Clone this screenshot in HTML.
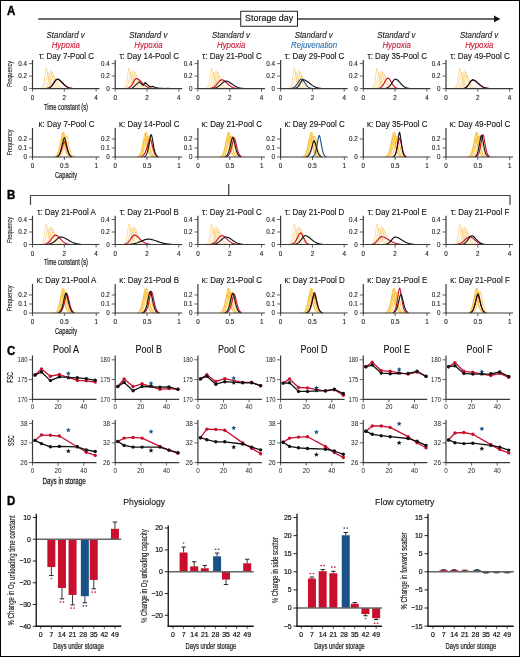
<!DOCTYPE html>
<html><head><meta charset="utf-8"><style>
html,body{margin:0;padding:0;background:#fff;width:520px;height:657px;overflow:hidden}
svg{display:block;will-change:transform}
text{font-family:"Liberation Sans",sans-serif}
</style></head><body>
<svg width="520" height="657" viewBox="0 0 520 657">
<rect x="0.5" y="0.5" width="519" height="656" fill="#fff" stroke="#000" stroke-width="1"/>
<text transform="translate(6.9,15) scale(1,1.1)" font-size="11.5" text-anchor="start" fill="#000" font-weight="bold" font-style="normal" stroke="#000" stroke-width="0.35" >A</text>
<text transform="translate(6.9,199) scale(1,1.1)" font-size="11.5" text-anchor="start" fill="#000" font-weight="bold" font-style="normal" stroke="#000" stroke-width="0.35" >B</text>
<text transform="translate(6.9,354.5) scale(1,1.1)" font-size="11.5" text-anchor="start" fill="#000" font-weight="bold" font-style="normal" stroke="#000" stroke-width="0.35" >C</text>
<text transform="translate(6.9,505) scale(1,1.1)" font-size="11.5" text-anchor="start" fill="#000" font-weight="bold" font-style="normal" stroke="#000" stroke-width="0.35" >D</text>
<line x1="38.25" y1="18.95" x2="495" y2="18.95" stroke="#3a3a3a" stroke-width="1.6"/>
<polygon points="494,15.6 500.4,18.9 494,22.2" fill="#111"/>
<rect x="240.75" y="11.25" width="56.75" height="15" fill="#fff" stroke="#222" stroke-width="1"/>
<text transform="translate(269.1,21.2) scale(1,1.08)" font-size="9" text-anchor="middle" fill="#111" font-weight="normal" font-style="normal" textLength="48" lengthAdjust="spacingAndGlyphs" stroke="#111" stroke-width="0.15" >Storage day</text>
<text transform="translate(65.6,37.5) scale(1,1.2)" font-size="8" text-anchor="middle" fill="#1a1a1a" font-weight="normal" font-style="italic" textLength="38.1" lengthAdjust="spacingAndGlyphs" stroke="#1a1a1a" stroke-width="0.1" >Standard v</text>
<text transform="translate(65.8,47.8) scale(1,1.2)" font-size="8" text-anchor="middle" fill="#c8102e" font-weight="normal" font-style="italic" textLength="28.3" lengthAdjust="spacingAndGlyphs" stroke="#c8102e" stroke-width="0.1" >Hypoxia</text>
<text transform="translate(66.5,59) scale(1,1.2)" font-size="8" text-anchor="middle" fill="#111" font-weight="normal" font-style="normal" stroke="#111" stroke-width="0.1" >τ: Day 7-Pool C</text>
<polyline points="40.45,88.43 41.09,88.22 41.72,87.82 42.36,87.07 42.99,85.74 43.63,83.59 44.27,80.37 44.9,76.09 45.54,71.32 46.17,67.97 46.81,69.87 47.45,72.89 48.08,76.09 48.72,79.05 49.35,81.57 49.99,83.59 50.63,85.13 51.26,86.26 51.9,87.07 52.53,87.62 53.17,87.98 53.81,88.22 54.44,88.37" fill="none" stroke="#f9bd4c" stroke-width="0.5" stroke-linejoin="round" />
<polyline points="41.72,88.45 42.36,88.3 42.99,88.03 43.63,87.55 44.27,86.76 44.9,85.5 45.54,83.63 46.17,81.07 46.81,77.91 47.45,74.59 48.08,72.35 48.72,73.68 49.35,75.83 49.99,78.17 50.63,80.39 51.26,82.34 51.9,83.96 52.53,85.25 53.17,86.24 53.81,86.98 54.44,87.51 55.08,87.88 55.71,88.13 56.35,88.3 56.99,88.41" fill="none" stroke="#f9bd4c" stroke-width="0.5" stroke-linejoin="round" />
<polyline points="44.27,88.44 44.9,88.27 45.54,87.98 46.17,87.45 46.81,86.58 47.45,85.2 48.08,83.15 48.72,80.35 49.35,76.88 49.99,73.24 50.63,70.79 51.26,72.24 51.9,74.61 52.53,77.17 53.17,79.6 53.81,81.74 54.44,83.52 55.08,84.93 55.71,86.02 56.35,86.82 56.99,87.4 57.62,87.81 58.26,88.09 58.89,88.27 59.53,88.4" fill="none" stroke="#f9bd4c" stroke-width="0.5" stroke-linejoin="round" />
<polyline points="45.54,88.37 46.17,88.18 46.81,87.87 47.45,87.34 48.08,86.53 48.72,85.3 49.35,83.56 49.99,81.23 50.63,78.36 51.26,75.22 51.9,72.46 52.53,72.17 53.17,73.93 53.81,76.12 54.44,78.36 55.08,80.46 55.71,82.3 56.35,83.84 56.99,85.08 57.62,86.06 58.26,86.8 58.89,87.34 59.53,87.74 60.17,88.02 60.8,88.22 61.44,88.35" fill="none" stroke="#f9bd4c" stroke-width="0.5" stroke-linejoin="round" />
<polyline points="46.17,88.42 46.81,88.29 47.45,88.07 48.08,87.73 48.72,87.22 49.35,86.47 49.99,85.41 50.63,83.99 51.26,82.2 51.9,80.09 52.53,77.87 53.17,75.97 53.81,75.76 54.44,76.9 55.08,78.35 55.71,79.88 56.35,81.37 56.99,82.74 57.62,83.94 58.26,84.96 58.89,85.81 59.53,86.49 60.17,87.03 60.8,87.45 61.44,87.77 62.07,88.01 62.71,88.18 63.35,88.31 63.98,88.4" fill="none" stroke="#f9bd4c" stroke-width="0.5" stroke-linejoin="round" />
<polyline points="46.81,88.41 47.61,88.28 48.4,88.06 49.2,87.73 49.99,87.26 50.79,86.62 51.58,85.8 52.38,84.79 53.17,83.64 53.97,82.42 54.76,81.24 55.56,80.22 56.35,79.5 57.15,79.22 57.94,79.36 58.74,79.73 59.53,80.27 60.33,80.96 61.12,81.74 61.92,82.58 62.71,83.42 63.51,84.23 64.3,84.99 65.1,85.68 65.89,86.29 66.69,86.8 67.48,87.23 68.28,87.57 69.07,87.85 69.86,88.06 70.66,88.22 71.45,88.34 72.25,88.42" fill="none" stroke="#c8102e" stroke-width="1.15" stroke-linejoin="round" />
<polyline points="46.81,88.45 47.61,88.34 48.4,88.15 49.2,87.87 49.99,87.45 50.79,86.88 51.58,86.12 52.38,85.17 53.17,84.06 53.97,82.84 54.76,81.61 55.56,80.49 56.35,79.62 57.15,79.15 57.94,79.15 58.74,79.43 59.53,79.92 60.33,80.57 61.12,81.33 61.92,82.15 62.71,83.01 63.51,83.85 64.3,84.65 65.1,85.37 65.89,86.02 66.69,86.58 67.48,87.05 68.28,87.43 69.07,87.73 69.86,87.97 70.66,88.15 71.45,88.29 72.25,88.39" fill="none" stroke="#111" stroke-width="1.15" stroke-linejoin="round" />
<line x1="32.5" y1="59.9" x2="32.5" y2="89.1" stroke="#3a3a3a" stroke-width="1.2"/>
<line x1="32" y1="88.6" x2="99.5" y2="88.6" stroke="#3a3a3a" stroke-width="1.2"/>
<line x1="29" y1="88.6" x2="32.5" y2="88.6" stroke="#3a3a3a" stroke-width="0.8"/>
<text transform="translate(27,90.8) scale(1,1)" font-size="6.3" text-anchor="end" fill="#222222" font-weight="normal" font-style="normal" stroke="#222222" stroke-width="0.1" >0</text>
<line x1="29" y1="76.1" x2="32.5" y2="76.1" stroke="#3a3a3a" stroke-width="0.8"/>
<text transform="translate(27,78.3) scale(1,1)" font-size="6.3" text-anchor="end" fill="#222222" font-weight="normal" font-style="normal" stroke="#222222" stroke-width="0.1" >0.2</text>
<line x1="29" y1="63.6" x2="32.5" y2="63.6" stroke="#3a3a3a" stroke-width="0.8"/>
<text transform="translate(27,65.8) scale(1,1)" font-size="6.3" text-anchor="end" fill="#222222" font-weight="normal" font-style="normal" stroke="#222222" stroke-width="0.1" >0.4</text>
<line x1="32.5" y1="88.6" x2="32.5" y2="91.6" stroke="#3a3a3a" stroke-width="0.8"/>
<text transform="translate(32.5,99.6) scale(1,1)" font-size="6.3" text-anchor="middle" fill="#222222" font-weight="normal" font-style="normal" stroke="#222222" stroke-width="0.12" >0</text>
<line x1="64.3" y1="88.6" x2="64.3" y2="91.6" stroke="#3a3a3a" stroke-width="0.8"/>
<text transform="translate(64.3,99.6) scale(1,1)" font-size="6.3" text-anchor="middle" fill="#222222" font-weight="normal" font-style="normal" stroke="#222222" stroke-width="0.12" >2</text>
<line x1="96.1" y1="88.6" x2="96.1" y2="91.6" stroke="#3a3a3a" stroke-width="0.8"/>
<text transform="translate(96.1,99.6) scale(1,1)" font-size="6.3" text-anchor="middle" fill="#222222" font-weight="normal" font-style="normal" stroke="#222222" stroke-width="0.12" >4</text>
<text stroke="#222222" stroke-width="0.1" transform="translate(10.2,74) rotate(-90) scale(1,1.35)" x="0" y="0" font-size="6" text-anchor="middle" dominant-baseline="central" fill="#222222" font-weight="normal" textLength="26" lengthAdjust="spacingAndGlyphs">Frequency</text>
<text transform="translate(66,110) scale(1,1.2)" font-size="7.2" text-anchor="middle" fill="#222222" font-weight="normal" font-style="normal" textLength="44" lengthAdjust="spacingAndGlyphs" stroke="#222222" stroke-width="0.18" >Time constant (s)</text>
<text transform="translate(66.5,127) scale(1,1.2)" font-size="8" text-anchor="middle" fill="#111" font-weight="normal" font-style="normal" stroke="#111" stroke-width="0.1" >κ: Day 7-Pool C</text>
<polyline points="55.45,156.72 56.09,156.47 56.73,156.05 57.36,155.34 58,154.21 58.64,152.53 59.28,150.14 59.91,146.97 60.55,143.1 61.19,138.85 61.83,134.93 62.46,132.7 63.1,134.71 63.74,138.29 64.38,142.26 65.01,146 65.65,149.17 66.29,151.66 66.93,153.51 67.56,154.8 68.2,155.66 68.84,156.21 69.48,156.55 70.11,156.75" fill="none" stroke="#f8b414" stroke-width="0.7" stroke-linejoin="round" />
<polyline points="56.09,156.75 56.73,156.55 57.36,156.2 58,155.64 58.64,154.76 59.28,153.44 59.91,151.56 60.55,149.02 61.19,145.79 61.83,141.99 62.46,137.94 63.1,134.29 63.74,132.25 64.38,134.1 65.01,137.45 65.65,141.23 66.29,144.89 66.93,148.09 67.56,150.69 68.2,152.7 68.84,154.16 69.48,155.19 70.11,155.88 70.75,156.33 71.39,156.61 72.03,156.78" fill="none" stroke="#f8b414" stroke-width="0.7" stroke-linejoin="round" />
<polyline points="56.73,156.75 57.36,156.56 58,156.26 58.64,155.78 59.28,155.06 59.91,154 60.55,152.53 61.19,150.56 61.83,148.07 62.46,145.12 63.1,141.9 63.74,138.77 64.38,136.39 65.01,136.39 65.65,138.77 66.29,141.9 66.93,145.12 67.56,148.07 68.2,150.56 68.84,152.53 69.48,154 70.11,155.06 70.75,155.78 71.39,156.26 72.03,156.56 72.66,156.75" fill="none" stroke="#f8b414" stroke-width="0.7" stroke-linejoin="round" />
<polyline points="58.64,156.74 59.28,156.55 59.91,156.24 60.55,155.75 61.19,155.01 61.83,153.94 62.46,152.43 63.1,150.42 63.74,147.88 64.38,144.87 65.01,141.58 65.65,138.39 66.29,135.95 66.93,135.95 67.56,138.39 68.2,141.58 68.84,144.87 69.48,147.88 70.11,150.42 70.75,152.43 71.39,153.94 72.03,155.01 72.66,155.75 73.3,156.24 73.94,156.55 74.58,156.74" fill="none" stroke="#f8b414" stroke-width="0.7" stroke-linejoin="round" />
<polyline points="54.18,156.7 54.81,156.49 55.45,156.14 56.09,155.62 56.73,154.83 57.36,153.71 58,152.18 58.64,150.19 59.28,147.75 59.91,144.96 60.55,142.07 61.19,139.51 61.83,138.1 62.46,139.33 63.1,141.59 63.74,144.21 64.38,146.82 65.01,149.2 65.65,151.22 66.29,152.85 66.93,154.11 67.56,155.04 68.2,155.71 68.84,156.17 69.48,156.48 70.11,156.68" fill="none" stroke="#f8b414" stroke-width="0.7" stroke-linejoin="round" />
<polyline points="56.73,156.73 57.36,156.52 58,156.2 58.64,155.7 59.28,154.97 59.91,153.94 60.55,152.56 61.19,150.83 61.83,148.78 62.46,146.55 63.1,144.36 63.74,142.57 64.38,141.7 65.01,142.57 65.65,144.36 66.29,146.55 66.93,148.78 67.56,150.83 68.2,152.56 68.84,153.94 69.48,154.97 70.11,155.7 70.75,156.2 71.39,156.52 72.03,156.73" fill="none" stroke="#c8102e" stroke-width="1.1" stroke-linejoin="round" />
<polyline points="56.73,156.66 57.36,156.4 58,156 58.64,155.37 59.28,154.45 59.91,153.16 60.55,151.44 61.19,149.27 61.83,146.7 62.46,143.9 63.1,141.17 63.74,138.93 64.38,137.83 65.01,138.93 65.65,141.17 66.29,143.9 66.93,146.7 67.56,149.27 68.2,151.44 68.84,153.16 69.48,154.45 70.11,155.37 70.75,156 71.39,156.4 72.03,156.66" fill="none" stroke="#111" stroke-width="1.1" stroke-linejoin="round" />
<line x1="32.5" y1="128" x2="32.5" y2="157.5" stroke="#3a3a3a" stroke-width="1.2"/>
<line x1="32" y1="157" x2="99.5" y2="157" stroke="#3a3a3a" stroke-width="1.2"/>
<line x1="29" y1="157" x2="32.5" y2="157" stroke="#3a3a3a" stroke-width="0.8"/>
<text transform="translate(27,159.2) scale(1,1)" font-size="6.3" text-anchor="end" fill="#222222" font-weight="normal" font-style="normal" stroke="#222222" stroke-width="0.1" >0</text>
<line x1="29" y1="148" x2="32.5" y2="148" stroke="#3a3a3a" stroke-width="0.8"/>
<text transform="translate(27,150.2) scale(1,1)" font-size="6.3" text-anchor="end" fill="#222222" font-weight="normal" font-style="normal" stroke="#222222" stroke-width="0.1" >0.1</text>
<line x1="29" y1="139" x2="32.5" y2="139" stroke="#3a3a3a" stroke-width="0.8"/>
<text transform="translate(27,141.2) scale(1,1)" font-size="6.3" text-anchor="end" fill="#222222" font-weight="normal" font-style="normal" stroke="#222222" stroke-width="0.1" >0.2</text>
<line x1="32.5" y1="157" x2="32.5" y2="160" stroke="#3a3a3a" stroke-width="0.8"/>
<text transform="translate(32.5,168) scale(1,1)" font-size="6.3" text-anchor="middle" fill="#222222" font-weight="normal" font-style="normal" stroke="#222222" stroke-width="0.12" >0</text>
<line x1="64.38" y1="157" x2="64.38" y2="160" stroke="#3a3a3a" stroke-width="0.8"/>
<text transform="translate(64.38,168) scale(1,1)" font-size="6.3" text-anchor="middle" fill="#222222" font-weight="normal" font-style="normal" stroke="#222222" stroke-width="0.12" >0.5</text>
<line x1="96.25" y1="157" x2="96.25" y2="160" stroke="#3a3a3a" stroke-width="0.8"/>
<text transform="translate(96.25,168) scale(1,1)" font-size="6.3" text-anchor="middle" fill="#222222" font-weight="normal" font-style="normal" stroke="#222222" stroke-width="0.12" >1</text>
<text stroke="#222222" stroke-width="0.1" transform="translate(10.2,142.4) rotate(-90) scale(1,1.35)" x="0" y="0" font-size="6" text-anchor="middle" dominant-baseline="central" fill="#222222" font-weight="normal" textLength="26" lengthAdjust="spacingAndGlyphs">Frequency</text>
<text transform="translate(66,177.6) scale(1,1.2)" font-size="7.2" text-anchor="middle" fill="#222222" font-weight="normal" font-style="normal" textLength="22" lengthAdjust="spacingAndGlyphs" stroke="#222222" stroke-width="0.18" >Capacity</text>
<text transform="translate(148.3,37.5) scale(1,1.2)" font-size="8" text-anchor="middle" fill="#1a1a1a" font-weight="normal" font-style="italic" textLength="38.1" lengthAdjust="spacingAndGlyphs" stroke="#1a1a1a" stroke-width="0.1" >Standard v</text>
<text transform="translate(148.5,47.8) scale(1,1.2)" font-size="8" text-anchor="middle" fill="#c8102e" font-weight="normal" font-style="italic" textLength="28.3" lengthAdjust="spacingAndGlyphs" stroke="#c8102e" stroke-width="0.1" >Hypoxia</text>
<text transform="translate(149.2,59) scale(1,1.2)" font-size="8" text-anchor="middle" fill="#111" font-weight="normal" font-style="normal" stroke="#111" stroke-width="0.1" >τ: Day 14-Pool C</text>
<polyline points="123.15,88.43 123.79,88.22 124.42,87.82 125.06,87.07 125.69,85.74 126.33,83.59 126.97,80.37 127.6,76.09 128.24,71.32 128.87,67.97 129.51,69.87 130.15,72.89 130.78,76.09 131.42,79.05 132.05,81.57 132.69,83.59 133.33,85.13 133.96,86.26 134.6,87.07 135.23,87.62 135.87,87.98 136.51,88.22 137.14,88.37" fill="none" stroke="#f9bd4c" stroke-width="0.5" stroke-linejoin="round" />
<polyline points="124.42,88.45 125.06,88.3 125.69,88.03 126.33,87.55 126.97,86.76 127.6,85.5 128.24,83.63 128.87,81.07 129.51,77.91 130.15,74.59 130.78,72.35 131.42,73.68 132.05,75.83 132.69,78.17 133.33,80.39 133.96,82.34 134.6,83.96 135.23,85.25 135.87,86.24 136.51,86.98 137.14,87.51 137.78,87.88 138.41,88.13 139.05,88.3 139.69,88.41" fill="none" stroke="#f9bd4c" stroke-width="0.5" stroke-linejoin="round" />
<polyline points="126.97,88.44 127.6,88.27 128.24,87.98 128.87,87.45 129.51,86.58 130.15,85.2 130.78,83.15 131.42,80.35 132.05,76.88 132.69,73.24 133.33,70.79 133.96,72.24 134.6,74.61 135.23,77.17 135.87,79.6 136.51,81.74 137.14,83.52 137.78,84.93 138.41,86.02 139.05,86.82 139.69,87.4 140.32,87.81 140.96,88.09 141.59,88.27 142.23,88.4" fill="none" stroke="#f9bd4c" stroke-width="0.5" stroke-linejoin="round" />
<polyline points="128.24,88.37 128.87,88.18 129.51,87.87 130.15,87.34 130.78,86.53 131.42,85.3 132.05,83.56 132.69,81.23 133.33,78.36 133.96,75.22 134.6,72.46 135.23,72.17 135.87,73.93 136.51,76.12 137.14,78.36 137.78,80.46 138.41,82.3 139.05,83.84 139.69,85.08 140.32,86.06 140.96,86.8 141.59,87.34 142.23,87.74 142.87,88.02 143.5,88.22 144.14,88.35" fill="none" stroke="#f9bd4c" stroke-width="0.5" stroke-linejoin="round" />
<polyline points="128.87,88.42 129.51,88.29 130.15,88.07 130.78,87.73 131.42,87.22 132.05,86.47 132.69,85.41 133.33,83.99 133.96,82.2 134.6,80.09 135.23,77.87 135.87,75.97 136.51,75.76 137.14,76.9 137.78,78.35 138.41,79.88 139.05,81.37 139.69,82.74 140.32,83.94 140.96,84.96 141.59,85.81 142.23,86.49 142.87,87.03 143.5,87.45 144.14,87.77 144.77,88.01 145.41,88.18 146.05,88.31 146.68,88.4" fill="none" stroke="#f9bd4c" stroke-width="0.5" stroke-linejoin="round" />
<polyline points="127.12,88.37 127.92,88.19 128.72,87.89 129.51,87.42 130.31,86.76 131.1,85.86 131.9,84.72 132.69,83.39 133.49,81.96 134.28,80.58 135.08,79.44 135.87,78.74 136.67,78.62 137.46,78.83 138.26,79.23 139.05,79.79 139.85,80.47 140.64,81.23 141.44,82.04 142.23,82.86 143.03,83.67 143.82,84.43 144.62,85.14 145.41,85.77 146.21,86.33 147,86.8 147.8,87.2 148.59,87.53 149.39,87.8 150.18,88 150.97,88.17 151.77,88.29 152.56,88.38" fill="none" stroke="#c8102e" stroke-width="1.15" stroke-linejoin="round" />
<polyline points="130.31,88.6 132.05,88.29 135.87,84.85 139.21,81.91 143.18,85.47 145.09,82.47 148.91,86.1 150.97,86.72 152.88,86.41 154.95,87.35 156.86,87.85 159.72,88.35 162.11,88.22 164.49,88.47 167.67,88.22 170.06,88.6" fill="none" stroke="#111" stroke-width="1.1" stroke-linejoin="round" />
<line x1="115.2" y1="59.9" x2="115.2" y2="89.1" stroke="#3a3a3a" stroke-width="1.2"/>
<line x1="114.7" y1="88.6" x2="182.2" y2="88.6" stroke="#3a3a3a" stroke-width="1.2"/>
<line x1="111.7" y1="88.6" x2="115.2" y2="88.6" stroke="#3a3a3a" stroke-width="0.8"/>
<text transform="translate(109.7,90.8) scale(1,1)" font-size="6.3" text-anchor="end" fill="#222222" font-weight="normal" font-style="normal" stroke="#222222" stroke-width="0.1" >0</text>
<line x1="111.7" y1="76.1" x2="115.2" y2="76.1" stroke="#3a3a3a" stroke-width="0.8"/>
<text transform="translate(109.7,78.3) scale(1,1)" font-size="6.3" text-anchor="end" fill="#222222" font-weight="normal" font-style="normal" stroke="#222222" stroke-width="0.1" >0.2</text>
<line x1="111.7" y1="63.6" x2="115.2" y2="63.6" stroke="#3a3a3a" stroke-width="0.8"/>
<text transform="translate(109.7,65.8) scale(1,1)" font-size="6.3" text-anchor="end" fill="#222222" font-weight="normal" font-style="normal" stroke="#222222" stroke-width="0.1" >0.4</text>
<line x1="115.2" y1="88.6" x2="115.2" y2="91.6" stroke="#3a3a3a" stroke-width="0.8"/>
<text transform="translate(115.2,99.6) scale(1,1)" font-size="6.3" text-anchor="middle" fill="#222222" font-weight="normal" font-style="normal" stroke="#222222" stroke-width="0.12" >0</text>
<line x1="147" y1="88.6" x2="147" y2="91.6" stroke="#3a3a3a" stroke-width="0.8"/>
<text transform="translate(147,99.6) scale(1,1)" font-size="6.3" text-anchor="middle" fill="#222222" font-weight="normal" font-style="normal" stroke="#222222" stroke-width="0.12" >2</text>
<line x1="178.8" y1="88.6" x2="178.8" y2="91.6" stroke="#3a3a3a" stroke-width="0.8"/>
<text transform="translate(178.8,99.6) scale(1,1)" font-size="6.3" text-anchor="middle" fill="#222222" font-weight="normal" font-style="normal" stroke="#222222" stroke-width="0.12" >4</text>
<text transform="translate(149.2,127) scale(1,1.2)" font-size="8" text-anchor="middle" fill="#111" font-weight="normal" font-style="normal" stroke="#111" stroke-width="0.1" >κ: Day 14-Pool C</text>
<polyline points="138.15,156.72 138.79,156.47 139.43,156.05 140.06,155.34 140.7,154.21 141.34,152.53 141.98,150.14 142.61,146.97 143.25,143.1 143.89,138.85 144.53,134.93 145.16,132.7 145.8,134.71 146.44,138.29 147.08,142.26 147.71,146 148.35,149.17 148.99,151.66 149.63,153.51 150.26,154.8 150.9,155.66 151.54,156.21 152.18,156.55 152.81,156.75" fill="none" stroke="#f8b414" stroke-width="0.7" stroke-linejoin="round" />
<polyline points="138.79,156.75 139.43,156.55 140.06,156.2 140.7,155.64 141.34,154.76 141.98,153.44 142.61,151.56 143.25,149.02 143.89,145.79 144.53,141.99 145.16,137.94 145.8,134.29 146.44,132.25 147.08,134.1 147.71,137.45 148.35,141.23 148.99,144.89 149.63,148.09 150.26,150.69 150.9,152.7 151.54,154.16 152.18,155.19 152.81,155.88 153.45,156.33 154.09,156.61 154.73,156.78" fill="none" stroke="#f8b414" stroke-width="0.7" stroke-linejoin="round" />
<polyline points="139.43,156.75 140.06,156.56 140.7,156.26 141.34,155.78 141.98,155.06 142.61,154 143.25,152.53 143.89,150.56 144.53,148.07 145.16,145.12 145.8,141.9 146.44,138.77 147.08,136.39 147.71,136.39 148.35,138.77 148.99,141.9 149.63,145.12 150.26,148.07 150.9,150.56 151.54,152.53 152.18,154 152.81,155.06 153.45,155.78 154.09,156.26 154.73,156.56 155.36,156.75" fill="none" stroke="#f8b414" stroke-width="0.7" stroke-linejoin="round" />
<polyline points="141.34,156.74 141.98,156.55 142.61,156.24 143.25,155.75 143.89,155.01 144.53,153.94 145.16,152.43 145.8,150.42 146.44,147.88 147.08,144.87 147.71,141.58 148.35,138.39 148.99,135.95 149.63,135.95 150.26,138.39 150.9,141.58 151.54,144.87 152.18,147.88 152.81,150.42 153.45,152.43 154.09,153.94 154.73,155.01 155.36,155.75 156,156.24 156.64,156.55 157.28,156.74" fill="none" stroke="#f8b414" stroke-width="0.7" stroke-linejoin="round" />
<polyline points="136.88,156.7 137.51,156.49 138.15,156.14 138.79,155.62 139.43,154.83 140.06,153.71 140.7,152.18 141.34,150.19 141.98,147.75 142.61,144.96 143.25,142.07 143.89,139.51 144.53,138.1 145.16,139.33 145.8,141.59 146.44,144.21 147.08,146.82 147.71,149.2 148.35,151.22 148.99,152.85 149.63,154.11 150.26,155.04 150.9,155.71 151.54,156.17 152.18,156.48 152.81,156.68" fill="none" stroke="#f8b414" stroke-width="0.7" stroke-linejoin="round" />
<polyline points="140.7,156.68 141.34,156.5 141.98,156.23 142.61,155.85 143.25,155.32 143.89,154.61 144.53,153.67 145.16,152.48 145.8,151.01 146.44,149.28 147.08,147.33 147.71,145.23 148.35,143.13 148.99,141.21 149.63,139.71 150.26,139 150.9,140.03 151.54,142.13 152.18,144.7 152.81,147.33 153.45,149.74 154.09,151.78 154.73,153.4 155.36,154.61 156,155.47 156.64,156.06 157.28,156.44 157.91,156.68" fill="none" stroke="#c8102e" stroke-width="1.1" stroke-linejoin="round" />
<polyline points="143.89,156.78 144.53,156.57 145.16,156.19 145.8,155.55 146.44,154.53 147.08,152.99 147.71,150.81 148.35,147.93 148.99,144.45 149.63,140.65 150.26,137.1 150.9,134.67 151.54,135.01 152.18,137.75 152.81,141.41 153.45,145.18 154.09,148.56 154.73,151.3 155.36,153.35 156,154.78 156.64,155.71 157.28,156.28 157.91,156.62 158.55,156.81" fill="none" stroke="#111" stroke-width="1.1" stroke-linejoin="round" />
<line x1="115.2" y1="128" x2="115.2" y2="157.5" stroke="#3a3a3a" stroke-width="1.2"/>
<line x1="114.7" y1="157" x2="182.2" y2="157" stroke="#3a3a3a" stroke-width="1.2"/>
<line x1="111.7" y1="157" x2="115.2" y2="157" stroke="#3a3a3a" stroke-width="0.8"/>
<text transform="translate(109.7,159.2) scale(1,1)" font-size="6.3" text-anchor="end" fill="#222222" font-weight="normal" font-style="normal" stroke="#222222" stroke-width="0.1" >0</text>
<line x1="111.7" y1="148" x2="115.2" y2="148" stroke="#3a3a3a" stroke-width="0.8"/>
<text transform="translate(109.7,150.2) scale(1,1)" font-size="6.3" text-anchor="end" fill="#222222" font-weight="normal" font-style="normal" stroke="#222222" stroke-width="0.1" >0.1</text>
<line x1="111.7" y1="139" x2="115.2" y2="139" stroke="#3a3a3a" stroke-width="0.8"/>
<text transform="translate(109.7,141.2) scale(1,1)" font-size="6.3" text-anchor="end" fill="#222222" font-weight="normal" font-style="normal" stroke="#222222" stroke-width="0.1" >0.2</text>
<line x1="115.2" y1="157" x2="115.2" y2="160" stroke="#3a3a3a" stroke-width="0.8"/>
<text transform="translate(115.2,168) scale(1,1)" font-size="6.3" text-anchor="middle" fill="#222222" font-weight="normal" font-style="normal" stroke="#222222" stroke-width="0.12" >0</text>
<line x1="147.07" y1="157" x2="147.07" y2="160" stroke="#3a3a3a" stroke-width="0.8"/>
<text transform="translate(147.07,168) scale(1,1)" font-size="6.3" text-anchor="middle" fill="#222222" font-weight="normal" font-style="normal" stroke="#222222" stroke-width="0.12" >0.5</text>
<line x1="178.95" y1="157" x2="178.95" y2="160" stroke="#3a3a3a" stroke-width="0.8"/>
<text transform="translate(178.95,168) scale(1,1)" font-size="6.3" text-anchor="middle" fill="#222222" font-weight="normal" font-style="normal" stroke="#222222" stroke-width="0.12" >1</text>
<text transform="translate(231,37.5) scale(1,1.2)" font-size="8" text-anchor="middle" fill="#1a1a1a" font-weight="normal" font-style="italic" textLength="38.1" lengthAdjust="spacingAndGlyphs" stroke="#1a1a1a" stroke-width="0.1" >Standard v</text>
<text transform="translate(231.2,47.8) scale(1,1.2)" font-size="8" text-anchor="middle" fill="#c8102e" font-weight="normal" font-style="italic" textLength="28.3" lengthAdjust="spacingAndGlyphs" stroke="#c8102e" stroke-width="0.1" >Hypoxia</text>
<text transform="translate(231.9,59) scale(1,1.2)" font-size="8" text-anchor="middle" fill="#111" font-weight="normal" font-style="normal" stroke="#111" stroke-width="0.1" >τ: Day 21-Pool C</text>
<polyline points="205.85,88.43 206.49,88.22 207.12,87.82 207.76,87.07 208.39,85.74 209.03,83.59 209.67,80.37 210.3,76.09 210.94,71.32 211.57,67.97 212.21,69.87 212.85,72.89 213.48,76.09 214.12,79.05 214.75,81.57 215.39,83.59 216.03,85.13 216.66,86.26 217.3,87.07 217.93,87.62 218.57,87.98 219.21,88.22 219.84,88.37" fill="none" stroke="#f9bd4c" stroke-width="0.5" stroke-linejoin="round" />
<polyline points="207.12,88.45 207.76,88.3 208.39,88.03 209.03,87.55 209.67,86.76 210.3,85.5 210.94,83.63 211.57,81.07 212.21,77.91 212.85,74.59 213.48,72.35 214.12,73.68 214.75,75.83 215.39,78.17 216.03,80.39 216.66,82.34 217.3,83.96 217.93,85.25 218.57,86.24 219.21,86.98 219.84,87.51 220.48,87.88 221.11,88.13 221.75,88.3 222.39,88.41" fill="none" stroke="#f9bd4c" stroke-width="0.5" stroke-linejoin="round" />
<polyline points="209.67,88.44 210.3,88.27 210.94,87.98 211.57,87.45 212.21,86.58 212.85,85.2 213.48,83.15 214.12,80.35 214.75,76.88 215.39,73.24 216.03,70.79 216.66,72.24 217.3,74.61 217.93,77.17 218.57,79.6 219.21,81.74 219.84,83.52 220.48,84.93 221.11,86.02 221.75,86.82 222.39,87.4 223.02,87.81 223.66,88.09 224.29,88.27 224.93,88.4" fill="none" stroke="#f9bd4c" stroke-width="0.5" stroke-linejoin="round" />
<polyline points="210.94,88.37 211.57,88.18 212.21,87.87 212.85,87.34 213.48,86.53 214.12,85.3 214.75,83.56 215.39,81.23 216.03,78.36 216.66,75.22 217.3,72.46 217.93,72.17 218.57,73.93 219.21,76.12 219.84,78.36 220.48,80.46 221.11,82.3 221.75,83.84 222.39,85.08 223.02,86.06 223.66,86.8 224.29,87.34 224.93,87.74 225.57,88.02 226.2,88.22 226.84,88.35" fill="none" stroke="#f9bd4c" stroke-width="0.5" stroke-linejoin="round" />
<polyline points="211.57,88.42 212.21,88.29 212.85,88.07 213.48,87.73 214.12,87.22 214.75,86.47 215.39,85.41 216.03,83.99 216.66,82.2 217.3,80.09 217.93,77.87 218.57,75.97 219.21,75.76 219.84,76.9 220.48,78.35 221.11,79.88 221.75,81.37 222.39,82.74 223.02,83.94 223.66,84.96 224.29,85.81 224.93,86.49 225.57,87.03 226.2,87.45 226.84,87.77 227.47,88.01 228.11,88.18 228.75,88.31 229.38,88.4" fill="none" stroke="#f9bd4c" stroke-width="0.5" stroke-linejoin="round" />
<polyline points="209.83,88.44 210.62,88.34 211.42,88.19 212.21,87.97 213.01,87.65 213.8,87.23 214.59,86.67 215.39,85.98 216.19,85.16 216.98,84.22 217.78,83.22 218.57,82.2 219.37,81.26 220.16,80.47 220.96,79.93 221.75,79.72 222.55,79.85 223.34,80.17 224.14,80.66 224.93,81.28 225.73,81.99 226.52,82.75 227.32,83.53 228.11,84.28 228.91,85 229.7,85.65 230.5,86.23 231.29,86.73 232.09,87.15 232.88,87.5 233.68,87.78 234.47,88 235.26,88.17 236.06,88.29 236.85,88.39" fill="none" stroke="#c8102e" stroke-width="1.15" stroke-linejoin="round" />
<polyline points="212.21,88.43 213.01,88.34 213.8,88.23 214.59,88.06 215.39,87.85 216.19,87.57 216.98,87.22 217.78,86.79 218.57,86.28 219.37,85.69 220.16,85.04 220.96,84.34 221.75,83.62 222.55,82.92 223.34,82.27 224.14,81.73 224.93,81.33 225.73,81.12 226.52,81.13 227.32,81.29 228.11,81.57 228.91,81.95 229.7,82.41 230.5,82.93 231.29,83.48 232.09,84.05 232.88,84.62 233.68,85.16 234.47,85.67 235.26,86.14 236.06,86.57 236.85,86.94 237.65,87.27 238.44,87.54 239.24,87.77 240.03,87.96 240.83,88.11 241.62,88.24 242.42,88.33 243.21,88.4" fill="none" stroke="#111" stroke-width="1.15" stroke-linejoin="round" />
<line x1="197.9" y1="59.9" x2="197.9" y2="89.1" stroke="#3a3a3a" stroke-width="1.2"/>
<line x1="197.4" y1="88.6" x2="264.9" y2="88.6" stroke="#3a3a3a" stroke-width="1.2"/>
<line x1="194.4" y1="88.6" x2="197.9" y2="88.6" stroke="#3a3a3a" stroke-width="0.8"/>
<text transform="translate(192.4,90.8) scale(1,1)" font-size="6.3" text-anchor="end" fill="#222222" font-weight="normal" font-style="normal" stroke="#222222" stroke-width="0.1" >0</text>
<line x1="194.4" y1="76.1" x2="197.9" y2="76.1" stroke="#3a3a3a" stroke-width="0.8"/>
<text transform="translate(192.4,78.3) scale(1,1)" font-size="6.3" text-anchor="end" fill="#222222" font-weight="normal" font-style="normal" stroke="#222222" stroke-width="0.1" >0.2</text>
<line x1="194.4" y1="63.6" x2="197.9" y2="63.6" stroke="#3a3a3a" stroke-width="0.8"/>
<text transform="translate(192.4,65.8) scale(1,1)" font-size="6.3" text-anchor="end" fill="#222222" font-weight="normal" font-style="normal" stroke="#222222" stroke-width="0.1" >0.4</text>
<line x1="197.9" y1="88.6" x2="197.9" y2="91.6" stroke="#3a3a3a" stroke-width="0.8"/>
<text transform="translate(197.9,99.6) scale(1,1)" font-size="6.3" text-anchor="middle" fill="#222222" font-weight="normal" font-style="normal" stroke="#222222" stroke-width="0.12" >0</text>
<line x1="229.7" y1="88.6" x2="229.7" y2="91.6" stroke="#3a3a3a" stroke-width="0.8"/>
<text transform="translate(229.7,99.6) scale(1,1)" font-size="6.3" text-anchor="middle" fill="#222222" font-weight="normal" font-style="normal" stroke="#222222" stroke-width="0.12" >2</text>
<line x1="261.5" y1="88.6" x2="261.5" y2="91.6" stroke="#3a3a3a" stroke-width="0.8"/>
<text transform="translate(261.5,99.6) scale(1,1)" font-size="6.3" text-anchor="middle" fill="#222222" font-weight="normal" font-style="normal" stroke="#222222" stroke-width="0.12" >4</text>
<text transform="translate(231.9,127) scale(1,1.2)" font-size="8" text-anchor="middle" fill="#111" font-weight="normal" font-style="normal" stroke="#111" stroke-width="0.1" >κ: Day 21-Pool C</text>
<polyline points="220.85,156.72 221.49,156.47 222.12,156.05 222.76,155.34 223.4,154.21 224.04,152.53 224.68,150.14 225.31,146.97 225.95,143.1 226.59,138.85 227.23,134.93 227.86,132.7 228.5,134.71 229.14,138.29 229.78,142.26 230.41,146 231.05,149.17 231.69,151.66 232.33,153.51 232.96,154.8 233.6,155.66 234.24,156.21 234.88,156.55 235.51,156.75" fill="none" stroke="#f8b414" stroke-width="0.7" stroke-linejoin="round" />
<polyline points="221.49,156.75 222.12,156.55 222.76,156.2 223.4,155.64 224.04,154.76 224.68,153.44 225.31,151.56 225.95,149.02 226.59,145.79 227.23,141.99 227.86,137.94 228.5,134.29 229.14,132.25 229.78,134.1 230.41,137.45 231.05,141.23 231.69,144.89 232.33,148.09 232.96,150.69 233.6,152.7 234.24,154.16 234.88,155.19 235.51,155.88 236.15,156.33 236.79,156.61 237.43,156.78" fill="none" stroke="#f8b414" stroke-width="0.7" stroke-linejoin="round" />
<polyline points="222.12,156.75 222.76,156.56 223.4,156.26 224.04,155.78 224.68,155.06 225.31,154 225.95,152.53 226.59,150.56 227.23,148.07 227.86,145.12 228.5,141.9 229.14,138.77 229.78,136.39 230.41,136.39 231.05,138.77 231.69,141.9 232.33,145.12 232.96,148.07 233.6,150.56 234.24,152.53 234.88,154 235.51,155.06 236.15,155.78 236.79,156.26 237.43,156.56 238.06,156.75" fill="none" stroke="#f8b414" stroke-width="0.7" stroke-linejoin="round" />
<polyline points="224.04,156.74 224.68,156.55 225.31,156.24 225.95,155.75 226.59,155.01 227.23,153.94 227.86,152.43 228.5,150.42 229.14,147.88 229.78,144.87 230.41,141.58 231.05,138.39 231.69,135.95 232.33,135.95 232.96,138.39 233.6,141.58 234.24,144.87 234.88,147.88 235.51,150.42 236.15,152.43 236.79,153.94 237.43,155.01 238.06,155.75 238.7,156.24 239.34,156.55 239.98,156.74" fill="none" stroke="#f8b414" stroke-width="0.7" stroke-linejoin="round" />
<polyline points="219.58,156.7 220.21,156.49 220.85,156.14 221.49,155.62 222.12,154.83 222.76,153.71 223.4,152.18 224.04,150.19 224.68,147.75 225.31,144.96 225.95,142.07 226.59,139.51 227.23,138.1 227.86,139.33 228.5,141.59 229.14,144.21 229.78,146.82 230.41,149.2 231.05,151.22 231.69,152.85 232.33,154.11 232.96,155.04 233.6,155.71 234.24,156.17 234.88,156.48 235.51,156.68" fill="none" stroke="#f8b414" stroke-width="0.7" stroke-linejoin="round" />
<polyline points="226.59,156.66 227.23,156.41 227.86,156.01 228.5,155.4 229.14,154.49 229.78,153.22 230.41,151.52 231.05,149.38 231.69,146.85 232.33,144.09 232.96,141.39 233.6,139.18 234.24,138.1 234.88,139.18 235.51,141.39 236.15,144.09 236.79,146.85 237.43,149.38 238.06,151.52 238.7,153.22 239.34,154.49 239.98,155.4 240.61,156.01 241.25,156.41 241.89,156.66" fill="none" stroke="#c8102e" stroke-width="1.1" stroke-linejoin="round" />
<polyline points="224.68,156.76 225.31,156.58 225.95,156.27 226.59,155.79 227.23,155.05 227.86,153.99 228.5,152.51 229.14,150.58 229.78,148.18 230.41,145.41 231.05,142.47 231.69,139.72 232.33,137.65 232.96,137.17 233.6,138.78 234.24,141.32 234.88,144.24 235.51,147.1 236.15,149.67 236.79,151.79 237.43,153.45 238.06,154.67 238.7,155.53 239.34,156.1 239.98,156.47 240.61,156.7" fill="none" stroke="#111" stroke-width="1.1" stroke-linejoin="round" />
<line x1="197.9" y1="128" x2="197.9" y2="157.5" stroke="#3a3a3a" stroke-width="1.2"/>
<line x1="197.4" y1="157" x2="264.9" y2="157" stroke="#3a3a3a" stroke-width="1.2"/>
<line x1="194.4" y1="157" x2="197.9" y2="157" stroke="#3a3a3a" stroke-width="0.8"/>
<text transform="translate(192.4,159.2) scale(1,1)" font-size="6.3" text-anchor="end" fill="#222222" font-weight="normal" font-style="normal" stroke="#222222" stroke-width="0.1" >0</text>
<line x1="194.4" y1="148" x2="197.9" y2="148" stroke="#3a3a3a" stroke-width="0.8"/>
<text transform="translate(192.4,150.2) scale(1,1)" font-size="6.3" text-anchor="end" fill="#222222" font-weight="normal" font-style="normal" stroke="#222222" stroke-width="0.1" >0.1</text>
<line x1="194.4" y1="139" x2="197.9" y2="139" stroke="#3a3a3a" stroke-width="0.8"/>
<text transform="translate(192.4,141.2) scale(1,1)" font-size="6.3" text-anchor="end" fill="#222222" font-weight="normal" font-style="normal" stroke="#222222" stroke-width="0.1" >0.2</text>
<line x1="197.9" y1="157" x2="197.9" y2="160" stroke="#3a3a3a" stroke-width="0.8"/>
<text transform="translate(197.9,168) scale(1,1)" font-size="6.3" text-anchor="middle" fill="#222222" font-weight="normal" font-style="normal" stroke="#222222" stroke-width="0.12" >0</text>
<line x1="229.78" y1="157" x2="229.78" y2="160" stroke="#3a3a3a" stroke-width="0.8"/>
<text transform="translate(229.78,168) scale(1,1)" font-size="6.3" text-anchor="middle" fill="#222222" font-weight="normal" font-style="normal" stroke="#222222" stroke-width="0.12" >0.5</text>
<line x1="261.65" y1="157" x2="261.65" y2="160" stroke="#3a3a3a" stroke-width="0.8"/>
<text transform="translate(261.65,168) scale(1,1)" font-size="6.3" text-anchor="middle" fill="#222222" font-weight="normal" font-style="normal" stroke="#222222" stroke-width="0.12" >1</text>
<text transform="translate(313.7,37.5) scale(1,1.2)" font-size="8" text-anchor="middle" fill="#1a1a1a" font-weight="normal" font-style="italic" textLength="38.1" lengthAdjust="spacingAndGlyphs" stroke="#1a1a1a" stroke-width="0.1" >Standard v</text>
<text transform="translate(314.1,47.8) scale(1,1.2)" font-size="8" text-anchor="middle" fill="#2a6fad" font-weight="normal" font-style="italic" textLength="46" lengthAdjust="spacingAndGlyphs" stroke="#2a6fad" stroke-width="0.1" >Rejuvenation</text>
<text transform="translate(314.6,59) scale(1,1.2)" font-size="8" text-anchor="middle" fill="#111" font-weight="normal" font-style="normal" stroke="#111" stroke-width="0.1" >τ: Day 29-Pool C</text>
<polyline points="288.55,88.43 289.19,88.22 289.82,87.82 290.46,87.07 291.09,85.74 291.73,83.59 292.37,80.37 293,76.09 293.64,71.32 294.27,67.97 294.91,69.87 295.55,72.89 296.18,76.09 296.82,79.05 297.45,81.57 298.09,83.59 298.73,85.13 299.36,86.26 300,87.07 300.63,87.62 301.27,87.98 301.91,88.22 302.54,88.37" fill="none" stroke="#f9bd4c" stroke-width="0.5" stroke-linejoin="round" />
<polyline points="289.82,88.45 290.46,88.3 291.09,88.03 291.73,87.55 292.37,86.76 293,85.5 293.64,83.63 294.27,81.07 294.91,77.91 295.55,74.59 296.18,72.35 296.82,73.68 297.45,75.83 298.09,78.17 298.73,80.39 299.36,82.34 300,83.96 300.63,85.25 301.27,86.24 301.91,86.98 302.54,87.51 303.18,87.88 303.81,88.13 304.45,88.3 305.09,88.41" fill="none" stroke="#f9bd4c" stroke-width="0.5" stroke-linejoin="round" />
<polyline points="292.37,88.44 293,88.27 293.64,87.98 294.27,87.45 294.91,86.58 295.55,85.2 296.18,83.15 296.82,80.35 297.45,76.88 298.09,73.24 298.73,70.79 299.36,72.24 300,74.61 300.63,77.17 301.27,79.6 301.91,81.74 302.54,83.52 303.18,84.93 303.81,86.02 304.45,86.82 305.09,87.4 305.72,87.81 306.36,88.09 306.99,88.27 307.63,88.4" fill="none" stroke="#f9bd4c" stroke-width="0.5" stroke-linejoin="round" />
<polyline points="293.64,88.37 294.27,88.18 294.91,87.87 295.55,87.34 296.18,86.53 296.82,85.3 297.45,83.56 298.09,81.23 298.73,78.36 299.36,75.22 300,72.46 300.63,72.17 301.27,73.93 301.91,76.12 302.54,78.36 303.18,80.46 303.81,82.3 304.45,83.84 305.09,85.08 305.72,86.06 306.36,86.8 306.99,87.34 307.63,87.74 308.27,88.02 308.9,88.22 309.54,88.35" fill="none" stroke="#f9bd4c" stroke-width="0.5" stroke-linejoin="round" />
<polyline points="294.27,88.42 294.91,88.29 295.55,88.07 296.18,87.73 296.82,87.22 297.45,86.47 298.09,85.41 298.73,83.99 299.36,82.2 300,80.09 300.63,77.87 301.27,75.97 301.91,75.76 302.54,76.9 303.18,78.35 303.81,79.88 304.45,81.37 305.09,82.74 305.72,83.94 306.36,84.96 306.99,85.81 307.63,86.49 308.27,87.03 308.9,87.45 309.54,87.77 310.17,88.01 310.81,88.18 311.45,88.31 312.08,88.4" fill="none" stroke="#f9bd4c" stroke-width="0.5" stroke-linejoin="round" />
<polyline points="290.94,88.43 291.73,88.3 292.53,88.1 293.32,87.79 294.12,87.34 294.91,86.73 295.71,85.93 296.5,84.94 297.3,83.79 298.09,82.55 298.89,81.32 299.68,80.24 300.48,79.43 301.27,79.05 302.07,79.22 302.86,79.87 303.66,80.86 304.45,82.05 305.25,83.3 306.04,84.49 306.84,85.55 307.63,86.43 308.43,87.12 309.22,87.63 310.02,87.99 310.81,88.23 311.61,88.39" fill="none" stroke="#1a5288" stroke-width="1.15" stroke-linejoin="round" />
<polyline points="294.91,88.39 295.71,88.2 296.5,87.87 297.3,87.36 298.09,86.6 298.89,85.59 299.68,84.33 300.48,82.93 301.27,81.56 302.07,80.43 302.86,79.79 303.66,79.76 304.45,79.93 305.25,80.23 306.04,80.65 306.84,81.15 307.63,81.72 308.43,82.33 309.22,82.96 310.02,83.6 310.81,84.22 311.61,84.82 312.4,85.38 313.2,85.89 313.99,86.35 314.79,86.75 315.58,87.1 316.38,87.4 317.17,87.65 317.97,87.86 318.76,88.03 319.56,88.17 320.35,88.27 321.14,88.36" fill="none" stroke="#111" stroke-width="1.15" stroke-linejoin="round" />
<line x1="280.6" y1="59.9" x2="280.6" y2="89.1" stroke="#3a3a3a" stroke-width="1.2"/>
<line x1="280.1" y1="88.6" x2="347.6" y2="88.6" stroke="#3a3a3a" stroke-width="1.2"/>
<line x1="277.1" y1="88.6" x2="280.6" y2="88.6" stroke="#3a3a3a" stroke-width="0.8"/>
<text transform="translate(275.1,90.8) scale(1,1)" font-size="6.3" text-anchor="end" fill="#222222" font-weight="normal" font-style="normal" stroke="#222222" stroke-width="0.1" >0</text>
<line x1="277.1" y1="76.1" x2="280.6" y2="76.1" stroke="#3a3a3a" stroke-width="0.8"/>
<text transform="translate(275.1,78.3) scale(1,1)" font-size="6.3" text-anchor="end" fill="#222222" font-weight="normal" font-style="normal" stroke="#222222" stroke-width="0.1" >0.2</text>
<line x1="277.1" y1="63.6" x2="280.6" y2="63.6" stroke="#3a3a3a" stroke-width="0.8"/>
<text transform="translate(275.1,65.8) scale(1,1)" font-size="6.3" text-anchor="end" fill="#222222" font-weight="normal" font-style="normal" stroke="#222222" stroke-width="0.1" >0.4</text>
<line x1="280.6" y1="88.6" x2="280.6" y2="91.6" stroke="#3a3a3a" stroke-width="0.8"/>
<text transform="translate(280.6,99.6) scale(1,1)" font-size="6.3" text-anchor="middle" fill="#222222" font-weight="normal" font-style="normal" stroke="#222222" stroke-width="0.12" >0</text>
<line x1="312.4" y1="88.6" x2="312.4" y2="91.6" stroke="#3a3a3a" stroke-width="0.8"/>
<text transform="translate(312.4,99.6) scale(1,1)" font-size="6.3" text-anchor="middle" fill="#222222" font-weight="normal" font-style="normal" stroke="#222222" stroke-width="0.12" >2</text>
<line x1="344.2" y1="88.6" x2="344.2" y2="91.6" stroke="#3a3a3a" stroke-width="0.8"/>
<text transform="translate(344.2,99.6) scale(1,1)" font-size="6.3" text-anchor="middle" fill="#222222" font-weight="normal" font-style="normal" stroke="#222222" stroke-width="0.12" >4</text>
<text transform="translate(314.6,127) scale(1,1.2)" font-size="8" text-anchor="middle" fill="#111" font-weight="normal" font-style="normal" stroke="#111" stroke-width="0.1" >κ: Day 29-Pool C</text>
<polyline points="303.55,156.72 304.19,156.47 304.83,156.05 305.46,155.34 306.1,154.21 306.74,152.53 307.38,150.14 308.01,146.97 308.65,143.1 309.29,138.85 309.93,134.93 310.56,132.7 311.2,134.71 311.84,138.29 312.48,142.26 313.11,146 313.75,149.17 314.39,151.66 315.03,153.51 315.66,154.8 316.3,155.66 316.94,156.21 317.58,156.55 318.21,156.75" fill="none" stroke="#f8b414" stroke-width="0.7" stroke-linejoin="round" />
<polyline points="304.19,156.75 304.83,156.55 305.46,156.2 306.1,155.64 306.74,154.76 307.38,153.44 308.01,151.56 308.65,149.02 309.29,145.79 309.93,141.99 310.56,137.94 311.2,134.29 311.84,132.25 312.48,134.1 313.11,137.45 313.75,141.23 314.39,144.89 315.03,148.09 315.66,150.69 316.3,152.7 316.94,154.16 317.58,155.19 318.21,155.88 318.85,156.33 319.49,156.61 320.13,156.78" fill="none" stroke="#f8b414" stroke-width="0.7" stroke-linejoin="round" />
<polyline points="304.83,156.75 305.46,156.56 306.1,156.26 306.74,155.78 307.38,155.06 308.01,154 308.65,152.53 309.29,150.56 309.93,148.07 310.56,145.12 311.2,141.9 311.84,138.77 312.48,136.39 313.11,136.39 313.75,138.77 314.39,141.9 315.03,145.12 315.66,148.07 316.3,150.56 316.94,152.53 317.58,154 318.21,155.06 318.85,155.78 319.49,156.26 320.13,156.56 320.76,156.75" fill="none" stroke="#f8b414" stroke-width="0.7" stroke-linejoin="round" />
<polyline points="306.74,156.74 307.38,156.55 308.01,156.24 308.65,155.75 309.29,155.01 309.93,153.94 310.56,152.43 311.2,150.42 311.84,147.88 312.48,144.87 313.11,141.58 313.75,138.39 314.39,135.95 315.03,135.95 315.66,138.39 316.3,141.58 316.94,144.87 317.58,147.88 318.21,150.42 318.85,152.43 319.49,153.94 320.13,155.01 320.76,155.75 321.4,156.24 322.04,156.55 322.68,156.74" fill="none" stroke="#f8b414" stroke-width="0.7" stroke-linejoin="round" />
<polyline points="302.28,156.7 302.91,156.49 303.55,156.14 304.19,155.62 304.83,154.83 305.46,153.71 306.1,152.18 306.74,150.19 307.38,147.75 308.01,144.96 308.65,142.07 309.29,139.51 309.93,138.1 310.56,139.33 311.2,141.59 311.84,144.21 312.48,146.82 313.11,149.2 313.75,151.22 314.39,152.85 315.03,154.11 315.66,155.04 316.3,155.71 316.94,156.17 317.58,156.48 318.21,156.68" fill="none" stroke="#f8b414" stroke-width="0.7" stroke-linejoin="round" />
<polyline points="311.84,156.81 312.48,156.63 313.11,156.31 313.75,155.75 314.39,154.85 315.03,153.48 315.66,151.51 316.3,148.86 316.94,145.6 317.58,141.97 318.21,138.44 318.85,135.8 319.49,135.47 320.13,137.81 320.76,141.23 321.4,144.89 322.04,148.26 322.68,151.03 323.31,153.14 323.95,154.62 324.59,155.61 325.23,156.22 325.86,156.58 326.5,156.79" fill="none" stroke="#1a5288" stroke-width="1.1" stroke-linejoin="round" />
<polyline points="306.1,156.79 306.74,156.63 307.38,156.37 308.01,155.96 308.65,155.33 309.29,154.43 309.93,153.18 310.56,151.55 311.2,149.55 311.84,147.26 312.48,144.85 313.11,142.63 313.75,141.02 314.39,140.82 315.03,142.24 315.66,144.38 316.3,146.78 316.94,149.11 317.58,151.18 318.21,152.89 318.85,154.21 319.49,155.17 320.13,155.85 320.76,156.3 321.4,156.59 322.04,156.77" fill="none" stroke="#111" stroke-width="1.1" stroke-linejoin="round" />
<line x1="280.6" y1="128" x2="280.6" y2="157.5" stroke="#3a3a3a" stroke-width="1.2"/>
<line x1="280.1" y1="157" x2="347.6" y2="157" stroke="#3a3a3a" stroke-width="1.2"/>
<line x1="277.1" y1="157" x2="280.6" y2="157" stroke="#3a3a3a" stroke-width="0.8"/>
<text transform="translate(275.1,159.2) scale(1,1)" font-size="6.3" text-anchor="end" fill="#222222" font-weight="normal" font-style="normal" stroke="#222222" stroke-width="0.1" >0</text>
<line x1="277.1" y1="148" x2="280.6" y2="148" stroke="#3a3a3a" stroke-width="0.8"/>
<text transform="translate(275.1,150.2) scale(1,1)" font-size="6.3" text-anchor="end" fill="#222222" font-weight="normal" font-style="normal" stroke="#222222" stroke-width="0.1" >0.1</text>
<line x1="277.1" y1="139" x2="280.6" y2="139" stroke="#3a3a3a" stroke-width="0.8"/>
<text transform="translate(275.1,141.2) scale(1,1)" font-size="6.3" text-anchor="end" fill="#222222" font-weight="normal" font-style="normal" stroke="#222222" stroke-width="0.1" >0.2</text>
<line x1="280.6" y1="157" x2="280.6" y2="160" stroke="#3a3a3a" stroke-width="0.8"/>
<text transform="translate(280.6,168) scale(1,1)" font-size="6.3" text-anchor="middle" fill="#222222" font-weight="normal" font-style="normal" stroke="#222222" stroke-width="0.12" >0</text>
<line x1="312.48" y1="157" x2="312.48" y2="160" stroke="#3a3a3a" stroke-width="0.8"/>
<text transform="translate(312.48,168) scale(1,1)" font-size="6.3" text-anchor="middle" fill="#222222" font-weight="normal" font-style="normal" stroke="#222222" stroke-width="0.12" >0.5</text>
<line x1="344.35" y1="157" x2="344.35" y2="160" stroke="#3a3a3a" stroke-width="0.8"/>
<text transform="translate(344.35,168) scale(1,1)" font-size="6.3" text-anchor="middle" fill="#222222" font-weight="normal" font-style="normal" stroke="#222222" stroke-width="0.12" >1</text>
<text transform="translate(396.4,37.5) scale(1,1.2)" font-size="8" text-anchor="middle" fill="#1a1a1a" font-weight="normal" font-style="italic" textLength="38.1" lengthAdjust="spacingAndGlyphs" stroke="#1a1a1a" stroke-width="0.1" >Standard v</text>
<text transform="translate(396.6,47.8) scale(1,1.2)" font-size="8" text-anchor="middle" fill="#c8102e" font-weight="normal" font-style="italic" textLength="28.3" lengthAdjust="spacingAndGlyphs" stroke="#c8102e" stroke-width="0.1" >Hypoxia</text>
<text transform="translate(397.3,59) scale(1,1.2)" font-size="8" text-anchor="middle" fill="#111" font-weight="normal" font-style="normal" stroke="#111" stroke-width="0.1" >τ: Day 35-Pool C</text>
<polyline points="371.25,88.43 371.89,88.22 372.52,87.82 373.16,87.07 373.79,85.74 374.43,83.59 375.07,80.37 375.7,76.09 376.34,71.32 376.97,67.97 377.61,69.87 378.25,72.89 378.88,76.09 379.52,79.05 380.15,81.57 380.79,83.59 381.43,85.13 382.06,86.26 382.7,87.07 383.33,87.62 383.97,87.98 384.61,88.22 385.24,88.37" fill="none" stroke="#f9bd4c" stroke-width="0.5" stroke-linejoin="round" />
<polyline points="372.52,88.45 373.16,88.3 373.79,88.03 374.43,87.55 375.07,86.76 375.7,85.5 376.34,83.63 376.97,81.07 377.61,77.91 378.25,74.59 378.88,72.35 379.52,73.68 380.15,75.83 380.79,78.17 381.43,80.39 382.06,82.34 382.7,83.96 383.33,85.25 383.97,86.24 384.61,86.98 385.24,87.51 385.88,87.88 386.51,88.13 387.15,88.3 387.79,88.41" fill="none" stroke="#f9bd4c" stroke-width="0.5" stroke-linejoin="round" />
<polyline points="375.07,88.44 375.7,88.27 376.34,87.98 376.97,87.45 377.61,86.58 378.25,85.2 378.88,83.15 379.52,80.35 380.15,76.88 380.79,73.24 381.43,70.79 382.06,72.24 382.7,74.61 383.33,77.17 383.97,79.6 384.61,81.74 385.24,83.52 385.88,84.93 386.51,86.02 387.15,86.82 387.79,87.4 388.42,87.81 389.06,88.09 389.69,88.27 390.33,88.4" fill="none" stroke="#f9bd4c" stroke-width="0.5" stroke-linejoin="round" />
<polyline points="376.34,88.37 376.97,88.18 377.61,87.87 378.25,87.34 378.88,86.53 379.52,85.3 380.15,83.56 380.79,81.23 381.43,78.36 382.06,75.22 382.7,72.46 383.33,72.17 383.97,73.93 384.61,76.12 385.24,78.36 385.88,80.46 386.51,82.3 387.15,83.84 387.79,85.08 388.42,86.06 389.06,86.8 389.69,87.34 390.33,87.74 390.97,88.02 391.6,88.22 392.24,88.35" fill="none" stroke="#f9bd4c" stroke-width="0.5" stroke-linejoin="round" />
<polyline points="376.97,88.42 377.61,88.29 378.25,88.07 378.88,87.73 379.52,87.22 380.15,86.47 380.79,85.41 381.43,83.99 382.06,82.2 382.7,80.09 383.33,77.87 383.97,75.97 384.61,75.76 385.24,76.9 385.88,78.35 386.51,79.88 387.15,81.37 387.79,82.74 388.42,83.94 389.06,84.96 389.69,85.81 390.33,86.49 390.97,87.03 391.6,87.45 392.24,87.77 392.87,88.01 393.51,88.18 394.15,88.31 394.78,88.4" fill="none" stroke="#f9bd4c" stroke-width="0.5" stroke-linejoin="round" />
<polyline points="378.41,88.39 379.2,88.21 380,87.92 380.79,87.48 381.59,86.83 382.38,85.93 383.18,84.79 383.97,83.42 384.77,81.93 385.56,80.45 386.36,79.19 387.15,78.34 387.95,78.11 388.74,78.54 389.54,79.42 390.33,80.61 391.12,81.96 391.92,83.32 392.72,84.58 393.51,85.66 394.31,86.55 395.1,87.22 395.9,87.71 396.69,88.05 397.49,88.27 398.28,88.41" fill="none" stroke="#c8102e" stroke-width="1.15" stroke-linejoin="round" />
<polyline points="384.77,88.45 385.56,88.34 386.36,88.15 387.15,87.87 387.95,87.45 388.74,86.88 389.54,86.12 390.33,85.17 391.12,84.06 391.92,82.84 392.72,81.61 393.51,80.49 394.31,79.62 395.1,79.15 395.9,79.16 396.69,79.48 397.49,80.02 398.28,80.74 399.07,81.57 399.87,82.47 400.67,83.38 401.46,84.26 402.25,85.07 403.05,85.8 403.85,86.42 404.64,86.95 405.44,87.37 406.23,87.71 407.02,87.97 407.82,88.16 408.62,88.3 409.41,88.4" fill="none" stroke="#111" stroke-width="1.15" stroke-linejoin="round" />
<line x1="363.3" y1="59.9" x2="363.3" y2="89.1" stroke="#3a3a3a" stroke-width="1.2"/>
<line x1="362.8" y1="88.6" x2="430.3" y2="88.6" stroke="#3a3a3a" stroke-width="1.2"/>
<line x1="359.8" y1="88.6" x2="363.3" y2="88.6" stroke="#3a3a3a" stroke-width="0.8"/>
<text transform="translate(357.8,90.8) scale(1,1)" font-size="6.3" text-anchor="end" fill="#222222" font-weight="normal" font-style="normal" stroke="#222222" stroke-width="0.1" >0</text>
<line x1="359.8" y1="76.1" x2="363.3" y2="76.1" stroke="#3a3a3a" stroke-width="0.8"/>
<text transform="translate(357.8,78.3) scale(1,1)" font-size="6.3" text-anchor="end" fill="#222222" font-weight="normal" font-style="normal" stroke="#222222" stroke-width="0.1" >0.2</text>
<line x1="359.8" y1="63.6" x2="363.3" y2="63.6" stroke="#3a3a3a" stroke-width="0.8"/>
<text transform="translate(357.8,65.8) scale(1,1)" font-size="6.3" text-anchor="end" fill="#222222" font-weight="normal" font-style="normal" stroke="#222222" stroke-width="0.1" >0.4</text>
<line x1="363.3" y1="88.6" x2="363.3" y2="91.6" stroke="#3a3a3a" stroke-width="0.8"/>
<text transform="translate(363.3,99.6) scale(1,1)" font-size="6.3" text-anchor="middle" fill="#222222" font-weight="normal" font-style="normal" stroke="#222222" stroke-width="0.12" >0</text>
<line x1="395.1" y1="88.6" x2="395.1" y2="91.6" stroke="#3a3a3a" stroke-width="0.8"/>
<text transform="translate(395.1,99.6) scale(1,1)" font-size="6.3" text-anchor="middle" fill="#222222" font-weight="normal" font-style="normal" stroke="#222222" stroke-width="0.12" >2</text>
<line x1="426.9" y1="88.6" x2="426.9" y2="91.6" stroke="#3a3a3a" stroke-width="0.8"/>
<text transform="translate(426.9,99.6) scale(1,1)" font-size="6.3" text-anchor="middle" fill="#222222" font-weight="normal" font-style="normal" stroke="#222222" stroke-width="0.12" >4</text>
<text transform="translate(397.3,127) scale(1,1.2)" font-size="8" text-anchor="middle" fill="#111" font-weight="normal" font-style="normal" stroke="#111" stroke-width="0.1" >κ: Day 35-Pool C</text>
<polyline points="386.25,156.72 386.89,156.47 387.53,156.05 388.16,155.34 388.8,154.21 389.44,152.53 390.08,150.14 390.71,146.97 391.35,143.1 391.99,138.85 392.62,134.93 393.26,132.7 393.9,134.71 394.54,138.29 395.18,142.26 395.81,146 396.45,149.17 397.09,151.66 397.73,153.51 398.36,154.8 399,155.66 399.64,156.21 400.28,156.55 400.91,156.75" fill="none" stroke="#f8b414" stroke-width="0.7" stroke-linejoin="round" />
<polyline points="386.89,156.75 387.53,156.55 388.16,156.2 388.8,155.64 389.44,154.76 390.08,153.44 390.71,151.56 391.35,149.02 391.99,145.79 392.62,141.99 393.26,137.94 393.9,134.29 394.54,132.25 395.18,134.1 395.81,137.45 396.45,141.23 397.09,144.89 397.73,148.09 398.36,150.69 399,152.7 399.64,154.16 400.28,155.19 400.91,155.88 401.55,156.33 402.19,156.61 402.83,156.78" fill="none" stroke="#f8b414" stroke-width="0.7" stroke-linejoin="round" />
<polyline points="387.53,156.75 388.16,156.56 388.8,156.26 389.44,155.78 390.08,155.06 390.71,154 391.35,152.53 391.99,150.56 392.62,148.07 393.26,145.12 393.9,141.9 394.54,138.77 395.18,136.39 395.81,136.39 396.45,138.77 397.09,141.9 397.73,145.12 398.36,148.07 399,150.56 399.64,152.53 400.28,154 400.91,155.06 401.55,155.78 402.19,156.26 402.83,156.56 403.46,156.75" fill="none" stroke="#f8b414" stroke-width="0.7" stroke-linejoin="round" />
<polyline points="389.44,156.74 390.08,156.55 390.71,156.24 391.35,155.75 391.99,155.01 392.62,153.94 393.26,152.43 393.9,150.42 394.54,147.88 395.18,144.87 395.81,141.58 396.45,138.39 397.09,135.95 397.73,135.95 398.36,138.39 399,141.58 399.64,144.87 400.28,147.88 400.91,150.42 401.55,152.43 402.19,153.94 402.83,155.01 403.46,155.75 404.1,156.24 404.74,156.55 405.38,156.74" fill="none" stroke="#f8b414" stroke-width="0.7" stroke-linejoin="round" />
<polyline points="384.98,156.7 385.61,156.49 386.25,156.14 386.89,155.62 387.53,154.83 388.16,153.71 388.8,152.18 389.44,150.19 390.08,147.75 390.71,144.96 391.35,142.07 391.99,139.51 392.62,138.1 393.26,139.33 393.9,141.59 394.54,144.21 395.18,146.82 395.81,149.2 396.45,151.22 397.09,152.85 397.73,154.11 398.36,155.04 399,155.71 399.64,156.17 400.28,156.48 400.91,156.68" fill="none" stroke="#f8b414" stroke-width="0.7" stroke-linejoin="round" />
<polyline points="392.62,156.76 393.26,156.53 393.9,156.14 394.54,155.5 395.18,154.49 395.81,153 396.45,150.95 397.09,148.33 397.73,145.28 398.36,142.13 399,139.45 399.64,138.1 400.28,139.45 400.91,142.13 401.55,145.28 402.19,148.33 402.83,150.95 403.46,153 404.1,154.49 404.74,155.5 405.38,156.14 406.01,156.53 406.65,156.76" fill="none" stroke="#c8102e" stroke-width="1.1" stroke-linejoin="round" />
<polyline points="393.26,156.76 393.9,156.48 394.54,155.93 395.18,154.94 395.81,153.28 396.45,150.71 397.09,147.12 397.73,142.6 398.36,137.72 399,133.57 399.64,132.14 400.28,135.05 400.91,139.66 401.55,144.49 402.19,148.68 402.83,151.86 403.46,154.04 404.1,155.4 404.74,156.19 405.38,156.62 406.01,156.83" fill="none" stroke="#111" stroke-width="1.1" stroke-linejoin="round" />
<line x1="363.3" y1="128" x2="363.3" y2="157.5" stroke="#3a3a3a" stroke-width="1.2"/>
<line x1="362.8" y1="157" x2="430.3" y2="157" stroke="#3a3a3a" stroke-width="1.2"/>
<line x1="359.8" y1="157" x2="363.3" y2="157" stroke="#3a3a3a" stroke-width="0.8"/>
<text transform="translate(357.8,159.2) scale(1,1)" font-size="6.3" text-anchor="end" fill="#222222" font-weight="normal" font-style="normal" stroke="#222222" stroke-width="0.1" >0</text>
<line x1="359.8" y1="139" x2="363.3" y2="139" stroke="#3a3a3a" stroke-width="0.8"/>
<text transform="translate(357.8,141.2) scale(1,1)" font-size="6.3" text-anchor="end" fill="#222222" font-weight="normal" font-style="normal" stroke="#222222" stroke-width="0.1" >0.2</text>
<line x1="363.3" y1="157" x2="363.3" y2="160" stroke="#3a3a3a" stroke-width="0.8"/>
<text transform="translate(363.3,168) scale(1,1)" font-size="6.3" text-anchor="middle" fill="#222222" font-weight="normal" font-style="normal" stroke="#222222" stroke-width="0.12" >0</text>
<line x1="395.18" y1="157" x2="395.18" y2="160" stroke="#3a3a3a" stroke-width="0.8"/>
<text transform="translate(395.18,168) scale(1,1)" font-size="6.3" text-anchor="middle" fill="#222222" font-weight="normal" font-style="normal" stroke="#222222" stroke-width="0.12" >0.5</text>
<line x1="427.05" y1="157" x2="427.05" y2="160" stroke="#3a3a3a" stroke-width="0.8"/>
<text transform="translate(427.05,168) scale(1,1)" font-size="6.3" text-anchor="middle" fill="#222222" font-weight="normal" font-style="normal" stroke="#222222" stroke-width="0.12" >1</text>
<text transform="translate(479.1,37.5) scale(1,1.2)" font-size="8" text-anchor="middle" fill="#1a1a1a" font-weight="normal" font-style="italic" textLength="38.1" lengthAdjust="spacingAndGlyphs" stroke="#1a1a1a" stroke-width="0.1" >Standard v</text>
<text transform="translate(479.3,47.8) scale(1,1.2)" font-size="8" text-anchor="middle" fill="#c8102e" font-weight="normal" font-style="italic" textLength="28.3" lengthAdjust="spacingAndGlyphs" stroke="#c8102e" stroke-width="0.1" >Hypoxia</text>
<text transform="translate(480,59) scale(1,1.2)" font-size="8" text-anchor="middle" fill="#111" font-weight="normal" font-style="normal" stroke="#111" stroke-width="0.1" >τ: Day 49-Pool C</text>
<polyline points="453.95,88.43 454.59,88.22 455.22,87.82 455.86,87.07 456.49,85.74 457.13,83.59 457.77,80.37 458.4,76.09 459.04,71.32 459.67,67.97 460.31,69.87 460.95,72.89 461.58,76.09 462.22,79.05 462.85,81.57 463.49,83.59 464.13,85.13 464.76,86.26 465.4,87.07 466.03,87.62 466.67,87.98 467.31,88.22 467.94,88.37" fill="none" stroke="#f9bd4c" stroke-width="0.5" stroke-linejoin="round" />
<polyline points="455.22,88.45 455.86,88.3 456.49,88.03 457.13,87.55 457.77,86.76 458.4,85.5 459.04,83.63 459.67,81.07 460.31,77.91 460.95,74.59 461.58,72.35 462.22,73.68 462.85,75.83 463.49,78.17 464.13,80.39 464.76,82.34 465.4,83.96 466.03,85.25 466.67,86.24 467.31,86.98 467.94,87.51 468.58,87.88 469.21,88.13 469.85,88.3 470.49,88.41" fill="none" stroke="#f9bd4c" stroke-width="0.5" stroke-linejoin="round" />
<polyline points="457.77,88.44 458.4,88.27 459.04,87.98 459.67,87.45 460.31,86.58 460.95,85.2 461.58,83.15 462.22,80.35 462.85,76.88 463.49,73.24 464.13,70.79 464.76,72.24 465.4,74.61 466.03,77.17 466.67,79.6 467.31,81.74 467.94,83.52 468.58,84.93 469.21,86.02 469.85,86.82 470.49,87.4 471.12,87.81 471.76,88.09 472.39,88.27 473.03,88.4" fill="none" stroke="#f9bd4c" stroke-width="0.5" stroke-linejoin="round" />
<polyline points="459.04,88.37 459.67,88.18 460.31,87.87 460.95,87.34 461.58,86.53 462.22,85.3 462.85,83.56 463.49,81.23 464.13,78.36 464.76,75.22 465.4,72.46 466.03,72.17 466.67,73.93 467.31,76.12 467.94,78.36 468.58,80.46 469.21,82.3 469.85,83.84 470.49,85.08 471.12,86.06 471.76,86.8 472.39,87.34 473.03,87.74 473.67,88.02 474.3,88.22 474.94,88.35" fill="none" stroke="#f9bd4c" stroke-width="0.5" stroke-linejoin="round" />
<polyline points="459.67,88.42 460.31,88.29 460.95,88.07 461.58,87.73 462.22,87.22 462.85,86.47 463.49,85.41 464.13,83.99 464.76,82.2 465.4,80.09 466.03,77.87 466.67,75.97 467.31,75.76 467.94,76.9 468.58,78.35 469.21,79.88 469.85,81.37 470.49,82.74 471.12,83.94 471.76,84.96 472.39,85.81 473.03,86.49 473.67,87.03 474.3,87.45 474.94,87.77 475.57,88.01 476.21,88.18 476.85,88.31 477.48,88.4" fill="none" stroke="#f9bd4c" stroke-width="0.5" stroke-linejoin="round" />
<polyline points="463.49,88.4 464.29,88.24 465.08,87.98 465.88,87.59 466.67,87.01 467.47,86.24 468.26,85.26 469.06,84.11 469.85,82.87 470.64,81.68 471.44,80.7 472.24,80.09 473.03,79.99 473.82,80.16 474.62,80.49 475.42,80.95 476.21,81.51 477,82.14 477.8,82.82 478.6,83.51 479.39,84.19 480.19,84.84 480.98,85.44 481.77,85.99 482.57,86.48 483.37,86.91 484.16,87.27 484.95,87.56 485.75,87.81 486.54,88 487.34,88.16 488.13,88.28 488.93,88.37" fill="none" stroke="#c8102e" stroke-width="1.15" stroke-linejoin="round" />
<polyline points="463.49,88.37 464.29,88.19 465.08,87.91 465.88,87.47 466.67,86.85 467.47,86.02 468.26,84.99 469.06,83.79 469.85,82.54 470.64,81.36 471.44,80.43 472.24,79.9 473.03,79.89 473.82,80.13 474.62,80.53 475.42,81.06 476.21,81.7 477,82.41 477.8,83.14 478.6,83.88 479.39,84.59 480.19,85.26 480.98,85.86 481.77,86.4 482.57,86.86 483.37,87.25 484.16,87.57 484.95,87.82 485.75,88.03 486.54,88.18 487.34,88.3 488.13,88.39" fill="none" stroke="#111" stroke-width="1.15" stroke-linejoin="round" />
<line x1="446" y1="59.9" x2="446" y2="89.1" stroke="#3a3a3a" stroke-width="1.2"/>
<line x1="445.5" y1="88.6" x2="513" y2="88.6" stroke="#3a3a3a" stroke-width="1.2"/>
<line x1="442.5" y1="88.6" x2="446" y2="88.6" stroke="#3a3a3a" stroke-width="0.8"/>
<text transform="translate(440.5,90.8) scale(1,1)" font-size="6.3" text-anchor="end" fill="#222222" font-weight="normal" font-style="normal" stroke="#222222" stroke-width="0.1" >0</text>
<line x1="442.5" y1="76.1" x2="446" y2="76.1" stroke="#3a3a3a" stroke-width="0.8"/>
<text transform="translate(440.5,78.3) scale(1,1)" font-size="6.3" text-anchor="end" fill="#222222" font-weight="normal" font-style="normal" stroke="#222222" stroke-width="0.1" >0.2</text>
<line x1="442.5" y1="63.6" x2="446" y2="63.6" stroke="#3a3a3a" stroke-width="0.8"/>
<text transform="translate(440.5,65.8) scale(1,1)" font-size="6.3" text-anchor="end" fill="#222222" font-weight="normal" font-style="normal" stroke="#222222" stroke-width="0.1" >0.4</text>
<line x1="446" y1="88.6" x2="446" y2="91.6" stroke="#3a3a3a" stroke-width="0.8"/>
<text transform="translate(446,99.6) scale(1,1)" font-size="6.3" text-anchor="middle" fill="#222222" font-weight="normal" font-style="normal" stroke="#222222" stroke-width="0.12" >0</text>
<line x1="477.8" y1="88.6" x2="477.8" y2="91.6" stroke="#3a3a3a" stroke-width="0.8"/>
<text transform="translate(477.8,99.6) scale(1,1)" font-size="6.3" text-anchor="middle" fill="#222222" font-weight="normal" font-style="normal" stroke="#222222" stroke-width="0.12" >2</text>
<line x1="509.6" y1="88.6" x2="509.6" y2="91.6" stroke="#3a3a3a" stroke-width="0.8"/>
<text transform="translate(509.6,99.6) scale(1,1)" font-size="6.3" text-anchor="middle" fill="#222222" font-weight="normal" font-style="normal" stroke="#222222" stroke-width="0.12" >4</text>
<text transform="translate(480,127) scale(1,1.2)" font-size="8" text-anchor="middle" fill="#111" font-weight="normal" font-style="normal" stroke="#111" stroke-width="0.1" >κ: Day 49-Pool C</text>
<polyline points="468.95,156.72 469.59,156.47 470.23,156.05 470.86,155.34 471.5,154.21 472.14,152.53 472.78,150.14 473.41,146.97 474.05,143.1 474.69,138.85 475.32,134.93 475.96,132.7 476.6,134.71 477.24,138.29 477.88,142.26 478.51,146 479.15,149.17 479.79,151.66 480.43,153.51 481.06,154.8 481.7,155.66 482.34,156.21 482.98,156.55 483.61,156.75" fill="none" stroke="#f8b414" stroke-width="0.7" stroke-linejoin="round" />
<polyline points="469.59,156.75 470.23,156.55 470.86,156.2 471.5,155.64 472.14,154.76 472.78,153.44 473.41,151.56 474.05,149.02 474.69,145.79 475.32,141.99 475.96,137.94 476.6,134.29 477.24,132.25 477.88,134.1 478.51,137.45 479.15,141.23 479.79,144.89 480.43,148.09 481.06,150.69 481.7,152.7 482.34,154.16 482.98,155.19 483.61,155.88 484.25,156.33 484.89,156.61 485.53,156.78" fill="none" stroke="#f8b414" stroke-width="0.7" stroke-linejoin="round" />
<polyline points="470.23,156.75 470.86,156.56 471.5,156.26 472.14,155.78 472.78,155.06 473.41,154 474.05,152.53 474.69,150.56 475.32,148.07 475.96,145.12 476.6,141.9 477.24,138.77 477.88,136.39 478.51,136.39 479.15,138.77 479.79,141.9 480.43,145.12 481.06,148.07 481.7,150.56 482.34,152.53 482.98,154 483.61,155.06 484.25,155.78 484.89,156.26 485.53,156.56 486.16,156.75" fill="none" stroke="#f8b414" stroke-width="0.7" stroke-linejoin="round" />
<polyline points="472.14,156.74 472.78,156.55 473.41,156.24 474.05,155.75 474.69,155.01 475.32,153.94 475.96,152.43 476.6,150.42 477.24,147.88 477.88,144.87 478.51,141.58 479.15,138.39 479.79,135.95 480.43,135.95 481.06,138.39 481.7,141.58 482.34,144.87 482.98,147.88 483.61,150.42 484.25,152.43 484.89,153.94 485.53,155.01 486.16,155.75 486.8,156.24 487.44,156.55 488.08,156.74" fill="none" stroke="#f8b414" stroke-width="0.7" stroke-linejoin="round" />
<polyline points="467.68,156.7 468.31,156.49 468.95,156.14 469.59,155.62 470.23,154.83 470.86,153.71 471.5,152.18 472.14,150.19 472.78,147.75 473.41,144.96 474.05,142.07 474.69,139.51 475.32,138.1 475.96,139.33 476.6,141.59 477.24,144.21 477.88,146.82 478.51,149.2 479.15,151.22 479.79,152.85 480.43,154.11 481.06,155.04 481.7,155.71 482.34,156.17 482.98,156.48 483.61,156.68" fill="none" stroke="#f8b414" stroke-width="0.7" stroke-linejoin="round" />
<polyline points="475.96,156.71 476.6,156.44 477.24,155.98 477.88,155.21 478.51,154.01 479.15,152.24 479.79,149.8 480.43,146.68 481.06,143.05 481.7,139.3 482.34,136.1 482.98,134.5 483.61,136.1 484.25,139.3 484.89,143.05 485.53,146.68 486.16,149.8 486.8,152.24 487.44,154.01 488.08,155.21 488.71,155.98 489.35,156.44 489.99,156.71" fill="none" stroke="#c8102e" stroke-width="1.1" stroke-linejoin="round" />
<polyline points="474.69,156.66 475.33,156.35 475.96,155.82 476.6,154.96 477.24,153.64 477.88,151.73 478.51,149.16 479.15,145.95 479.79,142.34 480.43,138.77 481.06,135.99 481.7,135.34 482.34,137.51 482.98,140.87 483.61,144.54 484.25,147.94 484.89,150.78 485.53,152.96 486.16,154.5 486.8,155.53 487.44,156.17 488.08,156.55 488.71,156.77" fill="none" stroke="#111" stroke-width="1.1" stroke-linejoin="round" />
<line x1="446" y1="128" x2="446" y2="157.5" stroke="#3a3a3a" stroke-width="1.2"/>
<line x1="445.5" y1="157" x2="513" y2="157" stroke="#3a3a3a" stroke-width="1.2"/>
<line x1="442.5" y1="157" x2="446" y2="157" stroke="#3a3a3a" stroke-width="0.8"/>
<text transform="translate(440.5,159.2) scale(1,1)" font-size="6.3" text-anchor="end" fill="#222222" font-weight="normal" font-style="normal" stroke="#222222" stroke-width="0.1" >0</text>
<line x1="442.5" y1="148" x2="446" y2="148" stroke="#3a3a3a" stroke-width="0.8"/>
<text transform="translate(440.5,150.2) scale(1,1)" font-size="6.3" text-anchor="end" fill="#222222" font-weight="normal" font-style="normal" stroke="#222222" stroke-width="0.1" >0.1</text>
<line x1="442.5" y1="139" x2="446" y2="139" stroke="#3a3a3a" stroke-width="0.8"/>
<text transform="translate(440.5,141.2) scale(1,1)" font-size="6.3" text-anchor="end" fill="#222222" font-weight="normal" font-style="normal" stroke="#222222" stroke-width="0.1" >0.2</text>
<line x1="446" y1="157" x2="446" y2="160" stroke="#3a3a3a" stroke-width="0.8"/>
<text transform="translate(446,168) scale(1,1)" font-size="6.3" text-anchor="middle" fill="#222222" font-weight="normal" font-style="normal" stroke="#222222" stroke-width="0.12" >0</text>
<line x1="477.88" y1="157" x2="477.88" y2="160" stroke="#3a3a3a" stroke-width="0.8"/>
<text transform="translate(477.88,168) scale(1,1)" font-size="6.3" text-anchor="middle" fill="#222222" font-weight="normal" font-style="normal" stroke="#222222" stroke-width="0.12" >0.5</text>
<line x1="509.75" y1="157" x2="509.75" y2="160" stroke="#3a3a3a" stroke-width="0.8"/>
<text transform="translate(509.75,168) scale(1,1)" font-size="6.3" text-anchor="middle" fill="#222222" font-weight="normal" font-style="normal" stroke="#222222" stroke-width="0.12" >1</text>
<polyline points="30.5,205 30.5,195.5 510,195.5 510,205" fill="none" stroke="#444" stroke-width="1.2"/>
<line x1="228.75" y1="184" x2="228.75" y2="195.5" stroke="#222" stroke-width="1.1"/>
<text transform="translate(66.5,214.75) scale(1,1.2)" font-size="8" text-anchor="middle" fill="#111" font-weight="normal" font-style="normal" stroke="#111" stroke-width="0.1" >τ: Day 21-Pool A</text>
<polyline points="40.45,244.33 41.09,244.12 41.72,243.72 42.36,242.97 42.99,241.64 43.63,239.49 44.27,236.27 44.9,231.99 45.54,227.22 46.17,223.88 46.81,225.77 47.45,228.79 48.08,231.99 48.72,234.95 49.35,237.47 49.99,239.49 50.63,241.03 51.26,242.16 51.9,242.97 52.53,243.52 53.17,243.88 53.81,244.12 54.44,244.27" fill="none" stroke="#f9bd4c" stroke-width="0.5" stroke-linejoin="round" />
<polyline points="41.72,244.35 42.36,244.2 42.99,243.93 43.63,243.45 44.27,242.66 44.9,241.4 45.54,239.53 46.17,236.97 46.81,233.81 47.45,230.49 48.08,228.25 48.72,229.58 49.35,231.73 49.99,234.07 50.63,236.29 51.26,238.24 51.9,239.86 52.53,241.15 53.17,242.14 53.81,242.88 54.44,243.41 55.08,243.78 55.71,244.03 56.35,244.2 56.99,244.31" fill="none" stroke="#f9bd4c" stroke-width="0.5" stroke-linejoin="round" />
<polyline points="44.27,244.34 44.9,244.17 45.54,243.88 46.17,243.35 46.81,242.48 47.45,241.1 48.08,239.05 48.72,236.25 49.35,232.78 49.99,229.14 50.63,226.69 51.26,228.14 51.9,230.51 52.53,233.07 53.17,235.5 53.81,237.64 54.44,239.42 55.08,240.83 55.71,241.92 56.35,242.72 56.99,243.3 57.62,243.71 58.26,243.99 58.89,244.17 59.53,244.3" fill="none" stroke="#f9bd4c" stroke-width="0.5" stroke-linejoin="round" />
<polyline points="45.54,244.27 46.17,244.08 46.81,243.77 47.45,243.24 48.08,242.43 48.72,241.2 49.35,239.46 49.99,237.13 50.63,234.26 51.26,231.12 51.9,228.36 52.53,228.07 53.17,229.83 53.81,232.02 54.44,234.26 55.08,236.36 55.71,238.2 56.35,239.74 56.99,240.98 57.62,241.96 58.26,242.7 58.89,243.24 59.53,243.64 60.17,243.92 60.8,244.12 61.44,244.25" fill="none" stroke="#f9bd4c" stroke-width="0.5" stroke-linejoin="round" />
<polyline points="46.17,244.32 46.81,244.19 47.45,243.97 48.08,243.63 48.72,243.12 49.35,242.37 49.99,241.31 50.63,239.89 51.26,238.1 51.9,235.99 52.53,233.77 53.17,231.87 53.81,231.66 54.44,232.8 55.08,234.25 55.71,235.78 56.35,237.27 56.99,238.64 57.62,239.84 58.26,240.86 58.89,241.71 59.53,242.39 60.17,242.93 60.8,243.35 61.44,243.67 62.07,243.91 62.71,244.08 63.35,244.21 63.98,244.3" fill="none" stroke="#f9bd4c" stroke-width="0.5" stroke-linejoin="round" />
<polyline points="43.63,244.33 44.43,244.23 45.22,244.07 46.02,243.83 46.81,243.5 47.61,243.05 48.4,242.46 49.2,241.74 49.99,240.87 50.79,239.88 51.58,238.81 52.38,237.74 53.17,236.74 53.97,235.91 54.76,235.34 55.56,235.12 56.35,235.28 57.15,235.69 57.94,236.3 58.74,237.06 59.53,237.92 60.33,238.81 61.12,239.7 61.92,240.55 62.71,241.32 63.51,241.99 64.3,242.57 65.1,243.05 65.89,243.43 66.69,243.73 67.48,243.96 68.28,244.13 69.07,244.25 69.86,244.33" fill="none" stroke="#c8102e" stroke-width="1.15" stroke-linejoin="round" />
<polyline points="47.61,244.28 48.4,244.18 49.2,244.03 49.99,243.84 50.79,243.59 51.58,243.27 52.38,242.87 53.17,242.39 53.97,241.84 54.76,241.21 55.56,240.52 56.35,239.81 57.15,239.09 57.94,238.42 58.74,237.83 59.53,237.37 60.33,237.08 61.12,237 61.92,237.08 62.71,237.25 63.51,237.51 64.3,237.83 65.1,238.21 65.89,238.64 66.69,239.09 67.48,239.57 68.28,240.05 69.07,240.52 69.86,240.98 70.66,241.42 71.45,241.84 72.25,242.22 73.04,242.56 73.84,242.87 74.63,243.15 75.43,243.38 76.22,243.59 77.02,243.77 77.81,243.91 78.61,244.03 79.4,244.13 80.2,244.22 80.99,244.28" fill="none" stroke="#111" stroke-width="1.15" stroke-linejoin="round" />
<line x1="32.5" y1="215.8" x2="32.5" y2="245" stroke="#3a3a3a" stroke-width="1.2"/>
<line x1="32" y1="244.5" x2="99.5" y2="244.5" stroke="#3a3a3a" stroke-width="1.2"/>
<line x1="29" y1="244.5" x2="32.5" y2="244.5" stroke="#3a3a3a" stroke-width="0.8"/>
<text transform="translate(27,246.7) scale(1,1)" font-size="6.3" text-anchor="end" fill="#222222" font-weight="normal" font-style="normal" stroke="#222222" stroke-width="0.1" >0</text>
<line x1="29" y1="232" x2="32.5" y2="232" stroke="#3a3a3a" stroke-width="0.8"/>
<text transform="translate(27,234.2) scale(1,1)" font-size="6.3" text-anchor="end" fill="#222222" font-weight="normal" font-style="normal" stroke="#222222" stroke-width="0.1" >0.2</text>
<line x1="29" y1="219.5" x2="32.5" y2="219.5" stroke="#3a3a3a" stroke-width="0.8"/>
<text transform="translate(27,221.7) scale(1,1)" font-size="6.3" text-anchor="end" fill="#222222" font-weight="normal" font-style="normal" stroke="#222222" stroke-width="0.1" >0.4</text>
<line x1="32.5" y1="244.5" x2="32.5" y2="247.5" stroke="#3a3a3a" stroke-width="0.8"/>
<text transform="translate(32.5,255.5) scale(1,1)" font-size="6.3" text-anchor="middle" fill="#222222" font-weight="normal" font-style="normal" stroke="#222222" stroke-width="0.12" >0</text>
<line x1="64.3" y1="244.5" x2="64.3" y2="247.5" stroke="#3a3a3a" stroke-width="0.8"/>
<text transform="translate(64.3,255.5) scale(1,1)" font-size="6.3" text-anchor="middle" fill="#222222" font-weight="normal" font-style="normal" stroke="#222222" stroke-width="0.12" >2</text>
<line x1="96.1" y1="244.5" x2="96.1" y2="247.5" stroke="#3a3a3a" stroke-width="0.8"/>
<text transform="translate(96.1,255.5) scale(1,1)" font-size="6.3" text-anchor="middle" fill="#222222" font-weight="normal" font-style="normal" stroke="#222222" stroke-width="0.12" >4</text>
<text stroke="#222222" stroke-width="0.1" transform="translate(10.2,229.9) rotate(-90) scale(1,1.35)" x="0" y="0" font-size="6" text-anchor="middle" dominant-baseline="central" fill="#222222" font-weight="normal" textLength="26" lengthAdjust="spacingAndGlyphs">Frequency</text>
<text transform="translate(66,265) scale(1,1.2)" font-size="7.2" text-anchor="middle" fill="#222222" font-weight="normal" font-style="normal" textLength="44" lengthAdjust="spacingAndGlyphs" stroke="#222222" stroke-width="0.18" >Time constant (s)</text>
<text transform="translate(66.5,283.25) scale(1,1.2)" font-size="8" text-anchor="middle" fill="#111" font-weight="normal" font-style="normal" stroke="#111" stroke-width="0.1" >κ: Day 21-Pool A</text>
<polyline points="55.45,312.72 56.09,312.47 56.73,312.05 57.36,311.34 58,310.21 58.64,308.53 59.28,306.14 59.91,302.97 60.55,299.1 61.19,294.85 61.83,290.93 62.46,288.7 63.1,290.71 63.74,294.29 64.38,298.26 65.01,302 65.65,305.17 66.29,307.66 66.93,309.51 67.56,310.8 68.2,311.66 68.84,312.21 69.48,312.55 70.11,312.75" fill="none" stroke="#f8b414" stroke-width="0.7" stroke-linejoin="round" />
<polyline points="56.09,312.75 56.73,312.55 57.36,312.2 58,311.64 58.64,310.76 59.28,309.44 59.91,307.56 60.55,305.02 61.19,301.79 61.83,297.99 62.46,293.94 63.1,290.29 63.74,288.25 64.38,290.1 65.01,293.45 65.65,297.23 66.29,300.89 66.93,304.09 67.56,306.69 68.2,308.7 68.84,310.16 69.48,311.19 70.11,311.88 70.75,312.33 71.39,312.61 72.03,312.78" fill="none" stroke="#f8b414" stroke-width="0.7" stroke-linejoin="round" />
<polyline points="56.73,312.75 57.36,312.56 58,312.26 58.64,311.78 59.28,311.06 59.91,310 60.55,308.53 61.19,306.56 61.83,304.07 62.46,301.12 63.1,297.9 63.74,294.77 64.38,292.39 65.01,292.39 65.65,294.77 66.29,297.9 66.93,301.12 67.56,304.07 68.2,306.56 68.84,308.53 69.48,310 70.11,311.06 70.75,311.78 71.39,312.26 72.03,312.56 72.66,312.75" fill="none" stroke="#f8b414" stroke-width="0.7" stroke-linejoin="round" />
<polyline points="58.64,312.74 59.28,312.55 59.91,312.24 60.55,311.75 61.19,311.01 61.83,309.94 62.46,308.43 63.1,306.42 63.74,303.88 64.38,300.87 65.01,297.58 65.65,294.39 66.29,291.95 66.93,291.95 67.56,294.39 68.2,297.58 68.84,300.87 69.48,303.88 70.11,306.42 70.75,308.43 71.39,309.94 72.03,311.01 72.66,311.75 73.3,312.24 73.94,312.55 74.58,312.74" fill="none" stroke="#f8b414" stroke-width="0.7" stroke-linejoin="round" />
<polyline points="54.18,312.7 54.81,312.49 55.45,312.14 56.09,311.62 56.73,310.83 57.36,309.71 58,308.18 58.64,306.19 59.28,303.75 59.91,300.96 60.55,298.07 61.19,295.51 61.83,294.1 62.46,295.33 63.1,297.59 63.74,300.21 64.38,302.82 65.01,305.2 65.65,307.22 66.29,308.85 66.93,310.11 67.56,311.04 68.2,311.71 68.84,312.17 69.48,312.48 70.11,312.68" fill="none" stroke="#f8b414" stroke-width="0.7" stroke-linejoin="round" />
<polyline points="59.28,312.66 59.91,312.41 60.55,312.01 61.19,311.4 61.83,310.49 62.46,309.22 63.1,307.52 63.74,305.38 64.38,302.85 65.01,300.09 65.65,297.39 66.29,295.18 66.93,294.1 67.56,295.18 68.2,297.39 68.84,300.09 69.48,302.85 70.11,305.38 70.75,307.52 71.39,309.22 72.03,310.49 72.66,311.4 73.3,312.01 73.94,312.41 74.58,312.66" fill="none" stroke="#c8102e" stroke-width="1.1" stroke-linejoin="round" />
<polyline points="58,312.73 58.64,312.53 59.28,312.19 59.91,311.66 60.55,310.87 61.19,309.73 61.83,308.16 62.46,306.13 63.1,303.65 63.74,300.82 64.38,297.89 65.01,295.23 65.65,293.38 66.29,293.38 66.93,295.23 67.56,297.89 68.2,300.82 68.84,303.65 69.48,306.13 70.11,308.16 70.75,309.73 71.39,310.87 72.03,311.66 72.66,312.19 73.3,312.53 73.94,312.73" fill="none" stroke="#111" stroke-width="1.1" stroke-linejoin="round" />
<line x1="32.5" y1="284" x2="32.5" y2="313.5" stroke="#3a3a3a" stroke-width="1.2"/>
<line x1="32" y1="313" x2="99.5" y2="313" stroke="#3a3a3a" stroke-width="1.2"/>
<line x1="29" y1="313" x2="32.5" y2="313" stroke="#3a3a3a" stroke-width="0.8"/>
<text transform="translate(27,315.2) scale(1,1)" font-size="6.3" text-anchor="end" fill="#222222" font-weight="normal" font-style="normal" stroke="#222222" stroke-width="0.1" >0</text>
<line x1="29" y1="304" x2="32.5" y2="304" stroke="#3a3a3a" stroke-width="0.8"/>
<text transform="translate(27,306.2) scale(1,1)" font-size="6.3" text-anchor="end" fill="#222222" font-weight="normal" font-style="normal" stroke="#222222" stroke-width="0.1" >0.1</text>
<line x1="29" y1="295" x2="32.5" y2="295" stroke="#3a3a3a" stroke-width="0.8"/>
<text transform="translate(27,297.2) scale(1,1)" font-size="6.3" text-anchor="end" fill="#222222" font-weight="normal" font-style="normal" stroke="#222222" stroke-width="0.1" >0.2</text>
<line x1="32.5" y1="313" x2="32.5" y2="316" stroke="#3a3a3a" stroke-width="0.8"/>
<text transform="translate(32.5,324) scale(1,1)" font-size="6.3" text-anchor="middle" fill="#222222" font-weight="normal" font-style="normal" stroke="#222222" stroke-width="0.12" >0</text>
<line x1="64.38" y1="313" x2="64.38" y2="316" stroke="#3a3a3a" stroke-width="0.8"/>
<text transform="translate(64.38,324) scale(1,1)" font-size="6.3" text-anchor="middle" fill="#222222" font-weight="normal" font-style="normal" stroke="#222222" stroke-width="0.12" >0.5</text>
<line x1="96.25" y1="313" x2="96.25" y2="316" stroke="#3a3a3a" stroke-width="0.8"/>
<text transform="translate(96.25,324) scale(1,1)" font-size="6.3" text-anchor="middle" fill="#222222" font-weight="normal" font-style="normal" stroke="#222222" stroke-width="0.12" >1</text>
<text stroke="#222222" stroke-width="0.1" transform="translate(10.2,298.4) rotate(-90) scale(1,1.35)" x="0" y="0" font-size="6" text-anchor="middle" dominant-baseline="central" fill="#222222" font-weight="normal" textLength="26" lengthAdjust="spacingAndGlyphs">Frequency</text>
<text transform="translate(66,333.6) scale(1,1.2)" font-size="7.2" text-anchor="middle" fill="#222222" font-weight="normal" font-style="normal" textLength="22" lengthAdjust="spacingAndGlyphs" stroke="#222222" stroke-width="0.18" >Capacity</text>
<text transform="translate(149.2,214.75) scale(1,1.2)" font-size="8" text-anchor="middle" fill="#111" font-weight="normal" font-style="normal" stroke="#111" stroke-width="0.1" >τ: Day 21-Pool B</text>
<polyline points="123.15,244.33 123.79,244.12 124.42,243.72 125.06,242.97 125.69,241.64 126.33,239.49 126.97,236.27 127.6,231.99 128.24,227.22 128.87,223.88 129.51,225.77 130.15,228.79 130.78,231.99 131.42,234.95 132.05,237.47 132.69,239.49 133.33,241.03 133.96,242.16 134.6,242.97 135.23,243.52 135.87,243.88 136.51,244.12 137.14,244.27" fill="none" stroke="#f9bd4c" stroke-width="0.5" stroke-linejoin="round" />
<polyline points="124.42,244.35 125.06,244.2 125.69,243.93 126.33,243.45 126.97,242.66 127.6,241.4 128.24,239.53 128.87,236.97 129.51,233.81 130.15,230.49 130.78,228.25 131.42,229.58 132.05,231.73 132.69,234.07 133.33,236.29 133.96,238.24 134.6,239.86 135.23,241.15 135.87,242.14 136.51,242.88 137.14,243.41 137.78,243.78 138.41,244.03 139.05,244.2 139.69,244.31" fill="none" stroke="#f9bd4c" stroke-width="0.5" stroke-linejoin="round" />
<polyline points="126.97,244.34 127.6,244.17 128.24,243.88 128.87,243.35 129.51,242.48 130.15,241.1 130.78,239.05 131.42,236.25 132.05,232.78 132.69,229.14 133.33,226.69 133.96,228.14 134.6,230.51 135.23,233.07 135.87,235.5 136.51,237.64 137.14,239.42 137.78,240.83 138.41,241.92 139.05,242.72 139.69,243.3 140.32,243.71 140.96,243.99 141.59,244.17 142.23,244.3" fill="none" stroke="#f9bd4c" stroke-width="0.5" stroke-linejoin="round" />
<polyline points="128.24,244.27 128.87,244.08 129.51,243.77 130.15,243.24 130.78,242.43 131.42,241.2 132.05,239.46 132.69,237.13 133.33,234.26 133.96,231.12 134.6,228.36 135.23,228.07 135.87,229.83 136.51,232.02 137.14,234.26 137.78,236.36 138.41,238.2 139.05,239.74 139.69,240.98 140.32,241.96 140.96,242.7 141.59,243.24 142.23,243.64 142.87,243.92 143.5,244.12 144.14,244.25" fill="none" stroke="#f9bd4c" stroke-width="0.5" stroke-linejoin="round" />
<polyline points="128.87,244.32 129.51,244.19 130.15,243.97 130.78,243.63 131.42,243.12 132.05,242.37 132.69,241.31 133.33,239.89 133.96,238.1 134.6,235.99 135.23,233.77 135.87,231.87 136.51,231.66 137.14,232.8 137.78,234.25 138.41,235.78 139.05,237.27 139.69,238.64 140.32,239.84 140.96,240.86 141.59,241.71 142.23,242.39 142.87,242.93 143.5,243.35 144.14,243.67 144.77,243.91 145.41,244.08 146.05,244.21 146.68,244.3" fill="none" stroke="#f9bd4c" stroke-width="0.5" stroke-linejoin="round" />
<polyline points="123.95,244.31 124.74,244.18 125.53,243.96 126.33,243.63 127.12,243.16 127.92,242.52 128.72,241.7 129.51,240.69 130.31,239.54 131.1,238.32 131.9,237.14 132.69,236.12 133.49,235.4 134.28,235.12 135.08,235.24 135.87,235.55 136.67,236.02 137.46,236.61 138.26,237.3 139.05,238.04 139.85,238.81 140.64,239.58 141.44,240.31 142.23,241 143.03,241.62 143.82,242.17 144.62,242.65 145.41,243.05 146.21,243.38 147,243.65 147.8,243.87 148.59,244.04 149.39,244.17 150.18,244.26" fill="none" stroke="#c8102e" stroke-width="1.15" stroke-linejoin="round" />
<polyline points="129.51,244.26 130.31,244.2 131.1,244.12 131.9,244.02 132.69,243.9 133.49,243.76 134.28,243.6 135.08,243.41 135.87,243.2 136.67,242.97 137.46,242.7 138.26,242.42 139.05,242.11 139.85,241.78 140.64,241.45 141.44,241.1 142.23,240.76 143.03,240.43 143.82,240.11 144.62,239.83 145.41,239.58 146.21,239.37 147,239.23 147.8,239.14 148.59,239.13 149.39,239.18 150.18,239.27 150.97,239.41 151.77,239.58 152.56,239.78 153.36,240 154.16,240.25 154.95,240.52 155.75,240.79 156.54,241.07 157.33,241.35 158.13,241.63 158.92,241.9 159.72,242.17 160.51,242.42 161.31,242.65 162.1,242.87 162.9,243.08 163.69,243.26 164.49,243.43 165.28,243.58 166.08,243.72 166.87,243.84 167.67,243.95 168.46,244.04 169.26,244.12 170.05,244.18 170.85,244.24 171.64,244.29" fill="none" stroke="#111" stroke-width="1.15" stroke-linejoin="round" />
<line x1="115.2" y1="215.8" x2="115.2" y2="245" stroke="#3a3a3a" stroke-width="1.2"/>
<line x1="114.7" y1="244.5" x2="182.2" y2="244.5" stroke="#3a3a3a" stroke-width="1.2"/>
<line x1="111.7" y1="244.5" x2="115.2" y2="244.5" stroke="#3a3a3a" stroke-width="0.8"/>
<text transform="translate(109.7,246.7) scale(1,1)" font-size="6.3" text-anchor="end" fill="#222222" font-weight="normal" font-style="normal" stroke="#222222" stroke-width="0.1" >0</text>
<line x1="111.7" y1="232" x2="115.2" y2="232" stroke="#3a3a3a" stroke-width="0.8"/>
<text transform="translate(109.7,234.2) scale(1,1)" font-size="6.3" text-anchor="end" fill="#222222" font-weight="normal" font-style="normal" stroke="#222222" stroke-width="0.1" >0.2</text>
<line x1="111.7" y1="219.5" x2="115.2" y2="219.5" stroke="#3a3a3a" stroke-width="0.8"/>
<text transform="translate(109.7,221.7) scale(1,1)" font-size="6.3" text-anchor="end" fill="#222222" font-weight="normal" font-style="normal" stroke="#222222" stroke-width="0.1" >0.4</text>
<line x1="115.2" y1="244.5" x2="115.2" y2="247.5" stroke="#3a3a3a" stroke-width="0.8"/>
<text transform="translate(115.2,255.5) scale(1,1)" font-size="6.3" text-anchor="middle" fill="#222222" font-weight="normal" font-style="normal" stroke="#222222" stroke-width="0.12" >0</text>
<line x1="147" y1="244.5" x2="147" y2="247.5" stroke="#3a3a3a" stroke-width="0.8"/>
<text transform="translate(147,255.5) scale(1,1)" font-size="6.3" text-anchor="middle" fill="#222222" font-weight="normal" font-style="normal" stroke="#222222" stroke-width="0.12" >2</text>
<line x1="178.8" y1="244.5" x2="178.8" y2="247.5" stroke="#3a3a3a" stroke-width="0.8"/>
<text transform="translate(178.8,255.5) scale(1,1)" font-size="6.3" text-anchor="middle" fill="#222222" font-weight="normal" font-style="normal" stroke="#222222" stroke-width="0.12" >4</text>
<text transform="translate(149.2,283.25) scale(1,1.2)" font-size="8" text-anchor="middle" fill="#111" font-weight="normal" font-style="normal" stroke="#111" stroke-width="0.1" >κ: Day 21-Pool B</text>
<polyline points="138.15,312.72 138.79,312.47 139.43,312.05 140.06,311.34 140.7,310.21 141.34,308.53 141.98,306.14 142.61,302.97 143.25,299.1 143.89,294.85 144.53,290.93 145.16,288.7 145.8,290.71 146.44,294.29 147.08,298.26 147.71,302 148.35,305.17 148.99,307.66 149.63,309.51 150.26,310.8 150.9,311.66 151.54,312.21 152.18,312.55 152.81,312.75" fill="none" stroke="#f8b414" stroke-width="0.7" stroke-linejoin="round" />
<polyline points="138.79,312.75 139.43,312.55 140.06,312.2 140.7,311.64 141.34,310.76 141.98,309.44 142.61,307.56 143.25,305.02 143.89,301.79 144.53,297.99 145.16,293.94 145.8,290.29 146.44,288.25 147.08,290.1 147.71,293.45 148.35,297.23 148.99,300.89 149.63,304.09 150.26,306.69 150.9,308.7 151.54,310.16 152.18,311.19 152.81,311.88 153.45,312.33 154.09,312.61 154.73,312.78" fill="none" stroke="#f8b414" stroke-width="0.7" stroke-linejoin="round" />
<polyline points="139.43,312.75 140.06,312.56 140.7,312.26 141.34,311.78 141.98,311.06 142.61,310 143.25,308.53 143.89,306.56 144.53,304.07 145.16,301.12 145.8,297.9 146.44,294.77 147.08,292.39 147.71,292.39 148.35,294.77 148.99,297.9 149.63,301.12 150.26,304.07 150.9,306.56 151.54,308.53 152.18,310 152.81,311.06 153.45,311.78 154.09,312.26 154.73,312.56 155.36,312.75" fill="none" stroke="#f8b414" stroke-width="0.7" stroke-linejoin="round" />
<polyline points="141.34,312.74 141.98,312.55 142.61,312.24 143.25,311.75 143.89,311.01 144.53,309.94 145.16,308.43 145.8,306.42 146.44,303.88 147.08,300.87 147.71,297.58 148.35,294.39 148.99,291.95 149.63,291.95 150.26,294.39 150.9,297.58 151.54,300.87 152.18,303.88 152.81,306.42 153.45,308.43 154.09,309.94 154.73,311.01 155.36,311.75 156,312.24 156.64,312.55 157.28,312.74" fill="none" stroke="#f8b414" stroke-width="0.7" stroke-linejoin="round" />
<polyline points="136.88,312.7 137.51,312.49 138.15,312.14 138.79,311.62 139.43,310.83 140.06,309.71 140.7,308.18 141.34,306.19 141.98,303.75 142.61,300.96 143.25,298.07 143.89,295.51 144.53,294.1 145.16,295.33 145.8,297.59 146.44,300.21 147.08,302.82 147.71,305.2 148.35,307.22 148.99,308.85 149.63,310.11 150.26,311.04 150.9,311.71 151.54,312.17 152.18,312.48 152.81,312.68" fill="none" stroke="#f8b414" stroke-width="0.7" stroke-linejoin="round" />
<polyline points="143.25,312.78 143.89,312.61 144.53,312.33 145.16,311.87 145.8,311.17 146.44,310.13 147.08,308.68 147.71,306.74 148.35,304.29 148.99,301.4 149.63,298.24 150.26,295.16 150.9,292.63 151.54,291.4 152.18,292.63 152.81,295.16 153.45,298.24 154.09,301.4 154.73,304.29 155.36,306.74 156,308.68 156.64,310.13 157.28,311.17 157.91,311.87 158.55,312.33 159.19,312.61 159.83,312.78" fill="none" stroke="#c8102e" stroke-width="1.1" stroke-linejoin="round" />
<polyline points="141.98,312.78 142.61,312.61 143.25,312.32 143.89,311.86 144.53,311.14 145.16,310.1 145.8,308.62 146.44,306.66 147.08,304.18 147.71,301.25 148.35,298.06 148.99,294.94 149.63,292.38 150.26,291.13 150.9,292.38 151.54,294.94 152.18,298.06 152.81,301.25 153.45,304.18 154.09,306.66 154.73,308.62 155.36,310.1 156,311.14 156.64,311.86 157.28,312.32 157.91,312.61 158.55,312.78" fill="none" stroke="#111" stroke-width="1.1" stroke-linejoin="round" />
<line x1="115.2" y1="284" x2="115.2" y2="313.5" stroke="#3a3a3a" stroke-width="1.2"/>
<line x1="114.7" y1="313" x2="182.2" y2="313" stroke="#3a3a3a" stroke-width="1.2"/>
<line x1="111.7" y1="313" x2="115.2" y2="313" stroke="#3a3a3a" stroke-width="0.8"/>
<text transform="translate(109.7,315.2) scale(1,1)" font-size="6.3" text-anchor="end" fill="#222222" font-weight="normal" font-style="normal" stroke="#222222" stroke-width="0.1" >0</text>
<line x1="111.7" y1="304" x2="115.2" y2="304" stroke="#3a3a3a" stroke-width="0.8"/>
<text transform="translate(109.7,306.2) scale(1,1)" font-size="6.3" text-anchor="end" fill="#222222" font-weight="normal" font-style="normal" stroke="#222222" stroke-width="0.1" >0.1</text>
<line x1="111.7" y1="295" x2="115.2" y2="295" stroke="#3a3a3a" stroke-width="0.8"/>
<text transform="translate(109.7,297.2) scale(1,1)" font-size="6.3" text-anchor="end" fill="#222222" font-weight="normal" font-style="normal" stroke="#222222" stroke-width="0.1" >0.2</text>
<line x1="115.2" y1="313" x2="115.2" y2="316" stroke="#3a3a3a" stroke-width="0.8"/>
<text transform="translate(115.2,324) scale(1,1)" font-size="6.3" text-anchor="middle" fill="#222222" font-weight="normal" font-style="normal" stroke="#222222" stroke-width="0.12" >0</text>
<line x1="147.07" y1="313" x2="147.07" y2="316" stroke="#3a3a3a" stroke-width="0.8"/>
<text transform="translate(147.07,324) scale(1,1)" font-size="6.3" text-anchor="middle" fill="#222222" font-weight="normal" font-style="normal" stroke="#222222" stroke-width="0.12" >0.5</text>
<line x1="178.95" y1="313" x2="178.95" y2="316" stroke="#3a3a3a" stroke-width="0.8"/>
<text transform="translate(178.95,324) scale(1,1)" font-size="6.3" text-anchor="middle" fill="#222222" font-weight="normal" font-style="normal" stroke="#222222" stroke-width="0.12" >1</text>
<text transform="translate(231.9,214.75) scale(1,1.2)" font-size="8" text-anchor="middle" fill="#111" font-weight="normal" font-style="normal" stroke="#111" stroke-width="0.1" >τ: Day 21-Pool C</text>
<polyline points="205.85,244.33 206.49,244.12 207.12,243.72 207.76,242.97 208.39,241.64 209.03,239.49 209.67,236.27 210.3,231.99 210.94,227.22 211.57,223.88 212.21,225.77 212.85,228.79 213.48,231.99 214.12,234.95 214.75,237.47 215.39,239.49 216.03,241.03 216.66,242.16 217.3,242.97 217.93,243.52 218.57,243.88 219.21,244.12 219.84,244.27" fill="none" stroke="#f9bd4c" stroke-width="0.5" stroke-linejoin="round" />
<polyline points="207.12,244.35 207.76,244.2 208.39,243.93 209.03,243.45 209.67,242.66 210.3,241.4 210.94,239.53 211.57,236.97 212.21,233.81 212.85,230.49 213.48,228.25 214.12,229.58 214.75,231.73 215.39,234.07 216.03,236.29 216.66,238.24 217.3,239.86 217.93,241.15 218.57,242.14 219.21,242.88 219.84,243.41 220.48,243.78 221.11,244.03 221.75,244.2 222.39,244.31" fill="none" stroke="#f9bd4c" stroke-width="0.5" stroke-linejoin="round" />
<polyline points="209.67,244.34 210.3,244.17 210.94,243.88 211.57,243.35 212.21,242.48 212.85,241.1 213.48,239.05 214.12,236.25 214.75,232.78 215.39,229.14 216.03,226.69 216.66,228.14 217.3,230.51 217.93,233.07 218.57,235.5 219.21,237.64 219.84,239.42 220.48,240.83 221.11,241.92 221.75,242.72 222.39,243.3 223.02,243.71 223.66,243.99 224.29,244.17 224.93,244.3" fill="none" stroke="#f9bd4c" stroke-width="0.5" stroke-linejoin="round" />
<polyline points="210.94,244.27 211.57,244.08 212.21,243.77 212.85,243.24 213.48,242.43 214.12,241.2 214.75,239.46 215.39,237.13 216.03,234.26 216.66,231.12 217.3,228.36 217.93,228.07 218.57,229.83 219.21,232.02 219.84,234.26 220.48,236.36 221.11,238.2 221.75,239.74 222.39,240.98 223.02,241.96 223.66,242.7 224.29,243.24 224.93,243.64 225.57,243.92 226.2,244.12 226.84,244.25" fill="none" stroke="#f9bd4c" stroke-width="0.5" stroke-linejoin="round" />
<polyline points="211.57,244.32 212.21,244.19 212.85,243.97 213.48,243.63 214.12,243.12 214.75,242.37 215.39,241.31 216.03,239.89 216.66,238.1 217.3,235.99 217.93,233.77 218.57,231.87 219.21,231.66 219.84,232.8 220.48,234.25 221.11,235.78 221.75,237.27 222.39,238.64 223.02,239.84 223.66,240.86 224.29,241.71 224.93,242.39 225.57,242.93 226.2,243.35 226.84,243.67 227.47,243.91 228.11,244.08 228.75,244.21 229.38,244.3" fill="none" stroke="#f9bd4c" stroke-width="0.5" stroke-linejoin="round" />
<polyline points="209.83,244.34 210.62,244.24 211.42,244.09 212.21,243.87 213.01,243.55 213.8,243.13 214.59,242.57 215.39,241.88 216.19,241.06 216.98,240.12 217.78,239.12 218.57,238.1 219.37,237.16 220.16,236.37 220.96,235.83 221.75,235.62 222.55,235.75 223.34,236.07 224.14,236.56 224.93,237.18 225.73,237.89 226.52,238.65 227.32,239.43 228.11,240.18 228.91,240.9 229.7,241.55 230.5,242.13 231.29,242.63 232.09,243.05 232.88,243.4 233.68,243.68 234.47,243.9 235.26,244.07 236.06,244.19 236.85,244.29" fill="none" stroke="#c8102e" stroke-width="1.15" stroke-linejoin="round" />
<polyline points="212.21,244.33 213.01,244.24 213.8,244.13 214.59,243.96 215.39,243.75 216.19,243.47 216.98,243.12 217.78,242.69 218.57,242.18 219.37,241.59 220.16,240.94 220.96,240.24 221.75,239.52 222.55,238.82 223.34,238.17 224.14,237.63 224.93,237.23 225.73,237.02 226.52,237.03 227.32,237.19 228.11,237.47 228.91,237.85 229.7,238.31 230.5,238.83 231.29,239.38 232.09,239.95 232.88,240.52 233.68,241.06 234.47,241.57 235.26,242.04 236.06,242.47 236.85,242.84 237.65,243.17 238.44,243.44 239.24,243.67 240.03,243.86 240.83,244.01 241.62,244.14 242.42,244.23 243.21,244.3" fill="none" stroke="#111" stroke-width="1.15" stroke-linejoin="round" />
<line x1="197.9" y1="215.8" x2="197.9" y2="245" stroke="#3a3a3a" stroke-width="1.2"/>
<line x1="197.4" y1="244.5" x2="264.9" y2="244.5" stroke="#3a3a3a" stroke-width="1.2"/>
<line x1="194.4" y1="244.5" x2="197.9" y2="244.5" stroke="#3a3a3a" stroke-width="0.8"/>
<text transform="translate(192.4,246.7) scale(1,1)" font-size="6.3" text-anchor="end" fill="#222222" font-weight="normal" font-style="normal" stroke="#222222" stroke-width="0.1" >0</text>
<line x1="194.4" y1="232" x2="197.9" y2="232" stroke="#3a3a3a" stroke-width="0.8"/>
<text transform="translate(192.4,234.2) scale(1,1)" font-size="6.3" text-anchor="end" fill="#222222" font-weight="normal" font-style="normal" stroke="#222222" stroke-width="0.1" >0.2</text>
<line x1="194.4" y1="219.5" x2="197.9" y2="219.5" stroke="#3a3a3a" stroke-width="0.8"/>
<text transform="translate(192.4,221.7) scale(1,1)" font-size="6.3" text-anchor="end" fill="#222222" font-weight="normal" font-style="normal" stroke="#222222" stroke-width="0.1" >0.4</text>
<line x1="197.9" y1="244.5" x2="197.9" y2="247.5" stroke="#3a3a3a" stroke-width="0.8"/>
<text transform="translate(197.9,255.5) scale(1,1)" font-size="6.3" text-anchor="middle" fill="#222222" font-weight="normal" font-style="normal" stroke="#222222" stroke-width="0.12" >0</text>
<line x1="229.7" y1="244.5" x2="229.7" y2="247.5" stroke="#3a3a3a" stroke-width="0.8"/>
<text transform="translate(229.7,255.5) scale(1,1)" font-size="6.3" text-anchor="middle" fill="#222222" font-weight="normal" font-style="normal" stroke="#222222" stroke-width="0.12" >2</text>
<line x1="261.5" y1="244.5" x2="261.5" y2="247.5" stroke="#3a3a3a" stroke-width="0.8"/>
<text transform="translate(261.5,255.5) scale(1,1)" font-size="6.3" text-anchor="middle" fill="#222222" font-weight="normal" font-style="normal" stroke="#222222" stroke-width="0.12" >4</text>
<text transform="translate(231.9,283.25) scale(1,1.2)" font-size="8" text-anchor="middle" fill="#111" font-weight="normal" font-style="normal" stroke="#111" stroke-width="0.1" >κ: Day 21-Pool C</text>
<polyline points="220.85,312.72 221.49,312.47 222.12,312.05 222.76,311.34 223.4,310.21 224.04,308.53 224.68,306.14 225.31,302.97 225.95,299.1 226.59,294.85 227.23,290.93 227.86,288.7 228.5,290.71 229.14,294.29 229.78,298.26 230.41,302 231.05,305.17 231.69,307.66 232.33,309.51 232.96,310.8 233.6,311.66 234.24,312.21 234.88,312.55 235.51,312.75" fill="none" stroke="#f8b414" stroke-width="0.7" stroke-linejoin="round" />
<polyline points="221.49,312.75 222.12,312.55 222.76,312.2 223.4,311.64 224.04,310.76 224.68,309.44 225.31,307.56 225.95,305.02 226.59,301.79 227.23,297.99 227.86,293.94 228.5,290.29 229.14,288.25 229.78,290.1 230.41,293.45 231.05,297.23 231.69,300.89 232.33,304.09 232.96,306.69 233.6,308.7 234.24,310.16 234.88,311.19 235.51,311.88 236.15,312.33 236.79,312.61 237.43,312.78" fill="none" stroke="#f8b414" stroke-width="0.7" stroke-linejoin="round" />
<polyline points="222.12,312.75 222.76,312.56 223.4,312.26 224.04,311.78 224.68,311.06 225.31,310 225.95,308.53 226.59,306.56 227.23,304.07 227.86,301.12 228.5,297.9 229.14,294.77 229.78,292.39 230.41,292.39 231.05,294.77 231.69,297.9 232.33,301.12 232.96,304.07 233.6,306.56 234.24,308.53 234.88,310 235.51,311.06 236.15,311.78 236.79,312.26 237.43,312.56 238.06,312.75" fill="none" stroke="#f8b414" stroke-width="0.7" stroke-linejoin="round" />
<polyline points="224.04,312.74 224.68,312.55 225.31,312.24 225.95,311.75 226.59,311.01 227.23,309.94 227.86,308.43 228.5,306.42 229.14,303.88 229.78,300.87 230.41,297.58 231.05,294.39 231.69,291.95 232.33,291.95 232.96,294.39 233.6,297.58 234.24,300.87 234.88,303.88 235.51,306.42 236.15,308.43 236.79,309.94 237.43,311.01 238.06,311.75 238.7,312.24 239.34,312.55 239.98,312.74" fill="none" stroke="#f8b414" stroke-width="0.7" stroke-linejoin="round" />
<polyline points="219.58,312.7 220.21,312.49 220.85,312.14 221.49,311.62 222.12,310.83 222.76,309.71 223.4,308.18 224.04,306.19 224.68,303.75 225.31,300.96 225.95,298.07 226.59,295.51 227.23,294.1 227.86,295.33 228.5,297.59 229.14,300.21 229.78,302.82 230.41,305.2 231.05,307.22 231.69,308.85 232.33,310.11 232.96,311.04 233.6,311.71 234.24,312.17 234.88,312.48 235.51,312.68" fill="none" stroke="#f8b414" stroke-width="0.7" stroke-linejoin="round" />
<polyline points="226.59,312.66 227.23,312.41 227.86,312.01 228.5,311.4 229.14,310.49 229.78,309.22 230.41,307.52 231.05,305.38 231.69,302.85 232.33,300.09 232.96,297.39 233.6,295.18 234.24,294.1 234.88,295.18 235.51,297.39 236.15,300.09 236.79,302.85 237.43,305.38 238.06,307.52 238.7,309.22 239.34,310.49 239.98,311.4 240.61,312.01 241.25,312.41 241.89,312.66" fill="none" stroke="#c8102e" stroke-width="1.1" stroke-linejoin="round" />
<polyline points="224.68,312.76 225.31,312.58 225.95,312.27 226.59,311.79 227.23,311.05 227.86,309.99 228.5,308.51 229.14,306.58 229.78,304.18 230.41,301.41 231.05,298.47 231.69,295.72 232.33,293.65 232.96,293.17 233.6,294.78 234.24,297.32 234.88,300.24 235.51,303.1 236.15,305.67 236.79,307.79 237.43,309.45 238.06,310.67 238.7,311.53 239.34,312.1 239.98,312.47 240.61,312.7" fill="none" stroke="#111" stroke-width="1.1" stroke-linejoin="round" />
<line x1="197.9" y1="284" x2="197.9" y2="313.5" stroke="#3a3a3a" stroke-width="1.2"/>
<line x1="197.4" y1="313" x2="264.9" y2="313" stroke="#3a3a3a" stroke-width="1.2"/>
<line x1="194.4" y1="313" x2="197.9" y2="313" stroke="#3a3a3a" stroke-width="0.8"/>
<text transform="translate(192.4,315.2) scale(1,1)" font-size="6.3" text-anchor="end" fill="#222222" font-weight="normal" font-style="normal" stroke="#222222" stroke-width="0.1" >0</text>
<line x1="194.4" y1="304" x2="197.9" y2="304" stroke="#3a3a3a" stroke-width="0.8"/>
<text transform="translate(192.4,306.2) scale(1,1)" font-size="6.3" text-anchor="end" fill="#222222" font-weight="normal" font-style="normal" stroke="#222222" stroke-width="0.1" >0.1</text>
<line x1="194.4" y1="295" x2="197.9" y2="295" stroke="#3a3a3a" stroke-width="0.8"/>
<text transform="translate(192.4,297.2) scale(1,1)" font-size="6.3" text-anchor="end" fill="#222222" font-weight="normal" font-style="normal" stroke="#222222" stroke-width="0.1" >0.2</text>
<line x1="197.9" y1="313" x2="197.9" y2="316" stroke="#3a3a3a" stroke-width="0.8"/>
<text transform="translate(197.9,324) scale(1,1)" font-size="6.3" text-anchor="middle" fill="#222222" font-weight="normal" font-style="normal" stroke="#222222" stroke-width="0.12" >0</text>
<line x1="229.78" y1="313" x2="229.78" y2="316" stroke="#3a3a3a" stroke-width="0.8"/>
<text transform="translate(229.78,324) scale(1,1)" font-size="6.3" text-anchor="middle" fill="#222222" font-weight="normal" font-style="normal" stroke="#222222" stroke-width="0.12" >0.5</text>
<line x1="261.65" y1="313" x2="261.65" y2="316" stroke="#3a3a3a" stroke-width="0.8"/>
<text transform="translate(261.65,324) scale(1,1)" font-size="6.3" text-anchor="middle" fill="#222222" font-weight="normal" font-style="normal" stroke="#222222" stroke-width="0.12" >1</text>
<text transform="translate(314.6,214.75) scale(1,1.2)" font-size="8" text-anchor="middle" fill="#111" font-weight="normal" font-style="normal" stroke="#111" stroke-width="0.1" >τ: Day 21-Pool D</text>
<polyline points="288.55,244.33 289.19,244.12 289.82,243.72 290.46,242.97 291.09,241.64 291.73,239.49 292.37,236.27 293,231.99 293.64,227.22 294.27,223.88 294.91,225.77 295.55,228.79 296.18,231.99 296.82,234.95 297.45,237.47 298.09,239.49 298.73,241.03 299.36,242.16 300,242.97 300.63,243.52 301.27,243.88 301.91,244.12 302.54,244.27" fill="none" stroke="#f9bd4c" stroke-width="0.5" stroke-linejoin="round" />
<polyline points="289.82,244.35 290.46,244.2 291.09,243.93 291.73,243.45 292.37,242.66 293,241.4 293.64,239.53 294.27,236.97 294.91,233.81 295.55,230.49 296.18,228.25 296.82,229.58 297.45,231.73 298.09,234.07 298.73,236.29 299.36,238.24 300,239.86 300.63,241.15 301.27,242.14 301.91,242.88 302.54,243.41 303.18,243.78 303.81,244.03 304.45,244.2 305.09,244.31" fill="none" stroke="#f9bd4c" stroke-width="0.5" stroke-linejoin="round" />
<polyline points="292.37,244.34 293,244.17 293.64,243.88 294.27,243.35 294.91,242.48 295.55,241.1 296.18,239.05 296.82,236.25 297.45,232.78 298.09,229.14 298.73,226.69 299.36,228.14 300,230.51 300.63,233.07 301.27,235.5 301.91,237.64 302.54,239.42 303.18,240.83 303.81,241.92 304.45,242.72 305.09,243.3 305.72,243.71 306.36,243.99 306.99,244.17 307.63,244.3" fill="none" stroke="#f9bd4c" stroke-width="0.5" stroke-linejoin="round" />
<polyline points="293.64,244.27 294.27,244.08 294.91,243.77 295.55,243.24 296.18,242.43 296.82,241.2 297.45,239.46 298.09,237.13 298.73,234.26 299.36,231.12 300,228.36 300.63,228.07 301.27,229.83 301.91,232.02 302.54,234.26 303.18,236.36 303.81,238.2 304.45,239.74 305.09,240.98 305.72,241.96 306.36,242.7 306.99,243.24 307.63,243.64 308.27,243.92 308.9,244.12 309.54,244.25" fill="none" stroke="#f9bd4c" stroke-width="0.5" stroke-linejoin="round" />
<polyline points="294.27,244.32 294.91,244.19 295.55,243.97 296.18,243.63 296.82,243.12 297.45,242.37 298.09,241.31 298.73,239.89 299.36,238.1 300,235.99 300.63,233.77 301.27,231.87 301.91,231.66 302.54,232.8 303.18,234.25 303.81,235.78 304.45,237.27 305.09,238.64 305.72,239.84 306.36,240.86 306.99,241.71 307.63,242.39 308.27,242.93 308.9,243.35 309.54,243.67 310.17,243.91 310.81,244.08 311.45,244.21 312.08,244.3" fill="none" stroke="#f9bd4c" stroke-width="0.5" stroke-linejoin="round" />
<polyline points="290.94,244.32 291.73,244.17 292.53,243.91 293.32,243.5 294.12,242.88 294.91,242.02 295.71,240.88 296.5,239.48 297.3,237.89 298.09,236.25 298.89,234.76 299.68,233.63 300.48,233.08 301.27,233.39 302.07,234.5 302.86,236.11 303.66,237.93 304.45,239.68 305.25,241.18 306.04,242.36 306.84,243.2 307.63,243.76 308.43,244.1 309.22,244.3" fill="none" stroke="#c8102e" stroke-width="1.15" stroke-linejoin="round" />
<polyline points="294.91,244.3 295.71,244.16 296.5,243.93 297.3,243.6 298.09,243.13 298.89,242.49 299.68,241.67 300.48,240.69 301.27,239.58 302.07,238.42 302.86,237.32 303.66,236.4 304.45,235.8 305.25,235.63 306.04,235.76 306.84,236.04 307.63,236.44 308.43,236.95 309.22,237.54 310.02,238.18 310.81,238.85 311.61,239.52 312.4,240.17 313.2,240.8 313.99,241.38 314.79,241.9 315.58,242.37 316.38,242.78 317.17,243.13 317.97,243.42 318.76,243.66 319.56,243.86 320.35,244.02 321.14,244.14 321.94,244.23 322.74,244.31" fill="none" stroke="#111" stroke-width="1.15" stroke-linejoin="round" />
<line x1="280.6" y1="215.8" x2="280.6" y2="245" stroke="#3a3a3a" stroke-width="1.2"/>
<line x1="280.1" y1="244.5" x2="347.6" y2="244.5" stroke="#3a3a3a" stroke-width="1.2"/>
<line x1="277.1" y1="244.5" x2="280.6" y2="244.5" stroke="#3a3a3a" stroke-width="0.8"/>
<text transform="translate(275.1,246.7) scale(1,1)" font-size="6.3" text-anchor="end" fill="#222222" font-weight="normal" font-style="normal" stroke="#222222" stroke-width="0.1" >0</text>
<line x1="277.1" y1="232" x2="280.6" y2="232" stroke="#3a3a3a" stroke-width="0.8"/>
<text transform="translate(275.1,234.2) scale(1,1)" font-size="6.3" text-anchor="end" fill="#222222" font-weight="normal" font-style="normal" stroke="#222222" stroke-width="0.1" >0.2</text>
<line x1="277.1" y1="219.5" x2="280.6" y2="219.5" stroke="#3a3a3a" stroke-width="0.8"/>
<text transform="translate(275.1,221.7) scale(1,1)" font-size="6.3" text-anchor="end" fill="#222222" font-weight="normal" font-style="normal" stroke="#222222" stroke-width="0.1" >0.4</text>
<line x1="280.6" y1="244.5" x2="280.6" y2="247.5" stroke="#3a3a3a" stroke-width="0.8"/>
<text transform="translate(280.6,255.5) scale(1,1)" font-size="6.3" text-anchor="middle" fill="#222222" font-weight="normal" font-style="normal" stroke="#222222" stroke-width="0.12" >0</text>
<line x1="312.4" y1="244.5" x2="312.4" y2="247.5" stroke="#3a3a3a" stroke-width="0.8"/>
<text transform="translate(312.4,255.5) scale(1,1)" font-size="6.3" text-anchor="middle" fill="#222222" font-weight="normal" font-style="normal" stroke="#222222" stroke-width="0.12" >2</text>
<line x1="344.2" y1="244.5" x2="344.2" y2="247.5" stroke="#3a3a3a" stroke-width="0.8"/>
<text transform="translate(344.2,255.5) scale(1,1)" font-size="6.3" text-anchor="middle" fill="#222222" font-weight="normal" font-style="normal" stroke="#222222" stroke-width="0.12" >4</text>
<text transform="translate(314.6,283.25) scale(1,1.2)" font-size="8" text-anchor="middle" fill="#111" font-weight="normal" font-style="normal" stroke="#111" stroke-width="0.1" >κ: Day 21-Pool D</text>
<polyline points="303.55,312.72 304.19,312.47 304.83,312.05 305.46,311.34 306.1,310.21 306.74,308.53 307.38,306.14 308.01,302.97 308.65,299.1 309.29,294.85 309.93,290.93 310.56,288.7 311.2,290.71 311.84,294.29 312.48,298.26 313.11,302 313.75,305.17 314.39,307.66 315.03,309.51 315.66,310.8 316.3,311.66 316.94,312.21 317.58,312.55 318.21,312.75" fill="none" stroke="#f8b414" stroke-width="0.7" stroke-linejoin="round" />
<polyline points="304.19,312.75 304.83,312.55 305.46,312.2 306.1,311.64 306.74,310.76 307.38,309.44 308.01,307.56 308.65,305.02 309.29,301.79 309.93,297.99 310.56,293.94 311.2,290.29 311.84,288.25 312.48,290.1 313.11,293.45 313.75,297.23 314.39,300.89 315.03,304.09 315.66,306.69 316.3,308.7 316.94,310.16 317.58,311.19 318.21,311.88 318.85,312.33 319.49,312.61 320.13,312.78" fill="none" stroke="#f8b414" stroke-width="0.7" stroke-linejoin="round" />
<polyline points="304.83,312.75 305.46,312.56 306.1,312.26 306.74,311.78 307.38,311.06 308.01,310 308.65,308.53 309.29,306.56 309.93,304.07 310.56,301.12 311.2,297.9 311.84,294.77 312.48,292.39 313.11,292.39 313.75,294.77 314.39,297.9 315.03,301.12 315.66,304.07 316.3,306.56 316.94,308.53 317.58,310 318.21,311.06 318.85,311.78 319.49,312.26 320.13,312.56 320.76,312.75" fill="none" stroke="#f8b414" stroke-width="0.7" stroke-linejoin="round" />
<polyline points="306.74,312.74 307.38,312.55 308.01,312.24 308.65,311.75 309.29,311.01 309.93,309.94 310.56,308.43 311.2,306.42 311.84,303.88 312.48,300.87 313.11,297.58 313.75,294.39 314.39,291.95 315.03,291.95 315.66,294.39 316.3,297.58 316.94,300.87 317.58,303.88 318.21,306.42 318.85,308.43 319.49,309.94 320.13,311.01 320.76,311.75 321.4,312.24 322.04,312.55 322.68,312.74" fill="none" stroke="#f8b414" stroke-width="0.7" stroke-linejoin="round" />
<polyline points="302.28,312.7 302.91,312.49 303.55,312.14 304.19,311.62 304.83,310.83 305.46,309.71 306.1,308.18 306.74,306.19 307.38,303.75 308.01,300.96 308.65,298.07 309.29,295.51 309.93,294.1 310.56,295.33 311.2,297.59 311.84,300.21 312.48,302.82 313.11,305.2 313.75,307.22 314.39,308.85 315.03,310.11 315.66,311.04 316.3,311.71 316.94,312.17 317.58,312.48 318.21,312.68" fill="none" stroke="#f8b414" stroke-width="0.7" stroke-linejoin="round" />
<polyline points="306.74,312.68 307.38,312.44 308.01,312.06 308.65,311.47 309.29,310.61 309.93,309.4 310.56,307.78 311.2,305.74 311.84,303.33 312.48,300.7 313.11,298.13 313.75,296.03 314.39,295 315.03,296.03 315.66,298.13 316.3,300.7 316.94,303.33 317.58,305.74 318.21,307.78 318.85,309.4 319.49,310.61 320.13,311.47 320.76,312.06 321.4,312.44 322.04,312.68" fill="none" stroke="#c8102e" stroke-width="1.1" stroke-linejoin="round" />
<polyline points="306.1,312.8 306.74,312.64 307.38,312.37 308.01,311.94 308.65,311.28 309.29,310.31 309.93,308.95 310.56,307.13 311.2,304.83 311.84,302.12 312.48,299.17 313.11,296.27 313.75,293.91 314.39,292.75 315.03,293.91 315.66,296.27 316.3,299.17 316.94,302.12 317.58,304.83 318.21,307.13 318.85,308.95 319.49,310.31 320.13,311.28 320.76,311.94 321.4,312.37 322.04,312.64 322.68,312.8" fill="none" stroke="#111" stroke-width="1.1" stroke-linejoin="round" />
<line x1="280.6" y1="284" x2="280.6" y2="313.5" stroke="#3a3a3a" stroke-width="1.2"/>
<line x1="280.1" y1="313" x2="347.6" y2="313" stroke="#3a3a3a" stroke-width="1.2"/>
<line x1="277.1" y1="313" x2="280.6" y2="313" stroke="#3a3a3a" stroke-width="0.8"/>
<text transform="translate(275.1,315.2) scale(1,1)" font-size="6.3" text-anchor="end" fill="#222222" font-weight="normal" font-style="normal" stroke="#222222" stroke-width="0.1" >0</text>
<line x1="277.1" y1="304" x2="280.6" y2="304" stroke="#3a3a3a" stroke-width="0.8"/>
<text transform="translate(275.1,306.2) scale(1,1)" font-size="6.3" text-anchor="end" fill="#222222" font-weight="normal" font-style="normal" stroke="#222222" stroke-width="0.1" >0.1</text>
<line x1="277.1" y1="295" x2="280.6" y2="295" stroke="#3a3a3a" stroke-width="0.8"/>
<text transform="translate(275.1,297.2) scale(1,1)" font-size="6.3" text-anchor="end" fill="#222222" font-weight="normal" font-style="normal" stroke="#222222" stroke-width="0.1" >0.2</text>
<line x1="280.6" y1="313" x2="280.6" y2="316" stroke="#3a3a3a" stroke-width="0.8"/>
<text transform="translate(280.6,324) scale(1,1)" font-size="6.3" text-anchor="middle" fill="#222222" font-weight="normal" font-style="normal" stroke="#222222" stroke-width="0.12" >0</text>
<line x1="312.48" y1="313" x2="312.48" y2="316" stroke="#3a3a3a" stroke-width="0.8"/>
<text transform="translate(312.48,324) scale(1,1)" font-size="6.3" text-anchor="middle" fill="#222222" font-weight="normal" font-style="normal" stroke="#222222" stroke-width="0.12" >0.5</text>
<line x1="344.35" y1="313" x2="344.35" y2="316" stroke="#3a3a3a" stroke-width="0.8"/>
<text transform="translate(344.35,324) scale(1,1)" font-size="6.3" text-anchor="middle" fill="#222222" font-weight="normal" font-style="normal" stroke="#222222" stroke-width="0.12" >1</text>
<text transform="translate(397.3,214.75) scale(1,1.2)" font-size="8" text-anchor="middle" fill="#111" font-weight="normal" font-style="normal" stroke="#111" stroke-width="0.1" >τ: Day 21-Pool E</text>
<polyline points="371.25,244.33 371.89,244.12 372.52,243.72 373.16,242.97 373.79,241.64 374.43,239.49 375.07,236.27 375.7,231.99 376.34,227.22 376.97,223.88 377.61,225.77 378.25,228.79 378.88,231.99 379.52,234.95 380.15,237.47 380.79,239.49 381.43,241.03 382.06,242.16 382.7,242.97 383.33,243.52 383.97,243.88 384.61,244.12 385.24,244.27" fill="none" stroke="#f9bd4c" stroke-width="0.5" stroke-linejoin="round" />
<polyline points="372.52,244.35 373.16,244.2 373.79,243.93 374.43,243.45 375.07,242.66 375.7,241.4 376.34,239.53 376.97,236.97 377.61,233.81 378.25,230.49 378.88,228.25 379.52,229.58 380.15,231.73 380.79,234.07 381.43,236.29 382.06,238.24 382.7,239.86 383.33,241.15 383.97,242.14 384.61,242.88 385.24,243.41 385.88,243.78 386.51,244.03 387.15,244.2 387.79,244.31" fill="none" stroke="#f9bd4c" stroke-width="0.5" stroke-linejoin="round" />
<polyline points="375.07,244.34 375.7,244.17 376.34,243.88 376.97,243.35 377.61,242.48 378.25,241.1 378.88,239.05 379.52,236.25 380.15,232.78 380.79,229.14 381.43,226.69 382.06,228.14 382.7,230.51 383.33,233.07 383.97,235.5 384.61,237.64 385.24,239.42 385.88,240.83 386.51,241.92 387.15,242.72 387.79,243.3 388.42,243.71 389.06,243.99 389.69,244.17 390.33,244.3" fill="none" stroke="#f9bd4c" stroke-width="0.5" stroke-linejoin="round" />
<polyline points="376.34,244.27 376.97,244.08 377.61,243.77 378.25,243.24 378.88,242.43 379.52,241.2 380.15,239.46 380.79,237.13 381.43,234.26 382.06,231.12 382.7,228.36 383.33,228.07 383.97,229.83 384.61,232.02 385.24,234.26 385.88,236.36 386.51,238.2 387.15,239.74 387.79,240.98 388.42,241.96 389.06,242.7 389.69,243.24 390.33,243.64 390.97,243.92 391.6,244.12 392.24,244.25" fill="none" stroke="#f9bd4c" stroke-width="0.5" stroke-linejoin="round" />
<polyline points="376.97,244.32 377.61,244.19 378.25,243.97 378.88,243.63 379.52,243.12 380.15,242.37 380.79,241.31 381.43,239.89 382.06,238.1 382.7,235.99 383.33,233.77 383.97,231.87 384.61,231.66 385.24,232.8 385.88,234.25 386.51,235.78 387.15,237.27 387.79,238.64 388.42,239.84 389.06,240.86 389.69,241.71 390.33,242.39 390.97,242.93 391.6,243.35 392.24,243.67 392.87,243.91 393.51,244.08 394.15,244.21 394.78,244.3" fill="none" stroke="#f9bd4c" stroke-width="0.5" stroke-linejoin="round" />
<polyline points="371.25,244.33 372.05,244.2 372.84,244 373.63,243.71 374.43,243.29 375.23,242.73 376.02,242.01 376.81,241.14 377.61,240.17 378.41,239.15 379.2,238.18 380,237.37 380.79,236.84 381.59,236.69 382.38,236.77 383.18,236.95 383.97,237.22 384.77,237.55 385.56,237.95 386.36,238.39 387.15,238.87 387.95,239.36 388.74,239.86 389.54,240.36 390.33,240.84 391.12,241.3 391.92,241.73 392.72,242.12 393.51,242.48 394.31,242.8 395.1,243.09 395.9,243.34 396.69,243.55 397.49,243.73 398.28,243.89 399.07,244.02 399.87,244.12 400.67,244.2 401.46,244.27" fill="none" stroke="#c8102e" stroke-width="1.15" stroke-linejoin="round" />
<polyline points="384.77,244.35 385.56,244.24 386.36,244.07 387.15,243.81 387.95,243.43 388.74,242.92 389.54,242.26 390.33,241.45 391.12,240.54 391.92,239.56 392.72,238.61 393.51,237.79 394.31,237.22 395.1,237 395.9,237.07 396.69,237.24 397.49,237.51 398.28,237.86 399.07,238.28 399.87,238.74 400.67,239.23 401.46,239.75 402.25,240.26 403.05,240.76 403.85,241.24 404.64,241.7 405.44,242.12 406.23,242.5 407.02,242.83 407.82,243.13 408.62,243.39 409.41,243.61 410.2,243.79 411,243.94 411.79,244.07 412.59,244.17 413.38,244.25 414.18,244.31" fill="none" stroke="#111" stroke-width="1.15" stroke-linejoin="round" />
<line x1="363.3" y1="215.8" x2="363.3" y2="245" stroke="#3a3a3a" stroke-width="1.2"/>
<line x1="362.8" y1="244.5" x2="430.3" y2="244.5" stroke="#3a3a3a" stroke-width="1.2"/>
<line x1="359.8" y1="244.5" x2="363.3" y2="244.5" stroke="#3a3a3a" stroke-width="0.8"/>
<text transform="translate(357.8,246.7) scale(1,1)" font-size="6.3" text-anchor="end" fill="#222222" font-weight="normal" font-style="normal" stroke="#222222" stroke-width="0.1" >0</text>
<line x1="359.8" y1="232" x2="363.3" y2="232" stroke="#3a3a3a" stroke-width="0.8"/>
<text transform="translate(357.8,234.2) scale(1,1)" font-size="6.3" text-anchor="end" fill="#222222" font-weight="normal" font-style="normal" stroke="#222222" stroke-width="0.1" >0.2</text>
<line x1="359.8" y1="219.5" x2="363.3" y2="219.5" stroke="#3a3a3a" stroke-width="0.8"/>
<text transform="translate(357.8,221.7) scale(1,1)" font-size="6.3" text-anchor="end" fill="#222222" font-weight="normal" font-style="normal" stroke="#222222" stroke-width="0.1" >0.4</text>
<line x1="363.3" y1="244.5" x2="363.3" y2="247.5" stroke="#3a3a3a" stroke-width="0.8"/>
<text transform="translate(363.3,255.5) scale(1,1)" font-size="6.3" text-anchor="middle" fill="#222222" font-weight="normal" font-style="normal" stroke="#222222" stroke-width="0.12" >0</text>
<line x1="395.1" y1="244.5" x2="395.1" y2="247.5" stroke="#3a3a3a" stroke-width="0.8"/>
<text transform="translate(395.1,255.5) scale(1,1)" font-size="6.3" text-anchor="middle" fill="#222222" font-weight="normal" font-style="normal" stroke="#222222" stroke-width="0.12" >2</text>
<line x1="426.9" y1="244.5" x2="426.9" y2="247.5" stroke="#3a3a3a" stroke-width="0.8"/>
<text transform="translate(426.9,255.5) scale(1,1)" font-size="6.3" text-anchor="middle" fill="#222222" font-weight="normal" font-style="normal" stroke="#222222" stroke-width="0.12" >4</text>
<text transform="translate(397.3,283.25) scale(1,1.2)" font-size="8" text-anchor="middle" fill="#111" font-weight="normal" font-style="normal" stroke="#111" stroke-width="0.1" >κ: Day 21-Pool E</text>
<polyline points="386.25,312.72 386.89,312.47 387.53,312.05 388.16,311.34 388.8,310.21 389.44,308.53 390.08,306.14 390.71,302.97 391.35,299.1 391.99,294.85 392.62,290.93 393.26,288.7 393.9,290.71 394.54,294.29 395.18,298.26 395.81,302 396.45,305.17 397.09,307.66 397.73,309.51 398.36,310.8 399,311.66 399.64,312.21 400.28,312.55 400.91,312.75" fill="none" stroke="#f8b414" stroke-width="0.7" stroke-linejoin="round" />
<polyline points="386.89,312.75 387.53,312.55 388.16,312.2 388.8,311.64 389.44,310.76 390.08,309.44 390.71,307.56 391.35,305.02 391.99,301.79 392.62,297.99 393.26,293.94 393.9,290.29 394.54,288.25 395.18,290.1 395.81,293.45 396.45,297.23 397.09,300.89 397.73,304.09 398.36,306.69 399,308.7 399.64,310.16 400.28,311.19 400.91,311.88 401.55,312.33 402.19,312.61 402.83,312.78" fill="none" stroke="#f8b414" stroke-width="0.7" stroke-linejoin="round" />
<polyline points="387.53,312.75 388.16,312.56 388.8,312.26 389.44,311.78 390.08,311.06 390.71,310 391.35,308.53 391.99,306.56 392.62,304.07 393.26,301.12 393.9,297.9 394.54,294.77 395.18,292.39 395.81,292.39 396.45,294.77 397.09,297.9 397.73,301.12 398.36,304.07 399,306.56 399.64,308.53 400.28,310 400.91,311.06 401.55,311.78 402.19,312.26 402.83,312.56 403.46,312.75" fill="none" stroke="#f8b414" stroke-width="0.7" stroke-linejoin="round" />
<polyline points="389.44,312.74 390.08,312.55 390.71,312.24 391.35,311.75 391.99,311.01 392.62,309.94 393.26,308.43 393.9,306.42 394.54,303.88 395.18,300.87 395.81,297.58 396.45,294.39 397.09,291.95 397.73,291.95 398.36,294.39 399,297.58 399.64,300.87 400.28,303.88 400.91,306.42 401.55,308.43 402.19,309.94 402.83,311.01 403.46,311.75 404.1,312.24 404.74,312.55 405.38,312.74" fill="none" stroke="#f8b414" stroke-width="0.7" stroke-linejoin="round" />
<polyline points="384.98,312.7 385.61,312.49 386.25,312.14 386.89,311.62 387.53,310.83 388.16,309.71 388.8,308.18 389.44,306.19 390.08,303.75 390.71,300.96 391.35,298.07 391.99,295.51 392.62,294.1 393.26,295.33 393.9,297.59 394.54,300.21 395.18,302.82 395.81,305.2 396.45,307.22 397.09,308.85 397.73,310.11 398.36,311.04 399,311.71 399.64,312.17 400.28,312.48 400.91,312.68" fill="none" stroke="#f8b414" stroke-width="0.7" stroke-linejoin="round" />
<polyline points="392.62,312.68 393.26,312.38 393.9,311.87 394.54,311.01 395.18,309.68 395.81,307.71 396.45,304.99 397.09,301.53 397.73,297.49 398.36,293.32 399,289.76 399.64,287.98 400.28,289.76 400.91,293.32 401.55,297.49 402.19,301.53 402.83,304.99 403.46,307.71 404.1,309.68 404.74,311.01 405.38,311.87 406.01,312.38 406.65,312.68" fill="none" stroke="#c8102e" stroke-width="1.1" stroke-linejoin="round" />
<polyline points="393.26,312.66 393.9,312.41 394.54,312.01 395.18,311.4 395.81,310.49 396.45,309.22 397.09,307.52 397.73,305.38 398.36,302.85 399,300.09 399.64,297.39 400.28,295.18 400.91,294.1 401.55,295.18 402.19,297.39 402.83,300.09 403.46,302.85 404.1,305.38 404.74,307.52 405.38,309.22 406.01,310.49 406.65,311.4 407.29,312.01 407.93,312.41 408.56,312.66" fill="none" stroke="#111" stroke-width="1.1" stroke-linejoin="round" />
<line x1="363.3" y1="284" x2="363.3" y2="313.5" stroke="#3a3a3a" stroke-width="1.2"/>
<line x1="362.8" y1="313" x2="430.3" y2="313" stroke="#3a3a3a" stroke-width="1.2"/>
<line x1="359.8" y1="313" x2="363.3" y2="313" stroke="#3a3a3a" stroke-width="0.8"/>
<text transform="translate(357.8,315.2) scale(1,1)" font-size="6.3" text-anchor="end" fill="#222222" font-weight="normal" font-style="normal" stroke="#222222" stroke-width="0.1" >0</text>
<line x1="359.8" y1="304" x2="363.3" y2="304" stroke="#3a3a3a" stroke-width="0.8"/>
<text transform="translate(357.8,306.2) scale(1,1)" font-size="6.3" text-anchor="end" fill="#222222" font-weight="normal" font-style="normal" stroke="#222222" stroke-width="0.1" >0.1</text>
<line x1="359.8" y1="295" x2="363.3" y2="295" stroke="#3a3a3a" stroke-width="0.8"/>
<text transform="translate(357.8,297.2) scale(1,1)" font-size="6.3" text-anchor="end" fill="#222222" font-weight="normal" font-style="normal" stroke="#222222" stroke-width="0.1" >0.2</text>
<line x1="363.3" y1="313" x2="363.3" y2="316" stroke="#3a3a3a" stroke-width="0.8"/>
<text transform="translate(363.3,324) scale(1,1)" font-size="6.3" text-anchor="middle" fill="#222222" font-weight="normal" font-style="normal" stroke="#222222" stroke-width="0.12" >0</text>
<line x1="395.18" y1="313" x2="395.18" y2="316" stroke="#3a3a3a" stroke-width="0.8"/>
<text transform="translate(395.18,324) scale(1,1)" font-size="6.3" text-anchor="middle" fill="#222222" font-weight="normal" font-style="normal" stroke="#222222" stroke-width="0.12" >0.5</text>
<line x1="427.05" y1="313" x2="427.05" y2="316" stroke="#3a3a3a" stroke-width="0.8"/>
<text transform="translate(427.05,324) scale(1,1)" font-size="6.3" text-anchor="middle" fill="#222222" font-weight="normal" font-style="normal" stroke="#222222" stroke-width="0.12" >1</text>
<text transform="translate(480,214.75) scale(1,1.2)" font-size="8" text-anchor="middle" fill="#111" font-weight="normal" font-style="normal" stroke="#111" stroke-width="0.1" >τ: Day 21-Pool F</text>
<polyline points="453.95,244.33 454.59,244.12 455.22,243.72 455.86,242.97 456.49,241.64 457.13,239.49 457.77,236.27 458.4,231.99 459.04,227.22 459.67,223.88 460.31,225.77 460.95,228.79 461.58,231.99 462.22,234.95 462.85,237.47 463.49,239.49 464.13,241.03 464.76,242.16 465.4,242.97 466.03,243.52 466.67,243.88 467.31,244.12 467.94,244.27" fill="none" stroke="#f9bd4c" stroke-width="0.5" stroke-linejoin="round" />
<polyline points="455.22,244.35 455.86,244.2 456.49,243.93 457.13,243.45 457.77,242.66 458.4,241.4 459.04,239.53 459.67,236.97 460.31,233.81 460.95,230.49 461.58,228.25 462.22,229.58 462.85,231.73 463.49,234.07 464.13,236.29 464.76,238.24 465.4,239.86 466.03,241.15 466.67,242.14 467.31,242.88 467.94,243.41 468.58,243.78 469.21,244.03 469.85,244.2 470.49,244.31" fill="none" stroke="#f9bd4c" stroke-width="0.5" stroke-linejoin="round" />
<polyline points="457.77,244.34 458.4,244.17 459.04,243.88 459.67,243.35 460.31,242.48 460.95,241.1 461.58,239.05 462.22,236.25 462.85,232.78 463.49,229.14 464.13,226.69 464.76,228.14 465.4,230.51 466.03,233.07 466.67,235.5 467.31,237.64 467.94,239.42 468.58,240.83 469.21,241.92 469.85,242.72 470.49,243.3 471.12,243.71 471.76,243.99 472.39,244.17 473.03,244.3" fill="none" stroke="#f9bd4c" stroke-width="0.5" stroke-linejoin="round" />
<polyline points="459.04,244.27 459.67,244.08 460.31,243.77 460.95,243.24 461.58,242.43 462.22,241.2 462.85,239.46 463.49,237.13 464.13,234.26 464.76,231.12 465.4,228.36 466.03,228.07 466.67,229.83 467.31,232.02 467.94,234.26 468.58,236.36 469.21,238.2 469.85,239.74 470.49,240.98 471.12,241.96 471.76,242.7 472.39,243.24 473.03,243.64 473.67,243.92 474.3,244.12 474.94,244.25" fill="none" stroke="#f9bd4c" stroke-width="0.5" stroke-linejoin="round" />
<polyline points="459.67,244.32 460.31,244.19 460.95,243.97 461.58,243.63 462.22,243.12 462.85,242.37 463.49,241.31 464.13,239.89 464.76,238.1 465.4,235.99 466.03,233.77 466.67,231.87 467.31,231.66 467.94,232.8 468.58,234.25 469.21,235.78 469.85,237.27 470.49,238.64 471.12,239.84 471.76,240.86 472.39,241.71 473.03,242.39 473.67,242.93 474.3,243.35 474.94,243.67 475.57,243.91 476.21,244.08 476.85,244.21 477.48,244.3" fill="none" stroke="#f9bd4c" stroke-width="0.5" stroke-linejoin="round" />
<polyline points="456.33,244.29 457.13,244.19 457.93,244.05 458.72,243.86 459.51,243.61 460.31,243.29 461.11,242.89 461.9,242.41 462.69,241.85 463.49,241.21 464.29,240.5 465.08,239.76 465.88,239.01 466.67,238.3 467.47,237.67 468.26,237.16 469.06,236.82 469.85,236.69 470.64,236.82 471.44,237.16 472.24,237.67 473.03,238.3 473.82,239.01 474.62,239.76 475.42,240.5 476.21,241.21 477,241.85 477.8,242.41 478.6,242.89 479.39,243.29 480.19,243.61 480.98,243.86 481.77,244.05 482.57,244.19 483.37,244.29" fill="none" stroke="#c8102e" stroke-width="1.15" stroke-linejoin="round" />
<polyline points="461.9,244.26 462.69,244.09 463.49,243.83 464.29,243.44 465.08,242.91 465.88,242.21 466.67,241.34 467.47,240.32 468.26,239.19 469.06,238.06 469.85,237.03 470.64,236.23 471.44,235.8 472.24,235.81 473.03,236.15 473.82,236.71 474.62,237.45 475.42,238.3 476.21,239.19 477,240.08 477.8,240.92 478.6,241.67 479.39,242.33 480.19,242.87 480.98,243.31 481.77,243.65 482.57,243.91 483.37,244.1 484.16,244.24 484.95,244.33" fill="none" stroke="#111" stroke-width="1.15" stroke-linejoin="round" />
<line x1="446" y1="215.8" x2="446" y2="245" stroke="#3a3a3a" stroke-width="1.2"/>
<line x1="445.5" y1="244.5" x2="513" y2="244.5" stroke="#3a3a3a" stroke-width="1.2"/>
<line x1="442.5" y1="244.5" x2="446" y2="244.5" stroke="#3a3a3a" stroke-width="0.8"/>
<text transform="translate(440.5,246.7) scale(1,1)" font-size="6.3" text-anchor="end" fill="#222222" font-weight="normal" font-style="normal" stroke="#222222" stroke-width="0.1" >0</text>
<line x1="442.5" y1="232" x2="446" y2="232" stroke="#3a3a3a" stroke-width="0.8"/>
<text transform="translate(440.5,234.2) scale(1,1)" font-size="6.3" text-anchor="end" fill="#222222" font-weight="normal" font-style="normal" stroke="#222222" stroke-width="0.1" >0.2</text>
<line x1="442.5" y1="219.5" x2="446" y2="219.5" stroke="#3a3a3a" stroke-width="0.8"/>
<text transform="translate(440.5,221.7) scale(1,1)" font-size="6.3" text-anchor="end" fill="#222222" font-weight="normal" font-style="normal" stroke="#222222" stroke-width="0.1" >0.4</text>
<line x1="446" y1="244.5" x2="446" y2="247.5" stroke="#3a3a3a" stroke-width="0.8"/>
<text transform="translate(446,255.5) scale(1,1)" font-size="6.3" text-anchor="middle" fill="#222222" font-weight="normal" font-style="normal" stroke="#222222" stroke-width="0.12" >0</text>
<line x1="477.8" y1="244.5" x2="477.8" y2="247.5" stroke="#3a3a3a" stroke-width="0.8"/>
<text transform="translate(477.8,255.5) scale(1,1)" font-size="6.3" text-anchor="middle" fill="#222222" font-weight="normal" font-style="normal" stroke="#222222" stroke-width="0.12" >2</text>
<line x1="509.6" y1="244.5" x2="509.6" y2="247.5" stroke="#3a3a3a" stroke-width="0.8"/>
<text transform="translate(509.6,255.5) scale(1,1)" font-size="6.3" text-anchor="middle" fill="#222222" font-weight="normal" font-style="normal" stroke="#222222" stroke-width="0.12" >4</text>
<text transform="translate(480,283.25) scale(1,1.2)" font-size="8" text-anchor="middle" fill="#111" font-weight="normal" font-style="normal" stroke="#111" stroke-width="0.1" >κ: Day 21-Pool F</text>
<polyline points="468.95,312.72 469.59,312.47 470.23,312.05 470.86,311.34 471.5,310.21 472.14,308.53 472.78,306.14 473.41,302.97 474.05,299.1 474.69,294.85 475.32,290.93 475.96,288.7 476.6,290.71 477.24,294.29 477.88,298.26 478.51,302 479.15,305.17 479.79,307.66 480.43,309.51 481.06,310.8 481.7,311.66 482.34,312.21 482.98,312.55 483.61,312.75" fill="none" stroke="#f8b414" stroke-width="0.7" stroke-linejoin="round" />
<polyline points="469.59,312.75 470.23,312.55 470.86,312.2 471.5,311.64 472.14,310.76 472.78,309.44 473.41,307.56 474.05,305.02 474.69,301.79 475.32,297.99 475.96,293.94 476.6,290.29 477.24,288.25 477.88,290.1 478.51,293.45 479.15,297.23 479.79,300.89 480.43,304.09 481.06,306.69 481.7,308.7 482.34,310.16 482.98,311.19 483.61,311.88 484.25,312.33 484.89,312.61 485.53,312.78" fill="none" stroke="#f8b414" stroke-width="0.7" stroke-linejoin="round" />
<polyline points="470.23,312.75 470.86,312.56 471.5,312.26 472.14,311.78 472.78,311.06 473.41,310 474.05,308.53 474.69,306.56 475.32,304.07 475.96,301.12 476.6,297.9 477.24,294.77 477.88,292.39 478.51,292.39 479.15,294.77 479.79,297.9 480.43,301.12 481.06,304.07 481.7,306.56 482.34,308.53 482.98,310 483.61,311.06 484.25,311.78 484.89,312.26 485.53,312.56 486.16,312.75" fill="none" stroke="#f8b414" stroke-width="0.7" stroke-linejoin="round" />
<polyline points="472.14,312.74 472.78,312.55 473.41,312.24 474.05,311.75 474.69,311.01 475.32,309.94 475.96,308.43 476.6,306.42 477.24,303.88 477.88,300.87 478.51,297.58 479.15,294.39 479.79,291.95 480.43,291.95 481.06,294.39 481.7,297.58 482.34,300.87 482.98,303.88 483.61,306.42 484.25,308.43 484.89,309.94 485.53,311.01 486.16,311.75 486.8,312.24 487.44,312.55 488.08,312.74" fill="none" stroke="#f8b414" stroke-width="0.7" stroke-linejoin="round" />
<polyline points="467.68,312.7 468.31,312.49 468.95,312.14 469.59,311.62 470.23,310.83 470.86,309.71 471.5,308.18 472.14,306.19 472.78,303.75 473.41,300.96 474.05,298.07 474.69,295.51 475.32,294.1 475.96,295.33 476.6,297.59 477.24,300.21 477.88,302.82 478.51,305.2 479.15,307.22 479.79,308.85 480.43,310.11 481.06,311.04 481.7,311.71 482.34,312.17 482.98,312.48 483.61,312.68" fill="none" stroke="#f8b414" stroke-width="0.7" stroke-linejoin="round" />
<polyline points="470.23,312.68 470.86,312.44 471.5,312.06 472.14,311.47 472.78,310.61 473.41,309.4 474.05,307.78 474.69,305.74 475.33,303.33 475.96,300.7 476.6,298.13 477.24,296.03 477.88,295 478.51,296.03 479.15,298.13 479.79,300.7 480.43,303.33 481.06,305.74 481.7,307.78 482.34,309.4 482.98,310.61 483.61,311.47 484.25,312.06 484.89,312.44 485.53,312.68" fill="none" stroke="#c8102e" stroke-width="1.1" stroke-linejoin="round" />
<polyline points="470.23,312.66 470.86,312.4 471.5,312 472.14,311.37 472.78,310.45 473.41,309.16 474.05,307.44 474.69,305.27 475.33,302.7 475.96,299.9 476.6,297.17 477.24,294.93 477.88,293.83 478.51,294.93 479.15,297.17 479.79,299.9 480.43,302.7 481.06,305.27 481.7,307.44 482.34,309.16 482.98,310.45 483.61,311.37 484.25,312 484.89,312.4 485.53,312.66" fill="none" stroke="#111" stroke-width="1.1" stroke-linejoin="round" />
<line x1="446" y1="284" x2="446" y2="313.5" stroke="#3a3a3a" stroke-width="1.2"/>
<line x1="445.5" y1="313" x2="513" y2="313" stroke="#3a3a3a" stroke-width="1.2"/>
<line x1="442.5" y1="313" x2="446" y2="313" stroke="#3a3a3a" stroke-width="0.8"/>
<text transform="translate(440.5,315.2) scale(1,1)" font-size="6.3" text-anchor="end" fill="#222222" font-weight="normal" font-style="normal" stroke="#222222" stroke-width="0.1" >0</text>
<line x1="442.5" y1="304" x2="446" y2="304" stroke="#3a3a3a" stroke-width="0.8"/>
<text transform="translate(440.5,306.2) scale(1,1)" font-size="6.3" text-anchor="end" fill="#222222" font-weight="normal" font-style="normal" stroke="#222222" stroke-width="0.1" >0.1</text>
<line x1="442.5" y1="295" x2="446" y2="295" stroke="#3a3a3a" stroke-width="0.8"/>
<text transform="translate(440.5,297.2) scale(1,1)" font-size="6.3" text-anchor="end" fill="#222222" font-weight="normal" font-style="normal" stroke="#222222" stroke-width="0.1" >0.2</text>
<line x1="446" y1="313" x2="446" y2="316" stroke="#3a3a3a" stroke-width="0.8"/>
<text transform="translate(446,324) scale(1,1)" font-size="6.3" text-anchor="middle" fill="#222222" font-weight="normal" font-style="normal" stroke="#222222" stroke-width="0.12" >0</text>
<line x1="477.88" y1="313" x2="477.88" y2="316" stroke="#3a3a3a" stroke-width="0.8"/>
<text transform="translate(477.88,324) scale(1,1)" font-size="6.3" text-anchor="middle" fill="#222222" font-weight="normal" font-style="normal" stroke="#222222" stroke-width="0.12" >0.5</text>
<line x1="509.75" y1="313" x2="509.75" y2="316" stroke="#3a3a3a" stroke-width="0.8"/>
<text transform="translate(509.75,324) scale(1,1)" font-size="6.3" text-anchor="middle" fill="#222222" font-weight="normal" font-style="normal" stroke="#222222" stroke-width="0.12" >1</text>
<text transform="translate(66,352.9) scale(1,1.2)" font-size="9" text-anchor="middle" fill="#111" font-weight="normal" font-style="normal" stroke="#111" stroke-width="0.1" >Pool A</text>
<polyline points="35.06,375 41.46,369 50.42,376.2 59.38,374.5 77.3,380.4 86.26,380.8 95.22,382" fill="none" stroke="#c8102e" stroke-width="1.3" stroke-linejoin="round" />
<polyline points="35.06,375.05 41.46,372 50.42,380.6 59.38,376.85 77.3,377.8 86.26,378.65 95.22,380.3" fill="none" stroke="#111" stroke-width="1.3" stroke-linejoin="round" />
<circle cx="35.06" cy="375" r="1.7" fill="#c8102e"/>
<circle cx="41.46" cy="369" r="1.7" fill="#c8102e"/>
<circle cx="50.42" cy="376.2" r="1.7" fill="#c8102e"/>
<circle cx="59.38" cy="374.5" r="1.7" fill="#c8102e"/>
<circle cx="77.3" cy="380.4" r="1.7" fill="#c8102e"/>
<circle cx="86.26" cy="380.8" r="1.7" fill="#c8102e"/>
<circle cx="95.22" cy="382" r="1.7" fill="#c8102e"/>
<circle cx="35.06" cy="375.05" r="1.7" fill="#111"/>
<circle cx="41.46" cy="372" r="1.7" fill="#111"/>
<circle cx="50.42" cy="380.6" r="1.7" fill="#111"/>
<circle cx="59.38" cy="376.85" r="1.7" fill="#111"/>
<circle cx="77.3" cy="377.8" r="1.7" fill="#111"/>
<circle cx="86.26" cy="378.65" r="1.7" fill="#111"/>
<circle cx="95.22" cy="380.3" r="1.7" fill="#111"/>
<polygon points="68.34,370.9 69.03,372.55 70.81,372.7 69.45,373.86 69.87,375.6 68.34,374.67 66.81,375.6 67.23,373.86 65.87,372.7 67.65,372.55" fill="#1a5288"/>
<polygon points="68.34,375.1 69.03,376.75 70.81,376.9 69.45,378.06 69.87,379.8 68.34,378.87 66.81,379.8 67.23,378.06 65.87,376.9 67.65,376.75" fill="#111"/>
<line x1="32.5" y1="355.5" x2="32.5" y2="399.9" stroke="#3a3a3a" stroke-width="1.2"/>
<line x1="32" y1="399.4" x2="96.5" y2="399.4" stroke="#3a3a3a" stroke-width="1.2"/>
<line x1="29" y1="359.8" x2="32.5" y2="359.8" stroke="#3a3a3a" stroke-width="0.8"/>
<text transform="translate(27.5,362) scale(1,1)" font-size="6.3" text-anchor="end" fill="#222222" font-weight="normal" font-style="normal" textLength="9.9" lengthAdjust="spacingAndGlyphs" >180</text>
<line x1="29" y1="379.6" x2="32.5" y2="379.6" stroke="#3a3a3a" stroke-width="0.8"/>
<text transform="translate(27.5,381.8) scale(1,1)" font-size="6.3" text-anchor="end" fill="#222222" font-weight="normal" font-style="normal" textLength="9.9" lengthAdjust="spacingAndGlyphs" >175</text>
<line x1="29" y1="399.4" x2="32.5" y2="399.4" stroke="#3a3a3a" stroke-width="0.8"/>
<text transform="translate(27.5,401.6) scale(1,1)" font-size="6.3" text-anchor="end" fill="#222222" font-weight="normal" font-style="normal" textLength="9.9" lengthAdjust="spacingAndGlyphs" >170</text>
<line x1="32.5" y1="399.4" x2="32.5" y2="402.4" stroke="#3a3a3a" stroke-width="0.8"/>
<text transform="translate(32.5,409.4) scale(1,1)" font-size="6.3" text-anchor="middle" fill="#222222" font-weight="normal" font-style="normal" >0</text>
<line x1="58.1" y1="399.4" x2="58.1" y2="402.4" stroke="#3a3a3a" stroke-width="0.8"/>
<text transform="translate(58.1,409.4) scale(1,1)" font-size="6.3" text-anchor="middle" fill="#222222" font-weight="normal" font-style="normal" >20</text>
<line x1="83.7" y1="399.4" x2="83.7" y2="402.4" stroke="#3a3a3a" stroke-width="0.8"/>
<text transform="translate(83.7,409.4) scale(1,1)" font-size="6.3" text-anchor="middle" fill="#222222" font-weight="normal" font-style="normal" >40</text>
<text stroke="#222222" stroke-width="0.18" transform="translate(10.6,377.5) rotate(-90) scale(1,1.2)" x="0" y="0" font-size="6.8" text-anchor="middle" dominant-baseline="central" fill="#222222" font-weight="normal" textLength="10.6" lengthAdjust="spacingAndGlyphs">FSC</text>
<polyline points="35.06,440.4 41.46,434.9 50.42,435.3 59.38,436 77.3,446.8 86.26,452.3 95.22,455.4" fill="none" stroke="#c8102e" stroke-width="1.3" stroke-linejoin="round" />
<polyline points="35.06,440.4 41.46,443.6 50.42,446.8 59.38,446.4 77.3,446.8 86.26,449.9 95.22,451.5" fill="none" stroke="#111" stroke-width="1.3" stroke-linejoin="round" />
<circle cx="35.06" cy="440.4" r="1.7" fill="#c8102e"/>
<circle cx="41.46" cy="434.9" r="1.7" fill="#c8102e"/>
<circle cx="50.42" cy="435.3" r="1.7" fill="#c8102e"/>
<circle cx="59.38" cy="436" r="1.7" fill="#c8102e"/>
<circle cx="77.3" cy="446.8" r="1.7" fill="#c8102e"/>
<circle cx="86.26" cy="452.3" r="1.7" fill="#c8102e"/>
<circle cx="95.22" cy="455.4" r="1.7" fill="#c8102e"/>
<circle cx="35.06" cy="440.4" r="1.7" fill="#111"/>
<circle cx="41.46" cy="443.6" r="1.7" fill="#111"/>
<circle cx="50.42" cy="446.8" r="1.7" fill="#111"/>
<circle cx="59.38" cy="446.4" r="1.7" fill="#111"/>
<circle cx="77.3" cy="446.8" r="1.7" fill="#111"/>
<circle cx="86.26" cy="449.9" r="1.7" fill="#111"/>
<circle cx="95.22" cy="451.5" r="1.7" fill="#111"/>
<polygon points="68.34,427.6 69.03,429.25 70.81,429.4 69.45,430.56 69.87,432.3 68.34,431.37 66.81,432.3 67.23,430.56 65.87,429.4 67.65,429.25" fill="#1a5288"/>
<polygon points="68.34,448.6 69.03,450.25 70.81,450.4 69.45,451.56 69.87,453.3 68.34,452.37 66.81,453.3 67.23,451.56 65.87,450.4 67.65,450.25" fill="#111"/>
<line x1="32.5" y1="420" x2="32.5" y2="463.1" stroke="#3a3a3a" stroke-width="1.2"/>
<line x1="32" y1="462.6" x2="96.5" y2="462.6" stroke="#3a3a3a" stroke-width="1.2"/>
<line x1="29" y1="423.3" x2="32.5" y2="423.3" stroke="#3a3a3a" stroke-width="0.8"/>
<text transform="translate(27.5,425.5) scale(1,1)" font-size="6.3" text-anchor="end" fill="#222222" font-weight="normal" font-style="normal" textLength="7.2" lengthAdjust="spacingAndGlyphs" >38</text>
<line x1="29" y1="442.9" x2="32.5" y2="442.9" stroke="#3a3a3a" stroke-width="0.8"/>
<text transform="translate(27.5,445.1) scale(1,1)" font-size="6.3" text-anchor="end" fill="#222222" font-weight="normal" font-style="normal" textLength="7.2" lengthAdjust="spacingAndGlyphs" >32</text>
<line x1="29" y1="462.6" x2="32.5" y2="462.6" stroke="#3a3a3a" stroke-width="0.8"/>
<text transform="translate(27.5,464.8) scale(1,1)" font-size="6.3" text-anchor="end" fill="#222222" font-weight="normal" font-style="normal" textLength="7.2" lengthAdjust="spacingAndGlyphs" >26</text>
<line x1="32.5" y1="462.6" x2="32.5" y2="465.6" stroke="#3a3a3a" stroke-width="0.8"/>
<text transform="translate(32.5,472.6) scale(1,1)" font-size="6.3" text-anchor="middle" fill="#222222" font-weight="normal" font-style="normal" >0</text>
<line x1="58.1" y1="462.6" x2="58.1" y2="465.6" stroke="#3a3a3a" stroke-width="0.8"/>
<text transform="translate(58.1,472.6) scale(1,1)" font-size="6.3" text-anchor="middle" fill="#222222" font-weight="normal" font-style="normal" >20</text>
<line x1="83.7" y1="462.6" x2="83.7" y2="465.6" stroke="#3a3a3a" stroke-width="0.8"/>
<text transform="translate(83.7,472.6) scale(1,1)" font-size="6.3" text-anchor="middle" fill="#222222" font-weight="normal" font-style="normal" >40</text>
<text stroke="#222222" stroke-width="0.18" transform="translate(11.5,440.7) rotate(-90) scale(1,1.2)" x="0" y="0" font-size="6.8" text-anchor="middle" dominant-baseline="central" fill="#222222" font-weight="normal" textLength="10.7" lengthAdjust="spacingAndGlyphs">SSC</text>
<text transform="translate(64.1,483.9) scale(1,1.3)" font-size="7.2" text-anchor="middle" fill="#222222" font-weight="normal" font-style="normal" textLength="43.2" lengthAdjust="spacingAndGlyphs" stroke="#222222" stroke-width="0.2" >Days in storage</text>
<text transform="translate(148.7,352.9) scale(1,1.2)" font-size="9" text-anchor="middle" fill="#111" font-weight="normal" font-style="normal" stroke="#111" stroke-width="0.1" >Pool B</text>
<polyline points="117.76,386.5 124.16,378.9 133.12,386.5 142.08,383.8 160,389.3 168.96,388.6 177.92,389.3" fill="none" stroke="#c8102e" stroke-width="1.3" stroke-linejoin="round" />
<polyline points="117.76,386.5 124.16,382.4 133.12,390.7 142.08,386.5 160,387.2 168.96,386.95 177.92,389.3" fill="none" stroke="#111" stroke-width="1.3" stroke-linejoin="round" />
<circle cx="117.76" cy="386.5" r="1.7" fill="#c8102e"/>
<circle cx="124.16" cy="378.9" r="1.7" fill="#c8102e"/>
<circle cx="133.12" cy="386.5" r="1.7" fill="#c8102e"/>
<circle cx="142.08" cy="383.8" r="1.7" fill="#c8102e"/>
<circle cx="160" cy="389.3" r="1.7" fill="#c8102e"/>
<circle cx="168.96" cy="388.6" r="1.7" fill="#c8102e"/>
<circle cx="177.92" cy="389.3" r="1.7" fill="#c8102e"/>
<circle cx="117.76" cy="386.5" r="1.7" fill="#111"/>
<circle cx="124.16" cy="382.4" r="1.7" fill="#111"/>
<circle cx="133.12" cy="390.7" r="1.7" fill="#111"/>
<circle cx="142.08" cy="386.5" r="1.7" fill="#111"/>
<circle cx="160" cy="387.2" r="1.7" fill="#111"/>
<circle cx="168.96" cy="386.95" r="1.7" fill="#111"/>
<circle cx="177.92" cy="389.3" r="1.7" fill="#111"/>
<polygon points="151.04,380.8 151.73,382.45 153.51,382.6 152.15,383.76 152.57,385.5 151.04,384.57 149.51,385.5 149.93,383.76 148.57,382.6 150.35,382.45" fill="#1a5288"/>
<polygon points="151.04,383.5 151.73,385.15 153.51,385.3 152.15,386.46 152.57,388.2 151.04,387.27 149.51,388.2 149.93,386.46 148.57,385.3 150.35,385.15" fill="#111"/>
<line x1="115.2" y1="355.5" x2="115.2" y2="399.9" stroke="#3a3a3a" stroke-width="1.2"/>
<line x1="114.7" y1="399.4" x2="179.2" y2="399.4" stroke="#3a3a3a" stroke-width="1.2"/>
<line x1="111.7" y1="359.8" x2="115.2" y2="359.8" stroke="#3a3a3a" stroke-width="0.8"/>
<text transform="translate(110.2,362) scale(1,1)" font-size="6.3" text-anchor="end" fill="#222222" font-weight="normal" font-style="normal" textLength="9.9" lengthAdjust="spacingAndGlyphs" >180</text>
<line x1="111.7" y1="379.6" x2="115.2" y2="379.6" stroke="#3a3a3a" stroke-width="0.8"/>
<text transform="translate(110.2,381.8) scale(1,1)" font-size="6.3" text-anchor="end" fill="#222222" font-weight="normal" font-style="normal" textLength="9.9" lengthAdjust="spacingAndGlyphs" >175</text>
<line x1="111.7" y1="399.4" x2="115.2" y2="399.4" stroke="#3a3a3a" stroke-width="0.8"/>
<text transform="translate(110.2,401.6) scale(1,1)" font-size="6.3" text-anchor="end" fill="#222222" font-weight="normal" font-style="normal" textLength="9.9" lengthAdjust="spacingAndGlyphs" >170</text>
<line x1="115.2" y1="399.4" x2="115.2" y2="402.4" stroke="#3a3a3a" stroke-width="0.8"/>
<text transform="translate(115.2,409.4) scale(1,1)" font-size="6.3" text-anchor="middle" fill="#222222" font-weight="normal" font-style="normal" >0</text>
<line x1="140.8" y1="399.4" x2="140.8" y2="402.4" stroke="#3a3a3a" stroke-width="0.8"/>
<text transform="translate(140.8,409.4) scale(1,1)" font-size="6.3" text-anchor="middle" fill="#222222" font-weight="normal" font-style="normal" >20</text>
<line x1="166.4" y1="399.4" x2="166.4" y2="402.4" stroke="#3a3a3a" stroke-width="0.8"/>
<text transform="translate(166.4,409.4) scale(1,1)" font-size="6.3" text-anchor="middle" fill="#222222" font-weight="normal" font-style="normal" >40</text>
<polyline points="117.76,441.5 124.16,438.1 133.12,437.4 142.08,438.1 160,446.4 168.96,450.1 177.92,453.3" fill="none" stroke="#c8102e" stroke-width="1.3" stroke-linejoin="round" />
<polyline points="117.76,441.5 124.16,445.4 133.12,447.1 142.08,447.1 160,447.1 168.96,450.1 177.92,452.6" fill="none" stroke="#111" stroke-width="1.3" stroke-linejoin="round" />
<circle cx="117.76" cy="441.5" r="1.7" fill="#c8102e"/>
<circle cx="124.16" cy="438.1" r="1.7" fill="#c8102e"/>
<circle cx="133.12" cy="437.4" r="1.7" fill="#c8102e"/>
<circle cx="142.08" cy="438.1" r="1.7" fill="#c8102e"/>
<circle cx="160" cy="446.4" r="1.7" fill="#c8102e"/>
<circle cx="168.96" cy="450.1" r="1.7" fill="#c8102e"/>
<circle cx="177.92" cy="453.3" r="1.7" fill="#c8102e"/>
<circle cx="117.76" cy="441.5" r="1.7" fill="#111"/>
<circle cx="124.16" cy="445.4" r="1.7" fill="#111"/>
<circle cx="133.12" cy="447.1" r="1.7" fill="#111"/>
<circle cx="142.08" cy="447.1" r="1.7" fill="#111"/>
<circle cx="160" cy="447.1" r="1.7" fill="#111"/>
<circle cx="168.96" cy="450.1" r="1.7" fill="#111"/>
<circle cx="177.92" cy="452.6" r="1.7" fill="#111"/>
<polygon points="151.04,429 151.73,430.65 153.51,430.8 152.15,431.96 152.57,433.7 151.04,432.77 149.51,433.7 149.93,431.96 148.57,430.8 150.35,430.65" fill="#1a5288"/>
<polygon points="151.04,447.9 151.73,449.55 153.51,449.7 152.15,450.86 152.57,452.6 151.04,451.67 149.51,452.6 149.93,450.86 148.57,449.7 150.35,449.55" fill="#111"/>
<line x1="115.2" y1="420" x2="115.2" y2="463.1" stroke="#3a3a3a" stroke-width="1.2"/>
<line x1="114.7" y1="462.6" x2="179.2" y2="462.6" stroke="#3a3a3a" stroke-width="1.2"/>
<line x1="111.7" y1="423.3" x2="115.2" y2="423.3" stroke="#3a3a3a" stroke-width="0.8"/>
<text transform="translate(110.2,425.5) scale(1,1)" font-size="6.3" text-anchor="end" fill="#222222" font-weight="normal" font-style="normal" textLength="7.2" lengthAdjust="spacingAndGlyphs" >38</text>
<line x1="111.7" y1="442.9" x2="115.2" y2="442.9" stroke="#3a3a3a" stroke-width="0.8"/>
<text transform="translate(110.2,445.1) scale(1,1)" font-size="6.3" text-anchor="end" fill="#222222" font-weight="normal" font-style="normal" textLength="7.2" lengthAdjust="spacingAndGlyphs" >32</text>
<line x1="111.7" y1="462.6" x2="115.2" y2="462.6" stroke="#3a3a3a" stroke-width="0.8"/>
<text transform="translate(110.2,464.8) scale(1,1)" font-size="6.3" text-anchor="end" fill="#222222" font-weight="normal" font-style="normal" textLength="7.2" lengthAdjust="spacingAndGlyphs" >26</text>
<line x1="115.2" y1="462.6" x2="115.2" y2="465.6" stroke="#3a3a3a" stroke-width="0.8"/>
<text transform="translate(115.2,472.6) scale(1,1)" font-size="6.3" text-anchor="middle" fill="#222222" font-weight="normal" font-style="normal" >0</text>
<line x1="140.8" y1="462.6" x2="140.8" y2="465.6" stroke="#3a3a3a" stroke-width="0.8"/>
<text transform="translate(140.8,472.6) scale(1,1)" font-size="6.3" text-anchor="middle" fill="#222222" font-weight="normal" font-style="normal" >20</text>
<line x1="166.4" y1="462.6" x2="166.4" y2="465.6" stroke="#3a3a3a" stroke-width="0.8"/>
<text transform="translate(166.4,472.6) scale(1,1)" font-size="6.3" text-anchor="middle" fill="#222222" font-weight="normal" font-style="normal" >40</text>
<text transform="translate(231.4,352.9) scale(1,1.2)" font-size="9" text-anchor="middle" fill="#111" font-weight="normal" font-style="normal" stroke="#111" stroke-width="0.1" >Pool C</text>
<polyline points="200.46,378.9 206.86,374.8 215.82,381.4 224.78,378.7 242.7,382.4 251.66,382.4 260.62,385.9" fill="none" stroke="#c8102e" stroke-width="1.3" stroke-linejoin="round" />
<polyline points="200.46,378.9 206.86,376.2 215.82,384.2 224.78,381.7 242.7,382.8 251.66,382.8 260.62,385.6" fill="none" stroke="#111" stroke-width="1.3" stroke-linejoin="round" />
<circle cx="200.46" cy="378.9" r="1.7" fill="#c8102e"/>
<circle cx="206.86" cy="374.8" r="1.7" fill="#c8102e"/>
<circle cx="215.82" cy="381.4" r="1.7" fill="#c8102e"/>
<circle cx="224.78" cy="378.7" r="1.7" fill="#c8102e"/>
<circle cx="242.7" cy="382.4" r="1.7" fill="#c8102e"/>
<circle cx="251.66" cy="382.4" r="1.7" fill="#c8102e"/>
<circle cx="260.62" cy="385.9" r="1.7" fill="#c8102e"/>
<circle cx="200.46" cy="378.9" r="1.7" fill="#111"/>
<circle cx="206.86" cy="376.2" r="1.7" fill="#111"/>
<circle cx="215.82" cy="384.2" r="1.7" fill="#111"/>
<circle cx="224.78" cy="381.7" r="1.7" fill="#111"/>
<circle cx="242.7" cy="382.8" r="1.7" fill="#111"/>
<circle cx="251.66" cy="382.8" r="1.7" fill="#111"/>
<circle cx="260.62" cy="385.6" r="1.7" fill="#111"/>
<polygon points="233.74,375.6 234.43,377.25 236.21,377.4 234.85,378.56 235.27,380.3 233.74,379.37 232.21,380.3 232.63,378.56 231.27,377.4 233.05,377.25" fill="#1a5288"/>
<polygon points="233.74,380.1 234.43,381.75 236.21,381.9 234.85,383.06 235.27,384.8 233.74,383.87 232.21,384.8 232.63,383.06 231.27,381.9 233.05,381.75" fill="#111"/>
<line x1="197.9" y1="355.5" x2="197.9" y2="399.9" stroke="#3a3a3a" stroke-width="1.2"/>
<line x1="197.4" y1="399.4" x2="261.9" y2="399.4" stroke="#3a3a3a" stroke-width="1.2"/>
<line x1="194.4" y1="359.8" x2="197.9" y2="359.8" stroke="#3a3a3a" stroke-width="0.8"/>
<text transform="translate(192.9,362) scale(1,1)" font-size="6.3" text-anchor="end" fill="#222222" font-weight="normal" font-style="normal" textLength="9.9" lengthAdjust="spacingAndGlyphs" >180</text>
<line x1="194.4" y1="379.6" x2="197.9" y2="379.6" stroke="#3a3a3a" stroke-width="0.8"/>
<text transform="translate(192.9,381.8) scale(1,1)" font-size="6.3" text-anchor="end" fill="#222222" font-weight="normal" font-style="normal" textLength="9.9" lengthAdjust="spacingAndGlyphs" >175</text>
<line x1="194.4" y1="399.4" x2="197.9" y2="399.4" stroke="#3a3a3a" stroke-width="0.8"/>
<text transform="translate(192.9,401.6) scale(1,1)" font-size="6.3" text-anchor="end" fill="#222222" font-weight="normal" font-style="normal" textLength="9.9" lengthAdjust="spacingAndGlyphs" >170</text>
<line x1="197.9" y1="399.4" x2="197.9" y2="402.4" stroke="#3a3a3a" stroke-width="0.8"/>
<text transform="translate(197.9,409.4) scale(1,1)" font-size="6.3" text-anchor="middle" fill="#222222" font-weight="normal" font-style="normal" >0</text>
<line x1="223.5" y1="399.4" x2="223.5" y2="402.4" stroke="#3a3a3a" stroke-width="0.8"/>
<text transform="translate(223.5,409.4) scale(1,1)" font-size="6.3" text-anchor="middle" fill="#222222" font-weight="normal" font-style="normal" >20</text>
<line x1="249.1" y1="399.4" x2="249.1" y2="402.4" stroke="#3a3a3a" stroke-width="0.8"/>
<text transform="translate(249.1,409.4) scale(1,1)" font-size="6.3" text-anchor="middle" fill="#222222" font-weight="normal" font-style="normal" >40</text>
<polyline points="200.46,437.7 206.86,429.1 215.82,429.4 224.78,430.2 242.7,442.9 251.66,448.2 260.62,453.7" fill="none" stroke="#c8102e" stroke-width="1.3" stroke-linejoin="round" />
<polyline points="200.46,437.7 206.86,439.7 215.82,441.8 224.78,441.8 242.7,444 251.66,447.1 260.62,449.9" fill="none" stroke="#111" stroke-width="1.3" stroke-linejoin="round" />
<circle cx="200.46" cy="437.7" r="1.7" fill="#c8102e"/>
<circle cx="206.86" cy="429.1" r="1.7" fill="#c8102e"/>
<circle cx="215.82" cy="429.4" r="1.7" fill="#c8102e"/>
<circle cx="224.78" cy="430.2" r="1.7" fill="#c8102e"/>
<circle cx="242.7" cy="442.9" r="1.7" fill="#c8102e"/>
<circle cx="251.66" cy="448.2" r="1.7" fill="#c8102e"/>
<circle cx="260.62" cy="453.7" r="1.7" fill="#c8102e"/>
<circle cx="200.46" cy="437.7" r="1.7" fill="#111"/>
<circle cx="206.86" cy="439.7" r="1.7" fill="#111"/>
<circle cx="215.82" cy="441.8" r="1.7" fill="#111"/>
<circle cx="224.78" cy="441.8" r="1.7" fill="#111"/>
<circle cx="242.7" cy="444" r="1.7" fill="#111"/>
<circle cx="251.66" cy="447.1" r="1.7" fill="#111"/>
<circle cx="260.62" cy="449.9" r="1.7" fill="#111"/>
<polygon points="233.74,425.4 234.43,427.05 236.21,427.2 234.85,428.36 235.27,430.1 233.74,429.17 232.21,430.1 232.63,428.36 231.27,427.2 233.05,427.05" fill="#1a5288"/>
<polygon points="233.74,444.5 234.43,446.15 236.21,446.3 234.85,447.46 235.27,449.2 233.74,448.27 232.21,449.2 232.63,447.46 231.27,446.3 233.05,446.15" fill="#111"/>
<line x1="197.9" y1="420" x2="197.9" y2="463.1" stroke="#3a3a3a" stroke-width="1.2"/>
<line x1="197.4" y1="462.6" x2="261.9" y2="462.6" stroke="#3a3a3a" stroke-width="1.2"/>
<line x1="194.4" y1="423.3" x2="197.9" y2="423.3" stroke="#3a3a3a" stroke-width="0.8"/>
<text transform="translate(192.9,425.5) scale(1,1)" font-size="6.3" text-anchor="end" fill="#222222" font-weight="normal" font-style="normal" textLength="7.2" lengthAdjust="spacingAndGlyphs" >38</text>
<line x1="194.4" y1="442.9" x2="197.9" y2="442.9" stroke="#3a3a3a" stroke-width="0.8"/>
<text transform="translate(192.9,445.1) scale(1,1)" font-size="6.3" text-anchor="end" fill="#222222" font-weight="normal" font-style="normal" textLength="7.2" lengthAdjust="spacingAndGlyphs" >32</text>
<line x1="194.4" y1="462.6" x2="197.9" y2="462.6" stroke="#3a3a3a" stroke-width="0.8"/>
<text transform="translate(192.9,464.8) scale(1,1)" font-size="6.3" text-anchor="end" fill="#222222" font-weight="normal" font-style="normal" textLength="7.2" lengthAdjust="spacingAndGlyphs" >26</text>
<line x1="197.9" y1="462.6" x2="197.9" y2="465.6" stroke="#3a3a3a" stroke-width="0.8"/>
<text transform="translate(197.9,472.6) scale(1,1)" font-size="6.3" text-anchor="middle" fill="#222222" font-weight="normal" font-style="normal" >0</text>
<line x1="223.5" y1="462.6" x2="223.5" y2="465.6" stroke="#3a3a3a" stroke-width="0.8"/>
<text transform="translate(223.5,472.6) scale(1,1)" font-size="6.3" text-anchor="middle" fill="#222222" font-weight="normal" font-style="normal" >20</text>
<line x1="249.1" y1="462.6" x2="249.1" y2="465.6" stroke="#3a3a3a" stroke-width="0.8"/>
<text transform="translate(249.1,472.6) scale(1,1)" font-size="6.3" text-anchor="middle" fill="#222222" font-weight="normal" font-style="normal" >40</text>
<text transform="translate(314.1,352.9) scale(1,1.2)" font-size="9" text-anchor="middle" fill="#111" font-weight="normal" font-style="normal" stroke="#111" stroke-width="0.1" >Pool D</text>
<polyline points="283.16,383.1 289.56,378.9 298.52,387.5 307.48,387.9 325.4,391.1 334.36,389.7 343.32,395.3" fill="none" stroke="#c8102e" stroke-width="1.3" stroke-linejoin="round" />
<polyline points="283.16,383.1 289.56,382.8 298.52,391.4 307.48,391.4 325.4,390.7 334.36,389.3 343.32,393.5" fill="none" stroke="#111" stroke-width="1.3" stroke-linejoin="round" />
<circle cx="283.16" cy="383.1" r="1.7" fill="#c8102e"/>
<circle cx="289.56" cy="378.9" r="1.7" fill="#c8102e"/>
<circle cx="298.52" cy="387.5" r="1.7" fill="#c8102e"/>
<circle cx="307.48" cy="387.9" r="1.7" fill="#c8102e"/>
<circle cx="325.4" cy="391.1" r="1.7" fill="#c8102e"/>
<circle cx="334.36" cy="389.7" r="1.7" fill="#c8102e"/>
<circle cx="343.32" cy="395.3" r="1.7" fill="#c8102e"/>
<circle cx="283.16" cy="383.1" r="1.7" fill="#111"/>
<circle cx="289.56" cy="382.8" r="1.7" fill="#111"/>
<circle cx="298.52" cy="391.4" r="1.7" fill="#111"/>
<circle cx="307.48" cy="391.4" r="1.7" fill="#111"/>
<circle cx="325.4" cy="390.7" r="1.7" fill="#111"/>
<circle cx="334.36" cy="389.3" r="1.7" fill="#111"/>
<circle cx="343.32" cy="393.5" r="1.7" fill="#111"/>
<polygon points="316.44,385.3 317.13,386.95 318.91,387.1 317.55,388.26 317.97,390 316.44,389.07 314.91,390 315.33,388.26 313.97,387.1 315.75,386.95" fill="#1a5288"/>
<polygon points="316.44,387.7 317.13,389.35 318.91,389.5 317.55,390.66 317.97,392.4 316.44,391.47 314.91,392.4 315.33,390.66 313.97,389.5 315.75,389.35" fill="#111"/>
<line x1="280.6" y1="355.5" x2="280.6" y2="399.9" stroke="#3a3a3a" stroke-width="1.2"/>
<line x1="280.1" y1="399.4" x2="344.6" y2="399.4" stroke="#3a3a3a" stroke-width="1.2"/>
<line x1="277.1" y1="359.8" x2="280.6" y2="359.8" stroke="#3a3a3a" stroke-width="0.8"/>
<text transform="translate(275.6,362) scale(1,1)" font-size="6.3" text-anchor="end" fill="#222222" font-weight="normal" font-style="normal" textLength="9.9" lengthAdjust="spacingAndGlyphs" >180</text>
<line x1="277.1" y1="379.6" x2="280.6" y2="379.6" stroke="#3a3a3a" stroke-width="0.8"/>
<text transform="translate(275.6,381.8) scale(1,1)" font-size="6.3" text-anchor="end" fill="#222222" font-weight="normal" font-style="normal" textLength="9.9" lengthAdjust="spacingAndGlyphs" >175</text>
<line x1="277.1" y1="399.4" x2="280.6" y2="399.4" stroke="#3a3a3a" stroke-width="0.8"/>
<text transform="translate(275.6,401.6) scale(1,1)" font-size="6.3" text-anchor="end" fill="#222222" font-weight="normal" font-style="normal" textLength="9.9" lengthAdjust="spacingAndGlyphs" >170</text>
<line x1="280.6" y1="399.4" x2="280.6" y2="402.4" stroke="#3a3a3a" stroke-width="0.8"/>
<text transform="translate(280.6,409.4) scale(1,1)" font-size="6.3" text-anchor="middle" fill="#222222" font-weight="normal" font-style="normal" >0</text>
<line x1="306.2" y1="399.4" x2="306.2" y2="402.4" stroke="#3a3a3a" stroke-width="0.8"/>
<text transform="translate(306.2,409.4) scale(1,1)" font-size="6.3" text-anchor="middle" fill="#222222" font-weight="normal" font-style="normal" >20</text>
<line x1="331.8" y1="399.4" x2="331.8" y2="402.4" stroke="#3a3a3a" stroke-width="0.8"/>
<text transform="translate(331.8,409.4) scale(1,1)" font-size="6.3" text-anchor="middle" fill="#222222" font-weight="normal" font-style="normal" >40</text>
<polyline points="283.16,442.2 289.56,438.1 298.52,437.1 307.48,436.7 325.4,446.4 334.36,452.6 343.32,457.5" fill="none" stroke="#c8102e" stroke-width="1.3" stroke-linejoin="round" />
<polyline points="283.16,442.2 289.56,446.4 298.52,447.8 307.48,448.5 325.4,449.2 334.36,451 343.32,454.3" fill="none" stroke="#111" stroke-width="1.3" stroke-linejoin="round" />
<circle cx="283.16" cy="442.2" r="1.7" fill="#c8102e"/>
<circle cx="289.56" cy="438.1" r="1.7" fill="#c8102e"/>
<circle cx="298.52" cy="437.1" r="1.7" fill="#c8102e"/>
<circle cx="307.48" cy="436.7" r="1.7" fill="#c8102e"/>
<circle cx="325.4" cy="446.4" r="1.7" fill="#c8102e"/>
<circle cx="334.36" cy="452.6" r="1.7" fill="#c8102e"/>
<circle cx="343.32" cy="457.5" r="1.7" fill="#c8102e"/>
<circle cx="283.16" cy="442.2" r="1.7" fill="#111"/>
<circle cx="289.56" cy="446.4" r="1.7" fill="#111"/>
<circle cx="298.52" cy="447.8" r="1.7" fill="#111"/>
<circle cx="307.48" cy="448.5" r="1.7" fill="#111"/>
<circle cx="325.4" cy="449.2" r="1.7" fill="#111"/>
<circle cx="334.36" cy="451" r="1.7" fill="#111"/>
<circle cx="343.32" cy="454.3" r="1.7" fill="#111"/>
<polygon points="316.44,429.5 317.13,431.15 318.91,431.3 317.55,432.46 317.97,434.2 316.44,433.27 314.91,434.2 315.33,432.46 313.97,431.3 315.75,431.15" fill="#1a5288"/>
<polygon points="316.44,452.1 317.13,453.75 318.91,453.9 317.55,455.06 317.97,456.8 316.44,455.87 314.91,456.8 315.33,455.06 313.97,453.9 315.75,453.75" fill="#111"/>
<line x1="280.6" y1="420" x2="280.6" y2="463.1" stroke="#3a3a3a" stroke-width="1.2"/>
<line x1="280.1" y1="462.6" x2="344.6" y2="462.6" stroke="#3a3a3a" stroke-width="1.2"/>
<line x1="277.1" y1="423.3" x2="280.6" y2="423.3" stroke="#3a3a3a" stroke-width="0.8"/>
<text transform="translate(275.6,425.5) scale(1,1)" font-size="6.3" text-anchor="end" fill="#222222" font-weight="normal" font-style="normal" textLength="7.2" lengthAdjust="spacingAndGlyphs" >38</text>
<line x1="277.1" y1="442.9" x2="280.6" y2="442.9" stroke="#3a3a3a" stroke-width="0.8"/>
<text transform="translate(275.6,445.1) scale(1,1)" font-size="6.3" text-anchor="end" fill="#222222" font-weight="normal" font-style="normal" textLength="7.2" lengthAdjust="spacingAndGlyphs" >32</text>
<line x1="277.1" y1="462.6" x2="280.6" y2="462.6" stroke="#3a3a3a" stroke-width="0.8"/>
<text transform="translate(275.6,464.8) scale(1,1)" font-size="6.3" text-anchor="end" fill="#222222" font-weight="normal" font-style="normal" textLength="7.2" lengthAdjust="spacingAndGlyphs" >26</text>
<line x1="280.6" y1="462.6" x2="280.6" y2="465.6" stroke="#3a3a3a" stroke-width="0.8"/>
<text transform="translate(280.6,472.6) scale(1,1)" font-size="6.3" text-anchor="middle" fill="#222222" font-weight="normal" font-style="normal" >0</text>
<line x1="306.2" y1="462.6" x2="306.2" y2="465.6" stroke="#3a3a3a" stroke-width="0.8"/>
<text transform="translate(306.2,472.6) scale(1,1)" font-size="6.3" text-anchor="middle" fill="#222222" font-weight="normal" font-style="normal" >20</text>
<line x1="331.8" y1="462.6" x2="331.8" y2="465.6" stroke="#3a3a3a" stroke-width="0.8"/>
<text transform="translate(331.8,472.6) scale(1,1)" font-size="6.3" text-anchor="middle" fill="#222222" font-weight="normal" font-style="normal" >40</text>
<text transform="translate(396.8,352.9) scale(1,1.2)" font-size="9" text-anchor="middle" fill="#111" font-weight="normal" font-style="normal" stroke="#111" stroke-width="0.1" >Pool E</text>
<polyline points="365.86,366.7 372.26,362.3 381.22,370.6 390.18,371.3 408.1,374.1 417.06,372 426.02,376.4" fill="none" stroke="#c8102e" stroke-width="1.3" stroke-linejoin="round" />
<polyline points="365.86,366.7 372.26,365.1 381.22,373.1 390.18,373.7 408.1,373.4 417.06,371.3 426.02,376.2" fill="none" stroke="#111" stroke-width="1.3" stroke-linejoin="round" />
<circle cx="365.86" cy="366.7" r="1.7" fill="#c8102e"/>
<circle cx="372.26" cy="362.3" r="1.7" fill="#c8102e"/>
<circle cx="381.22" cy="370.6" r="1.7" fill="#c8102e"/>
<circle cx="390.18" cy="371.3" r="1.7" fill="#c8102e"/>
<circle cx="408.1" cy="374.1" r="1.7" fill="#c8102e"/>
<circle cx="417.06" cy="372" r="1.7" fill="#c8102e"/>
<circle cx="426.02" cy="376.4" r="1.7" fill="#c8102e"/>
<circle cx="365.86" cy="366.7" r="1.7" fill="#111"/>
<circle cx="372.26" cy="365.1" r="1.7" fill="#111"/>
<circle cx="381.22" cy="373.1" r="1.7" fill="#111"/>
<circle cx="390.18" cy="373.7" r="1.7" fill="#111"/>
<circle cx="408.1" cy="373.4" r="1.7" fill="#111"/>
<circle cx="417.06" cy="371.3" r="1.7" fill="#111"/>
<circle cx="426.02" cy="376.2" r="1.7" fill="#111"/>
<polygon points="399.14,366.9 399.83,368.55 401.61,368.7 400.25,369.86 400.67,371.6 399.14,370.67 397.61,371.6 398.03,369.86 396.67,368.7 398.45,368.55" fill="#1a5288"/>
<polygon points="399.14,370.4 399.83,372.05 401.61,372.2 400.25,373.36 400.67,375.1 399.14,374.17 397.61,375.1 398.03,373.36 396.67,372.2 398.45,372.05" fill="#111"/>
<line x1="363.3" y1="355.5" x2="363.3" y2="399.9" stroke="#3a3a3a" stroke-width="1.2"/>
<line x1="362.8" y1="399.4" x2="427.3" y2="399.4" stroke="#3a3a3a" stroke-width="1.2"/>
<line x1="359.8" y1="359.8" x2="363.3" y2="359.8" stroke="#3a3a3a" stroke-width="0.8"/>
<text transform="translate(358.3,362) scale(1,1)" font-size="6.3" text-anchor="end" fill="#222222" font-weight="normal" font-style="normal" textLength="9.9" lengthAdjust="spacingAndGlyphs" >180</text>
<line x1="359.8" y1="379.6" x2="363.3" y2="379.6" stroke="#3a3a3a" stroke-width="0.8"/>
<text transform="translate(358.3,381.8) scale(1,1)" font-size="6.3" text-anchor="end" fill="#222222" font-weight="normal" font-style="normal" textLength="9.9" lengthAdjust="spacingAndGlyphs" >175</text>
<line x1="359.8" y1="399.4" x2="363.3" y2="399.4" stroke="#3a3a3a" stroke-width="0.8"/>
<text transform="translate(358.3,401.6) scale(1,1)" font-size="6.3" text-anchor="end" fill="#222222" font-weight="normal" font-style="normal" textLength="9.9" lengthAdjust="spacingAndGlyphs" >170</text>
<line x1="363.3" y1="399.4" x2="363.3" y2="402.4" stroke="#3a3a3a" stroke-width="0.8"/>
<text transform="translate(363.3,409.4) scale(1,1)" font-size="6.3" text-anchor="middle" fill="#222222" font-weight="normal" font-style="normal" >0</text>
<line x1="388.9" y1="399.4" x2="388.9" y2="402.4" stroke="#3a3a3a" stroke-width="0.8"/>
<text transform="translate(388.9,409.4) scale(1,1)" font-size="6.3" text-anchor="middle" fill="#222222" font-weight="normal" font-style="normal" >20</text>
<line x1="414.5" y1="399.4" x2="414.5" y2="402.4" stroke="#3a3a3a" stroke-width="0.8"/>
<text transform="translate(414.5,409.4) scale(1,1)" font-size="6.3" text-anchor="middle" fill="#222222" font-weight="normal" font-style="normal" >40</text>
<polyline points="365.86,431.2 372.26,426 381.22,426 390.18,427.4 408.1,436.7 417.06,442.7 426.02,447.8" fill="none" stroke="#c8102e" stroke-width="1.3" stroke-linejoin="round" />
<polyline points="365.86,431.2 372.26,434.3 381.22,435.7 390.18,436.7 408.1,438.5 417.06,441.3 426.02,445.4" fill="none" stroke="#111" stroke-width="1.3" stroke-linejoin="round" />
<circle cx="365.86" cy="431.2" r="1.7" fill="#c8102e"/>
<circle cx="372.26" cy="426" r="1.7" fill="#c8102e"/>
<circle cx="381.22" cy="426" r="1.7" fill="#c8102e"/>
<circle cx="390.18" cy="427.4" r="1.7" fill="#c8102e"/>
<circle cx="408.1" cy="436.7" r="1.7" fill="#c8102e"/>
<circle cx="417.06" cy="442.7" r="1.7" fill="#c8102e"/>
<circle cx="426.02" cy="447.8" r="1.7" fill="#c8102e"/>
<circle cx="365.86" cy="431.2" r="1.7" fill="#111"/>
<circle cx="372.26" cy="434.3" r="1.7" fill="#111"/>
<circle cx="381.22" cy="435.7" r="1.7" fill="#111"/>
<circle cx="390.18" cy="436.7" r="1.7" fill="#111"/>
<circle cx="408.1" cy="438.5" r="1.7" fill="#111"/>
<circle cx="417.06" cy="441.3" r="1.7" fill="#111"/>
<circle cx="426.02" cy="445.4" r="1.7" fill="#111"/>
<polygon points="399.14,421.2 399.83,422.85 401.61,423 400.25,424.16 400.67,425.9 399.14,424.97 397.61,425.9 398.03,424.16 396.67,423 398.45,422.85" fill="#1a5288"/>
<polygon points="399.14,440.3 399.83,441.95 401.61,442.1 400.25,443.26 400.67,445 399.14,444.07 397.61,445 398.03,443.26 396.67,442.1 398.45,441.95" fill="#111"/>
<line x1="363.3" y1="420" x2="363.3" y2="463.1" stroke="#3a3a3a" stroke-width="1.2"/>
<line x1="362.8" y1="462.6" x2="427.3" y2="462.6" stroke="#3a3a3a" stroke-width="1.2"/>
<line x1="359.8" y1="423.3" x2="363.3" y2="423.3" stroke="#3a3a3a" stroke-width="0.8"/>
<text transform="translate(358.3,425.5) scale(1,1)" font-size="6.3" text-anchor="end" fill="#222222" font-weight="normal" font-style="normal" textLength="7.2" lengthAdjust="spacingAndGlyphs" >38</text>
<line x1="359.8" y1="442.9" x2="363.3" y2="442.9" stroke="#3a3a3a" stroke-width="0.8"/>
<text transform="translate(358.3,445.1) scale(1,1)" font-size="6.3" text-anchor="end" fill="#222222" font-weight="normal" font-style="normal" textLength="7.2" lengthAdjust="spacingAndGlyphs" >32</text>
<line x1="359.8" y1="462.6" x2="363.3" y2="462.6" stroke="#3a3a3a" stroke-width="0.8"/>
<text transform="translate(358.3,464.8) scale(1,1)" font-size="6.3" text-anchor="end" fill="#222222" font-weight="normal" font-style="normal" textLength="7.2" lengthAdjust="spacingAndGlyphs" >26</text>
<line x1="363.3" y1="462.6" x2="363.3" y2="465.6" stroke="#3a3a3a" stroke-width="0.8"/>
<text transform="translate(363.3,472.6) scale(1,1)" font-size="6.3" text-anchor="middle" fill="#222222" font-weight="normal" font-style="normal" >0</text>
<line x1="388.9" y1="462.6" x2="388.9" y2="465.6" stroke="#3a3a3a" stroke-width="0.8"/>
<text transform="translate(388.9,472.6) scale(1,1)" font-size="6.3" text-anchor="middle" fill="#222222" font-weight="normal" font-style="normal" >20</text>
<line x1="414.5" y1="462.6" x2="414.5" y2="465.6" stroke="#3a3a3a" stroke-width="0.8"/>
<text transform="translate(414.5,472.6) scale(1,1)" font-size="6.3" text-anchor="middle" fill="#222222" font-weight="normal" font-style="normal" >40</text>
<text transform="translate(479.5,352.9) scale(1,1.2)" font-size="9" text-anchor="middle" fill="#111" font-weight="normal" font-style="normal" stroke="#111" stroke-width="0.1" >Pool F</text>
<polyline points="448.56,366.7 454.96,362.6 463.92,371.3 472.88,372.3 490.8,375.5 499.76,373.4 508.72,377.3" fill="none" stroke="#c8102e" stroke-width="1.3" stroke-linejoin="round" />
<polyline points="448.56,366.7 454.96,365.8 463.92,373.4 472.88,374.1 490.8,373.8 499.76,372 508.72,376.4" fill="none" stroke="#111" stroke-width="1.3" stroke-linejoin="round" />
<circle cx="448.56" cy="366.7" r="1.7" fill="#c8102e"/>
<circle cx="454.96" cy="362.6" r="1.7" fill="#c8102e"/>
<circle cx="463.92" cy="371.3" r="1.7" fill="#c8102e"/>
<circle cx="472.88" cy="372.3" r="1.7" fill="#c8102e"/>
<circle cx="490.8" cy="375.5" r="1.7" fill="#c8102e"/>
<circle cx="499.76" cy="373.4" r="1.7" fill="#c8102e"/>
<circle cx="508.72" cy="377.3" r="1.7" fill="#c8102e"/>
<circle cx="448.56" cy="366.7" r="1.7" fill="#111"/>
<circle cx="454.96" cy="365.8" r="1.7" fill="#111"/>
<circle cx="463.92" cy="373.4" r="1.7" fill="#111"/>
<circle cx="472.88" cy="374.1" r="1.7" fill="#111"/>
<circle cx="490.8" cy="373.8" r="1.7" fill="#111"/>
<circle cx="499.76" cy="372" r="1.7" fill="#111"/>
<circle cx="508.72" cy="376.4" r="1.7" fill="#111"/>
<polygon points="481.84,369.1 482.53,370.75 484.31,370.9 482.95,372.06 483.37,373.8 481.84,372.87 480.31,373.8 480.73,372.06 479.37,370.9 481.15,370.75" fill="#1a5288"/>
<polygon points="481.84,371.3 482.53,372.95 484.31,373.1 482.95,374.26 483.37,376 481.84,375.07 480.31,376 480.73,374.26 479.37,373.1 481.15,372.95" fill="#111"/>
<line x1="446" y1="355.5" x2="446" y2="399.9" stroke="#3a3a3a" stroke-width="1.2"/>
<line x1="445.5" y1="399.4" x2="510" y2="399.4" stroke="#3a3a3a" stroke-width="1.2"/>
<line x1="442.5" y1="359.8" x2="446" y2="359.8" stroke="#3a3a3a" stroke-width="0.8"/>
<text transform="translate(441,362) scale(1,1)" font-size="6.3" text-anchor="end" fill="#222222" font-weight="normal" font-style="normal" textLength="9.9" lengthAdjust="spacingAndGlyphs" >180</text>
<line x1="442.5" y1="379.6" x2="446" y2="379.6" stroke="#3a3a3a" stroke-width="0.8"/>
<text transform="translate(441,381.8) scale(1,1)" font-size="6.3" text-anchor="end" fill="#222222" font-weight="normal" font-style="normal" textLength="9.9" lengthAdjust="spacingAndGlyphs" >175</text>
<line x1="442.5" y1="399.4" x2="446" y2="399.4" stroke="#3a3a3a" stroke-width="0.8"/>
<text transform="translate(441,401.6) scale(1,1)" font-size="6.3" text-anchor="end" fill="#222222" font-weight="normal" font-style="normal" textLength="9.9" lengthAdjust="spacingAndGlyphs" >170</text>
<line x1="446" y1="399.4" x2="446" y2="402.4" stroke="#3a3a3a" stroke-width="0.8"/>
<text transform="translate(446,409.4) scale(1,1)" font-size="6.3" text-anchor="middle" fill="#222222" font-weight="normal" font-style="normal" >0</text>
<line x1="471.6" y1="399.4" x2="471.6" y2="402.4" stroke="#3a3a3a" stroke-width="0.8"/>
<text transform="translate(471.6,409.4) scale(1,1)" font-size="6.3" text-anchor="middle" fill="#222222" font-weight="normal" font-style="normal" >20</text>
<line x1="497.2" y1="399.4" x2="497.2" y2="402.4" stroke="#3a3a3a" stroke-width="0.8"/>
<text transform="translate(497.2,409.4) scale(1,1)" font-size="6.3" text-anchor="middle" fill="#222222" font-weight="normal" font-style="normal" >40</text>
<polyline points="448.56,439.9 454.96,433 463.92,432.5 472.88,434.3 490.8,444.6 499.76,449.6 508.72,452.9" fill="none" stroke="#c8102e" stroke-width="1.3" stroke-linejoin="round" />
<polyline points="448.56,439.9 454.96,442.7 463.92,443.6 472.88,443.2 490.8,445.4 499.76,447.1 508.72,450.1" fill="none" stroke="#111" stroke-width="1.3" stroke-linejoin="round" />
<circle cx="448.56" cy="439.9" r="1.7" fill="#c8102e"/>
<circle cx="454.96" cy="433" r="1.7" fill="#c8102e"/>
<circle cx="463.92" cy="432.5" r="1.7" fill="#c8102e"/>
<circle cx="472.88" cy="434.3" r="1.7" fill="#c8102e"/>
<circle cx="490.8" cy="444.6" r="1.7" fill="#c8102e"/>
<circle cx="499.76" cy="449.6" r="1.7" fill="#c8102e"/>
<circle cx="508.72" cy="452.9" r="1.7" fill="#c8102e"/>
<circle cx="448.56" cy="439.9" r="1.7" fill="#111"/>
<circle cx="454.96" cy="442.7" r="1.7" fill="#111"/>
<circle cx="463.92" cy="443.6" r="1.7" fill="#111"/>
<circle cx="472.88" cy="443.2" r="1.7" fill="#111"/>
<circle cx="490.8" cy="445.4" r="1.7" fill="#111"/>
<circle cx="499.76" cy="447.1" r="1.7" fill="#111"/>
<circle cx="508.72" cy="450.1" r="1.7" fill="#111"/>
<polygon points="481.84,426.2 482.53,427.85 484.31,428 482.95,429.16 483.37,430.9 481.84,429.97 480.31,430.9 480.73,429.16 479.37,428 481.15,427.85" fill="#1a5288"/>
<polygon points="481.84,446.1 482.53,447.75 484.31,447.9 482.95,449.06 483.37,450.8 481.84,449.87 480.31,450.8 480.73,449.06 479.37,447.9 481.15,447.75" fill="#111"/>
<line x1="446" y1="420" x2="446" y2="463.1" stroke="#3a3a3a" stroke-width="1.2"/>
<line x1="445.5" y1="462.6" x2="510" y2="462.6" stroke="#3a3a3a" stroke-width="1.2"/>
<line x1="442.5" y1="423.3" x2="446" y2="423.3" stroke="#3a3a3a" stroke-width="0.8"/>
<text transform="translate(441,425.5) scale(1,1)" font-size="6.3" text-anchor="end" fill="#222222" font-weight="normal" font-style="normal" textLength="7.2" lengthAdjust="spacingAndGlyphs" >38</text>
<line x1="442.5" y1="442.9" x2="446" y2="442.9" stroke="#3a3a3a" stroke-width="0.8"/>
<text transform="translate(441,445.1) scale(1,1)" font-size="6.3" text-anchor="end" fill="#222222" font-weight="normal" font-style="normal" textLength="7.2" lengthAdjust="spacingAndGlyphs" >32</text>
<line x1="442.5" y1="462.6" x2="446" y2="462.6" stroke="#3a3a3a" stroke-width="0.8"/>
<text transform="translate(441,464.8) scale(1,1)" font-size="6.3" text-anchor="end" fill="#222222" font-weight="normal" font-style="normal" textLength="7.2" lengthAdjust="spacingAndGlyphs" >26</text>
<line x1="446" y1="462.6" x2="446" y2="465.6" stroke="#3a3a3a" stroke-width="0.8"/>
<text transform="translate(446,472.6) scale(1,1)" font-size="6.3" text-anchor="middle" fill="#222222" font-weight="normal" font-style="normal" >0</text>
<line x1="471.6" y1="462.6" x2="471.6" y2="465.6" stroke="#3a3a3a" stroke-width="0.8"/>
<text transform="translate(471.6,472.6) scale(1,1)" font-size="6.3" text-anchor="middle" fill="#222222" font-weight="normal" font-style="normal" >20</text>
<line x1="497.2" y1="462.6" x2="497.2" y2="465.6" stroke="#3a3a3a" stroke-width="0.8"/>
<text transform="translate(497.2,472.6) scale(1,1)" font-size="6.3" text-anchor="middle" fill="#222222" font-weight="normal" font-style="normal" >40</text>
<text transform="translate(144.25,504.5) scale(1,1.03)" font-size="8.8" text-anchor="middle" fill="#111" font-weight="normal" font-style="normal" textLength="41.9" lengthAdjust="spacingAndGlyphs" stroke="#111" stroke-width="0.1" >Physiology</text>
<text transform="translate(404.75,504.5) scale(1,1.03)" font-size="8.8" text-anchor="middle" fill="#111" font-weight="normal" font-style="normal" textLength="59.5" lengthAdjust="spacingAndGlyphs" stroke="#111" stroke-width="0.1" >Flow cytometry</text>
<rect x="47.35" y="539.25" width="8" height="27.84" fill="#c8102e"/>
<line x1="51.35" y1="567.09" x2="51.35" y2="575.57" stroke="#222" stroke-width="0.9"/>
<line x1="49.15" y1="575.57" x2="53.55" y2="575.57" stroke="#222" stroke-width="1.0"/>
<circle cx="51.35" cy="578.5" r="0.8" fill="#c8102e"/>
<rect x="57.95" y="539.25" width="8" height="48.72" fill="#c8102e"/>
<line x1="61.95" y1="587.97" x2="61.95" y2="598.85" stroke="#222" stroke-width="0.9"/>
<line x1="59.75" y1="598.85" x2="64.15" y2="598.85" stroke="#222" stroke-width="1.0"/>
<circle cx="60.45" cy="602" r="0.85" fill="#c8102e"/>
<circle cx="63.45" cy="602" r="0.85" fill="#c8102e"/>
<rect x="68.55" y="539.25" width="8" height="55.68" fill="#c8102e"/>
<line x1="72.55" y1="594.93" x2="72.55" y2="604.93" stroke="#222" stroke-width="0.9"/>
<line x1="70.35" y1="604.93" x2="74.75" y2="604.93" stroke="#222" stroke-width="1.0"/>
<circle cx="71.05" cy="608" r="0.85" fill="#c8102e"/>
<circle cx="74.05" cy="608" r="0.85" fill="#c8102e"/>
<rect x="80.85" y="539.25" width="8" height="56.99" fill="#1a5288"/>
<line x1="84.85" y1="596.24" x2="84.85" y2="602.76" stroke="#222" stroke-width="0.9"/>
<line x1="82.65" y1="602.76" x2="87.05" y2="602.76" stroke="#222" stroke-width="1.0"/>
<circle cx="83.35" cy="605.8" r="0.85" fill="#1a5288"/>
<circle cx="86.35" cy="605.8" r="0.85" fill="#1a5288"/>
<rect x="89.75" y="539.25" width="8" height="40.67" fill="#c8102e"/>
<line x1="93.75" y1="579.92" x2="93.75" y2="588.84" stroke="#222" stroke-width="0.9"/>
<line x1="91.55" y1="588.84" x2="95.95" y2="588.84" stroke="#222" stroke-width="1.0"/>
<circle cx="92.25" cy="592" r="0.85" fill="#c8102e"/>
<circle cx="95.25" cy="592" r="0.85" fill="#c8102e"/>
<rect x="110.95" y="528.81" width="8" height="10.44" fill="#c8102e"/>
<line x1="114.95" y1="528.81" x2="114.95" y2="522.07" stroke="#222" stroke-width="0.9"/>
<line x1="112.75" y1="522.07" x2="117.15" y2="522.07" stroke="#222" stroke-width="1.0"/>
<line x1="36.25" y1="539.25" x2="121.25" y2="539.25" stroke="#666" stroke-width="1.35"/>
<line x1="36.25" y1="513.75" x2="36.25" y2="626.85" stroke="#111" stroke-width="1.3"/>
<line x1="35.65" y1="626.25" x2="121.25" y2="626.25" stroke="#111" stroke-width="1.3"/>
<line x1="32.75" y1="517.5" x2="36.25" y2="517.5" stroke="#111" stroke-width="0.9"/>
<text transform="translate(30.95,519.9) scale(1,1)" font-size="6.9" text-anchor="end" fill="#111" font-weight="normal" font-style="normal" stroke="#111" stroke-width="0.2" >10</text>
<line x1="32.75" y1="539.25" x2="36.25" y2="539.25" stroke="#111" stroke-width="0.9"/>
<text transform="translate(30.95,541.65) scale(1,1)" font-size="6.9" text-anchor="end" fill="#111" font-weight="normal" font-style="normal" stroke="#111" stroke-width="0.2" >0</text>
<line x1="32.75" y1="561" x2="36.25" y2="561" stroke="#111" stroke-width="0.9"/>
<text transform="translate(30.95,563.4) scale(1,1)" font-size="6.9" text-anchor="end" fill="#111" font-weight="normal" font-style="normal" stroke="#111" stroke-width="0.2" >−10</text>
<line x1="32.75" y1="582.75" x2="36.25" y2="582.75" stroke="#111" stroke-width="0.9"/>
<text transform="translate(30.95,585.15) scale(1,1)" font-size="6.9" text-anchor="end" fill="#111" font-weight="normal" font-style="normal" stroke="#111" stroke-width="0.2" >−20</text>
<line x1="32.75" y1="604.5" x2="36.25" y2="604.5" stroke="#111" stroke-width="0.9"/>
<text transform="translate(30.95,606.9) scale(1,1)" font-size="6.9" text-anchor="end" fill="#111" font-weight="normal" font-style="normal" stroke="#111" stroke-width="0.2" >−30</text>
<line x1="32.75" y1="626.25" x2="36.25" y2="626.25" stroke="#111" stroke-width="0.9"/>
<text transform="translate(30.95,628.65) scale(1,1)" font-size="6.9" text-anchor="end" fill="#111" font-weight="normal" font-style="normal" stroke="#111" stroke-width="0.2" >−40</text>
<line x1="40.75" y1="626.25" x2="40.75" y2="628.75" stroke="#111" stroke-width="0.8"/>
<text transform="translate(40.75,636.85) scale(1,1)" font-size="6.9" text-anchor="middle" fill="#111" font-weight="normal" font-style="normal" stroke="#111" stroke-width="0.2" >0</text>
<line x1="51.35" y1="626.25" x2="51.35" y2="628.75" stroke="#111" stroke-width="0.8"/>
<text transform="translate(51.35,636.85) scale(1,1)" font-size="6.9" text-anchor="middle" fill="#111" font-weight="normal" font-style="normal" stroke="#111" stroke-width="0.2" >7</text>
<line x1="61.95" y1="626.25" x2="61.95" y2="628.75" stroke="#111" stroke-width="0.8"/>
<text transform="translate(61.95,636.85) scale(1,1)" font-size="6.9" text-anchor="middle" fill="#111" font-weight="normal" font-style="normal" stroke="#111" stroke-width="0.2" >14</text>
<line x1="72.55" y1="626.25" x2="72.55" y2="628.75" stroke="#111" stroke-width="0.8"/>
<text transform="translate(72.55,636.85) scale(1,1)" font-size="6.9" text-anchor="middle" fill="#111" font-weight="normal" font-style="normal" stroke="#111" stroke-width="0.2" >21</text>
<line x1="83.15" y1="626.25" x2="83.15" y2="628.75" stroke="#111" stroke-width="0.8"/>
<text transform="translate(83.15,636.85) scale(1,1)" font-size="6.9" text-anchor="middle" fill="#111" font-weight="normal" font-style="normal" stroke="#111" stroke-width="0.2" >28</text>
<line x1="93.75" y1="626.25" x2="93.75" y2="628.75" stroke="#111" stroke-width="0.8"/>
<text transform="translate(93.75,636.85) scale(1,1)" font-size="6.9" text-anchor="middle" fill="#111" font-weight="normal" font-style="normal" stroke="#111" stroke-width="0.2" >35</text>
<line x1="104.35" y1="626.25" x2="104.35" y2="628.75" stroke="#111" stroke-width="0.8"/>
<text transform="translate(104.35,636.85) scale(1,1)" font-size="6.9" text-anchor="middle" fill="#111" font-weight="normal" font-style="normal" stroke="#111" stroke-width="0.2" >42</text>
<line x1="114.95" y1="626.25" x2="114.95" y2="628.75" stroke="#111" stroke-width="0.8"/>
<text transform="translate(114.95,636.85) scale(1,1)" font-size="6.9" text-anchor="middle" fill="#111" font-weight="normal" font-style="normal" stroke="#111" stroke-width="0.2" >49</text>
<text transform="translate(78.65,648.75) scale(1,1.2)" font-size="7.2" text-anchor="middle" fill="#222222" font-weight="normal" font-style="normal" textLength="50.7" lengthAdjust="spacingAndGlyphs" stroke="#222222" stroke-width="0.18" >Days under storage</text>
<text stroke="#222222" stroke-width="0.12" transform="translate(11.25,570.5) rotate(-90) scale(1,1.28)" x="0" y="0" font-size="6.6" text-anchor="middle" dominant-baseline="central" fill="#222222" font-weight="normal" textLength="110" lengthAdjust="spacingAndGlyphs">% Change in O<tspan font-size="5" dy="1.5">2</tspan><tspan dy="-1.5"> unloading time constant</tspan></text>
<rect x="179.6" y="552.5" width="8" height="19.25" fill="#c8102e"/>
<line x1="183.6" y1="552.5" x2="183.6" y2="547.06" stroke="#222" stroke-width="0.9"/>
<line x1="181.4" y1="547.06" x2="185.8" y2="547.06" stroke="#222" stroke-width="1.0"/>
<circle cx="183.6" cy="543" r="0.8" fill="#c8102e"/>
<rect x="190.2" y="566.31" width="8" height="5.44" fill="#c8102e"/>
<line x1="194.2" y1="566.31" x2="194.2" y2="561.75" stroke="#222" stroke-width="0.9"/>
<line x1="192" y1="561.75" x2="196.4" y2="561.75" stroke="#222" stroke-width="1.0"/>
<rect x="200.8" y="568.27" width="8" height="3.48" fill="#c8102e"/>
<line x1="204.8" y1="568.27" x2="204.8" y2="565.44" stroke="#222" stroke-width="0.9"/>
<line x1="202.6" y1="565.44" x2="207" y2="565.44" stroke="#222" stroke-width="1.0"/>
<rect x="213.1" y="556.31" width="8" height="15.44" fill="#1a5288"/>
<line x1="217.1" y1="556.31" x2="217.1" y2="553.04" stroke="#222" stroke-width="0.9"/>
<line x1="214.9" y1="553.04" x2="219.3" y2="553.04" stroke="#222" stroke-width="1.0"/>
<circle cx="215.6" cy="549.25" r="0.85" fill="#1a5288"/>
<circle cx="218.6" cy="549.25" r="0.85" fill="#1a5288"/>
<rect x="222" y="571.75" width="8" height="7.83" fill="#c8102e"/>
<line x1="226" y1="579.58" x2="226" y2="584.58" stroke="#222" stroke-width="0.9"/>
<line x1="223.8" y1="584.58" x2="228.2" y2="584.58" stroke="#222" stroke-width="1.0"/>
<rect x="243.2" y="563.27" width="8" height="8.48" fill="#c8102e"/>
<line x1="247.2" y1="563.27" x2="247.2" y2="559.24" stroke="#222" stroke-width="0.9"/>
<line x1="245" y1="559.24" x2="249.4" y2="559.24" stroke="#222" stroke-width="1.0"/>
<line x1="168.25" y1="571.75" x2="253.75" y2="571.75" stroke="#666" stroke-width="1.35"/>
<line x1="168.25" y1="525.5" x2="168.25" y2="626.85" stroke="#111" stroke-width="1.3"/>
<line x1="167.65" y1="626.25" x2="253.75" y2="626.25" stroke="#111" stroke-width="1.3"/>
<line x1="164.75" y1="528" x2="168.25" y2="528" stroke="#111" stroke-width="0.9"/>
<text transform="translate(162.95,530.4) scale(1,1)" font-size="6.9" text-anchor="end" fill="#111" font-weight="normal" font-style="normal" stroke="#111" stroke-width="0.2" >20</text>
<line x1="164.75" y1="549.9" x2="168.25" y2="549.9" stroke="#111" stroke-width="0.9"/>
<text transform="translate(162.95,552.3) scale(1,1)" font-size="6.9" text-anchor="end" fill="#111" font-weight="normal" font-style="normal" stroke="#111" stroke-width="0.2" >10</text>
<line x1="164.75" y1="571.75" x2="168.25" y2="571.75" stroke="#111" stroke-width="0.9"/>
<text transform="translate(162.95,574.15) scale(1,1)" font-size="6.9" text-anchor="end" fill="#111" font-weight="normal" font-style="normal" stroke="#111" stroke-width="0.2" >0</text>
<line x1="164.75" y1="593.5" x2="168.25" y2="593.5" stroke="#111" stroke-width="0.9"/>
<text transform="translate(162.95,595.9) scale(1,1)" font-size="6.9" text-anchor="end" fill="#111" font-weight="normal" font-style="normal" stroke="#111" stroke-width="0.2" >−10</text>
<line x1="164.75" y1="615.25" x2="168.25" y2="615.25" stroke="#111" stroke-width="0.9"/>
<text transform="translate(162.95,617.65) scale(1,1)" font-size="6.9" text-anchor="end" fill="#111" font-weight="normal" font-style="normal" stroke="#111" stroke-width="0.2" >−20</text>
<line x1="173" y1="626.25" x2="173" y2="628.75" stroke="#111" stroke-width="0.8"/>
<text transform="translate(173,636.85) scale(1,1)" font-size="6.9" text-anchor="middle" fill="#111" font-weight="normal" font-style="normal" stroke="#111" stroke-width="0.2" >0</text>
<line x1="183.6" y1="626.25" x2="183.6" y2="628.75" stroke="#111" stroke-width="0.8"/>
<text transform="translate(183.6,636.85) scale(1,1)" font-size="6.9" text-anchor="middle" fill="#111" font-weight="normal" font-style="normal" stroke="#111" stroke-width="0.2" >7</text>
<line x1="194.2" y1="626.25" x2="194.2" y2="628.75" stroke="#111" stroke-width="0.8"/>
<text transform="translate(194.2,636.85) scale(1,1)" font-size="6.9" text-anchor="middle" fill="#111" font-weight="normal" font-style="normal" stroke="#111" stroke-width="0.2" >14</text>
<line x1="204.8" y1="626.25" x2="204.8" y2="628.75" stroke="#111" stroke-width="0.8"/>
<text transform="translate(204.8,636.85) scale(1,1)" font-size="6.9" text-anchor="middle" fill="#111" font-weight="normal" font-style="normal" stroke="#111" stroke-width="0.2" >21</text>
<line x1="215.4" y1="626.25" x2="215.4" y2="628.75" stroke="#111" stroke-width="0.8"/>
<text transform="translate(215.4,636.85) scale(1,1)" font-size="6.9" text-anchor="middle" fill="#111" font-weight="normal" font-style="normal" stroke="#111" stroke-width="0.2" >28</text>
<line x1="226" y1="626.25" x2="226" y2="628.75" stroke="#111" stroke-width="0.8"/>
<text transform="translate(226,636.85) scale(1,1)" font-size="6.9" text-anchor="middle" fill="#111" font-weight="normal" font-style="normal" stroke="#111" stroke-width="0.2" >35</text>
<line x1="236.6" y1="626.25" x2="236.6" y2="628.75" stroke="#111" stroke-width="0.8"/>
<text transform="translate(236.6,636.85) scale(1,1)" font-size="6.9" text-anchor="middle" fill="#111" font-weight="normal" font-style="normal" stroke="#111" stroke-width="0.2" >42</text>
<line x1="247.2" y1="626.25" x2="247.2" y2="628.75" stroke="#111" stroke-width="0.8"/>
<text transform="translate(247.2,636.85) scale(1,1)" font-size="6.9" text-anchor="middle" fill="#111" font-weight="normal" font-style="normal" stroke="#111" stroke-width="0.2" >49</text>
<text transform="translate(210.9,648.75) scale(1,1.2)" font-size="7.2" text-anchor="middle" fill="#222222" font-weight="normal" font-style="normal" textLength="50.7" lengthAdjust="spacingAndGlyphs" stroke="#222222" stroke-width="0.18" >Days under storage</text>
<text stroke="#222222" stroke-width="0.12" transform="translate(143.9,576.1) rotate(-90) scale(1,1.28)" x="0" y="0" font-size="6.6" text-anchor="middle" dominant-baseline="central" fill="#222222" font-weight="normal" textLength="93.5" lengthAdjust="spacingAndGlyphs">% Change in O<tspan font-size="5" dy="1.5">2</tspan><tspan dy="-1.5"> unloading capacity</tspan></text>
<rect x="307.95" y="578.5" width="8" height="29.5" fill="#c8102e"/>
<line x1="311.95" y1="578.5" x2="311.95" y2="577.05" stroke="#222" stroke-width="0.9"/>
<line x1="309.75" y1="577.05" x2="314.15" y2="577.05" stroke="#222" stroke-width="1.0"/>
<circle cx="310.45" cy="573.5" r="0.85" fill="#c8102e"/>
<circle cx="313.45" cy="573.5" r="0.85" fill="#c8102e"/>
<rect x="318.65" y="571.18" width="8" height="36.82" fill="#c8102e"/>
<line x1="322.65" y1="571.18" x2="322.65" y2="569.56" stroke="#222" stroke-width="0.9"/>
<line x1="320.45" y1="569.56" x2="324.85" y2="569.56" stroke="#222" stroke-width="1.0"/>
<circle cx="321.15" cy="565.5" r="0.85" fill="#c8102e"/>
<circle cx="324.15" cy="565.5" r="0.85" fill="#c8102e"/>
<rect x="329.35" y="573.25" width="8" height="34.75" fill="#c8102e"/>
<line x1="333.35" y1="573.25" x2="333.35" y2="571.26" stroke="#222" stroke-width="0.9"/>
<line x1="331.15" y1="571.26" x2="335.55" y2="571.26" stroke="#222" stroke-width="1.0"/>
<circle cx="331.85" cy="567" r="0.85" fill="#c8102e"/>
<circle cx="334.85" cy="567" r="0.85" fill="#c8102e"/>
<rect x="341.75" y="535.24" width="8" height="72.76" fill="#1a5288"/>
<line x1="345.75" y1="535.24" x2="345.75" y2="532.52" stroke="#222" stroke-width="0.9"/>
<line x1="343.55" y1="532.52" x2="347.95" y2="532.52" stroke="#222" stroke-width="1.0"/>
<circle cx="344.25" cy="528" r="0.85" fill="#1a5288"/>
<circle cx="347.25" cy="528" r="0.85" fill="#1a5288"/>
<rect x="350.75" y="603.76" width="8" height="4.24" fill="#c8102e"/>
<line x1="354.75" y1="603.76" x2="354.75" y2="602.5" stroke="#222" stroke-width="0.9"/>
<line x1="352.55" y1="602.5" x2="356.95" y2="602.5" stroke="#222" stroke-width="1.0"/>
<rect x="361.45" y="608" width="8" height="6.01" fill="#c8102e"/>
<line x1="365.45" y1="614.01" x2="365.45" y2="615.75" stroke="#222" stroke-width="0.9"/>
<line x1="363.25" y1="615.75" x2="367.65" y2="615.75" stroke="#222" stroke-width="1.0"/>
<circle cx="365.45" cy="618.5" r="0.8" fill="#c8102e"/>
<rect x="372.15" y="608" width="8" height="10.24" fill="#c8102e"/>
<line x1="376.15" y1="618.24" x2="376.15" y2="619.51" stroke="#222" stroke-width="0.9"/>
<line x1="373.95" y1="619.51" x2="378.35" y2="619.51" stroke="#222" stroke-width="1.0"/>
<circle cx="374.65" cy="623.25" r="0.85" fill="#c8102e"/>
<circle cx="377.65" cy="623.25" r="0.85" fill="#c8102e"/>
<line x1="297" y1="608" x2="382" y2="608" stroke="#666" stroke-width="1.35"/>
<line x1="297" y1="513.75" x2="297" y2="626.85" stroke="#111" stroke-width="1.3"/>
<line x1="296.4" y1="626.25" x2="382" y2="626.25" stroke="#111" stroke-width="1.3"/>
<line x1="293.5" y1="517.5" x2="297" y2="517.5" stroke="#111" stroke-width="0.9"/>
<text transform="translate(291.7,519.9) scale(1,1)" font-size="6.9" text-anchor="end" fill="#111" font-weight="normal" font-style="normal" stroke="#111" stroke-width="0.2" >25</text>
<line x1="293.5" y1="535.6" x2="297" y2="535.6" stroke="#111" stroke-width="0.9"/>
<text transform="translate(291.7,538) scale(1,1)" font-size="6.9" text-anchor="end" fill="#111" font-weight="normal" font-style="normal" stroke="#111" stroke-width="0.2" >20</text>
<line x1="293.5" y1="553.7" x2="297" y2="553.7" stroke="#111" stroke-width="0.9"/>
<text transform="translate(291.7,556.1) scale(1,1)" font-size="6.9" text-anchor="end" fill="#111" font-weight="normal" font-style="normal" stroke="#111" stroke-width="0.2" >15</text>
<line x1="293.5" y1="571.8" x2="297" y2="571.8" stroke="#111" stroke-width="0.9"/>
<text transform="translate(291.7,574.2) scale(1,1)" font-size="6.9" text-anchor="end" fill="#111" font-weight="normal" font-style="normal" stroke="#111" stroke-width="0.2" >10</text>
<line x1="293.5" y1="589.9" x2="297" y2="589.9" stroke="#111" stroke-width="0.9"/>
<text transform="translate(291.7,592.3) scale(1,1)" font-size="6.9" text-anchor="end" fill="#111" font-weight="normal" font-style="normal" stroke="#111" stroke-width="0.2" >5</text>
<line x1="293.5" y1="608" x2="297" y2="608" stroke="#111" stroke-width="0.9"/>
<text transform="translate(291.7,610.4) scale(1,1)" font-size="6.9" text-anchor="end" fill="#111" font-weight="normal" font-style="normal" stroke="#111" stroke-width="0.2" >0</text>
<line x1="293.5" y1="626.1" x2="297" y2="626.1" stroke="#111" stroke-width="0.9"/>
<text transform="translate(291.7,628.5) scale(1,1)" font-size="6.9" text-anchor="end" fill="#111" font-weight="normal" font-style="normal" stroke="#111" stroke-width="0.2" >−5</text>
<line x1="301.25" y1="626.25" x2="301.25" y2="628.75" stroke="#111" stroke-width="0.8"/>
<text transform="translate(301.25,636.85) scale(1,1)" font-size="6.9" text-anchor="middle" fill="#111" font-weight="normal" font-style="normal" stroke="#111" stroke-width="0.2" >0</text>
<line x1="311.95" y1="626.25" x2="311.95" y2="628.75" stroke="#111" stroke-width="0.8"/>
<text transform="translate(311.95,636.85) scale(1,1)" font-size="6.9" text-anchor="middle" fill="#111" font-weight="normal" font-style="normal" stroke="#111" stroke-width="0.2" >7</text>
<line x1="322.65" y1="626.25" x2="322.65" y2="628.75" stroke="#111" stroke-width="0.8"/>
<text transform="translate(322.65,636.85) scale(1,1)" font-size="6.9" text-anchor="middle" fill="#111" font-weight="normal" font-style="normal" stroke="#111" stroke-width="0.2" >14</text>
<line x1="333.35" y1="626.25" x2="333.35" y2="628.75" stroke="#111" stroke-width="0.8"/>
<text transform="translate(333.35,636.85) scale(1,1)" font-size="6.9" text-anchor="middle" fill="#111" font-weight="normal" font-style="normal" stroke="#111" stroke-width="0.2" >21</text>
<line x1="344.05" y1="626.25" x2="344.05" y2="628.75" stroke="#111" stroke-width="0.8"/>
<text transform="translate(344.05,636.85) scale(1,1)" font-size="6.9" text-anchor="middle" fill="#111" font-weight="normal" font-style="normal" stroke="#111" stroke-width="0.2" >28</text>
<line x1="354.75" y1="626.25" x2="354.75" y2="628.75" stroke="#111" stroke-width="0.8"/>
<text transform="translate(354.75,636.85) scale(1,1)" font-size="6.9" text-anchor="middle" fill="#111" font-weight="normal" font-style="normal" stroke="#111" stroke-width="0.2" >35</text>
<line x1="365.45" y1="626.25" x2="365.45" y2="628.75" stroke="#111" stroke-width="0.8"/>
<text transform="translate(365.45,636.85) scale(1,1)" font-size="6.9" text-anchor="middle" fill="#111" font-weight="normal" font-style="normal" stroke="#111" stroke-width="0.2" >42</text>
<line x1="376.15" y1="626.25" x2="376.15" y2="628.75" stroke="#111" stroke-width="0.8"/>
<text transform="translate(376.15,636.85) scale(1,1)" font-size="6.9" text-anchor="middle" fill="#111" font-weight="normal" font-style="normal" stroke="#111" stroke-width="0.2" >49</text>
<text transform="translate(339.5,648.75) scale(1,1.2)" font-size="7.2" text-anchor="middle" fill="#222222" font-weight="normal" font-style="normal" textLength="50.7" lengthAdjust="spacingAndGlyphs" stroke="#222222" stroke-width="0.18" >Days under storage</text>
<text stroke="#222222" stroke-width="0.12" transform="translate(275.5,570.1) rotate(-90) scale(1,1.28)" x="0" y="0" font-size="6.6" text-anchor="middle" dominant-baseline="central" fill="#222222" font-weight="normal" textLength="66" lengthAdjust="spacingAndGlyphs">% Change in side scatter</text>
<rect x="439.6" y="570.12" width="8" height="1.63" fill="#c8102e"/>
<line x1="443.6" y1="570.12" x2="443.6" y2="569.76" stroke="#222" stroke-width="0.9"/>
<line x1="441.4" y1="569.76" x2="445.8" y2="569.76" stroke="#222" stroke-width="1.0"/>
<rect x="450.2" y="570.12" width="8" height="1.63" fill="#c8102e"/>
<line x1="454.2" y1="570.12" x2="454.2" y2="569.76" stroke="#222" stroke-width="0.9"/>
<line x1="452" y1="569.76" x2="456.4" y2="569.76" stroke="#222" stroke-width="1.0"/>
<rect x="460.8" y="570.48" width="8" height="1.27" fill="#c8102e"/>
<line x1="464.8" y1="570.48" x2="464.8" y2="570.12" stroke="#222" stroke-width="0.9"/>
<line x1="462.6" y1="570.12" x2="467" y2="570.12" stroke="#222" stroke-width="1.0"/>
<rect x="473.1" y="570.12" width="8" height="1.63" fill="#1a5288"/>
<line x1="477.1" y1="570.12" x2="477.1" y2="569.76" stroke="#222" stroke-width="0.9"/>
<line x1="474.9" y1="569.76" x2="479.3" y2="569.76" stroke="#222" stroke-width="1.0"/>
<rect x="482" y="571.75" width="8" height="1.09" fill="#4a1a22"/>
<line x1="486" y1="572.84" x2="486" y2="573.02" stroke="#222" stroke-width="0.9"/>
<line x1="483.8" y1="573.02" x2="488.2" y2="573.02" stroke="#222" stroke-width="1.0"/>
<rect x="492.6" y="571.75" width="8" height="0.9" fill="#4a1a22"/>
<line x1="496.6" y1="572.65" x2="496.6" y2="572.84" stroke="#222" stroke-width="0.9"/>
<line x1="494.4" y1="572.84" x2="498.8" y2="572.84" stroke="#222" stroke-width="1.0"/>
<rect x="503.2" y="571.75" width="8" height="0.9" fill="#4a1a22"/>
<line x1="507.2" y1="572.65" x2="507.2" y2="572.84" stroke="#222" stroke-width="0.9"/>
<line x1="505" y1="572.84" x2="509.4" y2="572.84" stroke="#222" stroke-width="1.0"/>
<line x1="428" y1="571.75" x2="513.75" y2="571.75" stroke="#666" stroke-width="1.35"/>
<line x1="428" y1="513.75" x2="428" y2="626.85" stroke="#111" stroke-width="1.3"/>
<line x1="427.4" y1="626.25" x2="513.75" y2="626.25" stroke="#111" stroke-width="1.3"/>
<line x1="424.5" y1="517.5" x2="428" y2="517.5" stroke="#111" stroke-width="0.9"/>
<text transform="translate(422.7,519.9) scale(1,1)" font-size="6.9" text-anchor="end" fill="#111" font-weight="normal" font-style="normal" stroke="#111" stroke-width="0.2" >15</text>
<line x1="424.5" y1="535.6" x2="428" y2="535.6" stroke="#111" stroke-width="0.9"/>
<text transform="translate(422.7,538) scale(1,1)" font-size="6.9" text-anchor="end" fill="#111" font-weight="normal" font-style="normal" stroke="#111" stroke-width="0.2" >10</text>
<line x1="424.5" y1="553.7" x2="428" y2="553.7" stroke="#111" stroke-width="0.9"/>
<text transform="translate(422.7,556.1) scale(1,1)" font-size="6.9" text-anchor="end" fill="#111" font-weight="normal" font-style="normal" stroke="#111" stroke-width="0.2" >5</text>
<line x1="424.5" y1="571.75" x2="428" y2="571.75" stroke="#111" stroke-width="0.9"/>
<text transform="translate(422.7,574.15) scale(1,1)" font-size="6.9" text-anchor="end" fill="#111" font-weight="normal" font-style="normal" stroke="#111" stroke-width="0.2" >0</text>
<line x1="424.5" y1="589.9" x2="428" y2="589.9" stroke="#111" stroke-width="0.9"/>
<text transform="translate(422.7,592.3) scale(1,1)" font-size="6.9" text-anchor="end" fill="#111" font-weight="normal" font-style="normal" stroke="#111" stroke-width="0.2" >−5</text>
<line x1="424.5" y1="608" x2="428" y2="608" stroke="#111" stroke-width="0.9"/>
<text transform="translate(422.7,610.4) scale(1,1)" font-size="6.9" text-anchor="end" fill="#111" font-weight="normal" font-style="normal" stroke="#111" stroke-width="0.2" >−10</text>
<line x1="424.5" y1="626.1" x2="428" y2="626.1" stroke="#111" stroke-width="0.9"/>
<text transform="translate(422.7,628.5) scale(1,1)" font-size="6.9" text-anchor="end" fill="#111" font-weight="normal" font-style="normal" stroke="#111" stroke-width="0.2" >−15</text>
<line x1="433" y1="626.25" x2="433" y2="628.75" stroke="#111" stroke-width="0.8"/>
<text transform="translate(433,636.85) scale(1,1)" font-size="6.9" text-anchor="middle" fill="#111" font-weight="normal" font-style="normal" stroke="#111" stroke-width="0.2" >0</text>
<line x1="443.6" y1="626.25" x2="443.6" y2="628.75" stroke="#111" stroke-width="0.8"/>
<text transform="translate(443.6,636.85) scale(1,1)" font-size="6.9" text-anchor="middle" fill="#111" font-weight="normal" font-style="normal" stroke="#111" stroke-width="0.2" >7</text>
<line x1="454.2" y1="626.25" x2="454.2" y2="628.75" stroke="#111" stroke-width="0.8"/>
<text transform="translate(454.2,636.85) scale(1,1)" font-size="6.9" text-anchor="middle" fill="#111" font-weight="normal" font-style="normal" stroke="#111" stroke-width="0.2" >14</text>
<line x1="464.8" y1="626.25" x2="464.8" y2="628.75" stroke="#111" stroke-width="0.8"/>
<text transform="translate(464.8,636.85) scale(1,1)" font-size="6.9" text-anchor="middle" fill="#111" font-weight="normal" font-style="normal" stroke="#111" stroke-width="0.2" >21</text>
<line x1="475.4" y1="626.25" x2="475.4" y2="628.75" stroke="#111" stroke-width="0.8"/>
<text transform="translate(475.4,636.85) scale(1,1)" font-size="6.9" text-anchor="middle" fill="#111" font-weight="normal" font-style="normal" stroke="#111" stroke-width="0.2" >28</text>
<line x1="486" y1="626.25" x2="486" y2="628.75" stroke="#111" stroke-width="0.8"/>
<text transform="translate(486,636.85) scale(1,1)" font-size="6.9" text-anchor="middle" fill="#111" font-weight="normal" font-style="normal" stroke="#111" stroke-width="0.2" >35</text>
<line x1="496.6" y1="626.25" x2="496.6" y2="628.75" stroke="#111" stroke-width="0.8"/>
<text transform="translate(496.6,636.85) scale(1,1)" font-size="6.9" text-anchor="middle" fill="#111" font-weight="normal" font-style="normal" stroke="#111" stroke-width="0.2" >42</text>
<line x1="507.2" y1="626.25" x2="507.2" y2="628.75" stroke="#111" stroke-width="0.8"/>
<text transform="translate(507.2,636.85) scale(1,1)" font-size="6.9" text-anchor="middle" fill="#111" font-weight="normal" font-style="normal" stroke="#111" stroke-width="0.2" >49</text>
<text transform="translate(470.9,648.75) scale(1,1.2)" font-size="7.2" text-anchor="middle" fill="#222222" font-weight="normal" font-style="normal" textLength="50.7" lengthAdjust="spacingAndGlyphs" stroke="#222222" stroke-width="0.18" >Days under storage</text>
<text stroke="#222222" stroke-width="0.12" transform="translate(404.5,571) rotate(-90) scale(1,1.28)" x="0" y="0" font-size="6.6" text-anchor="middle" dominant-baseline="central" fill="#222222" font-weight="normal" textLength="77" lengthAdjust="spacingAndGlyphs">% Change in forward scatter</text>
</svg></body></html>
